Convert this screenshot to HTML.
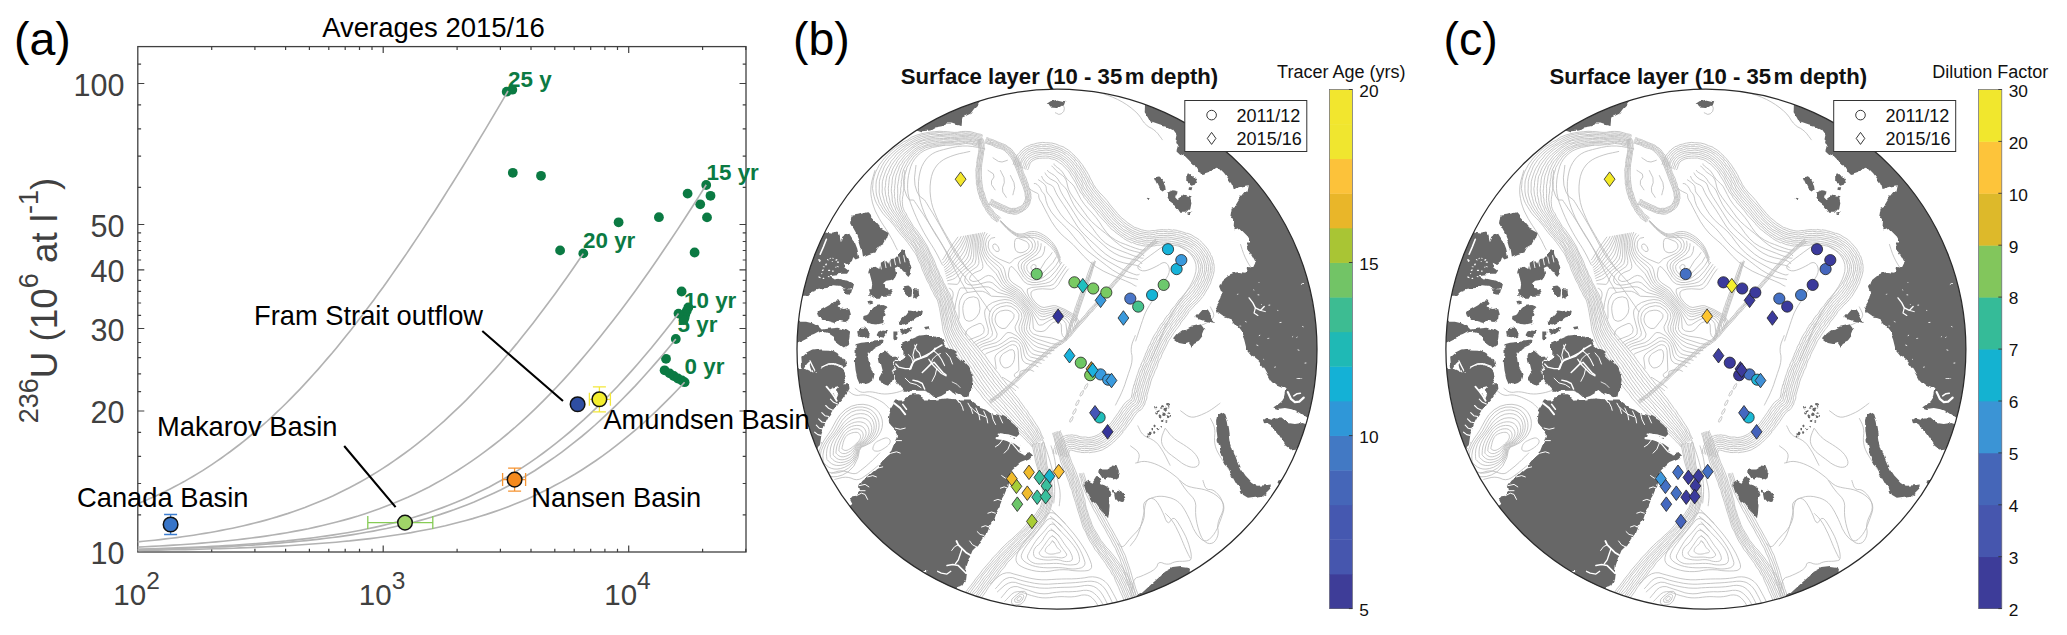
<!DOCTYPE html><html><head><meta charset="utf-8"><style>html,body{margin:0;padding:0;background:#fff}svg{display:block;font-family:"Liberation Sans",sans-serif}</style></head><body>
<svg width="2067" height="635" viewBox="0 0 2067 635">
<rect width="2067" height="635" fill="#fff"/>
<defs><clipPath id="clipb"><circle cx="1057.0" cy="349.2" r="260.0"/></clipPath>
<g id="mapbase">
<circle cx="1057.0" cy="349.2" r="260.0" fill="#fff"/>
<g clip-path="url(#clipb)">
<path d="M979.6 147.0L979.1 146.4L977.2 146.0L974.7 145.4L971.3 144.1L968.8 143.8L965.8 143.4L962.6 144.0L958.8 144.8L955.2 144.7L950.6 145.3L947.0 145.2L942.9 145.1L939.3 145.1L936.1 145.7L932.3 146.1L928.7 147.0L925.5 147.8L922.8 149.6L919.9 151.2L917.3 153.8L914.2 156.0L912.3 158.9L910.4 161.5L908.6 164.7L906.9 167.5L906.3 170.4L905.4 172.9L904.7 175.4L904.8 178.1L904.2 180.5L904.4 182.7L904.2 184.6L904.1 186.8L903.9 188.6L903.6 190.4L903.0 192.9L903.2 195.0L902.6 196.8L902.4 199.5L902.3 201.6L902.5 203.8L902.7 206.6L903.4 208.7L904.4 211.3L906.2 213.6L907.4 216.6L908.8 218.8L910.0 220.7L911.5 223.2L913.3 226.4L916.2 229.5L919.3 233.8L922.2 238.0L925.0 242.5L927.5 246.6L929.2 250.7L931.3 254.9L933.5 259.2L935.2 263.2L936.5 267.2L938.3 270.6L939.6 274.3L941.9 278.3L943.4 282.3L945.3 285.4L946.8 288.7L948.1 291.1L949.8 293.8L951.0 297.1L952.2 300.8L953.7 304.9L954.7 309.8L956.3 313.5L957.8 317.9L959.0 321.2L960.6 325.0L962.4 328.1L964.8 331.1L967.0 334.5L970.3 337.6L973.0 341.3L976.1 344.8L979.0 348.4L981.8 351.8L985.3 355.9L987.8 359.7L990.6 363.5L993.4 366.8L995.6 370.0L998.6 373.5L1001.3 377.6L1004.0 380.7L1007.0 384.6L1009.7 387.8L1012.2 391.0L1014.8 394.6L1017.7 397.8L1020.2 401.5L1022.7 404.8L1025.0 408.3L1027.4 410.9L1029.1 414.1L1031.7 417.4L1033.5 420.3L1035.9 424.1L1038.1 427.2L1040.0 430.9L1041.4 434.5L1042.5 436.8L1043.2 438.1L1044.1 438.9 M980.3 145.7L979.5 145.3L977.5 144.7L975.2 144.2L972.1 143.4L968.5 142.7L965.4 142.2L962.2 142.9L959.0 143.5L954.8 143.8L951.0 143.9L946.9 143.8L942.8 143.7L939.8 144.0L936.2 144.2L932.1 145.0L928.7 145.3L925.3 146.4L921.7 148.4L918.7 149.8L916.4 152.1L913.1 154.5L910.7 157.5L908.4 160.4L906.7 163.4L905.4 166.0L903.8 168.9L902.8 171.8L902.2 174.2L902.2 177.1L901.6 179.7L901.2 181.7L901.4 184.5L901.2 186.2L900.6 188.7L900.8 190.9L900.5 193.2L900.0 195.4L899.9 197.5L899.8 199.9L900.3 202.4L900.4 205.0L901.2 207.2L901.7 209.6L903.0 212.4L904.8 214.7L905.8 217.3L907.3 219.6L908.4 221.3L910.1 223.9L912.4 226.9L914.8 230.7L918.0 234.9L921.1 239.1L923.6 243.1L926.4 247.1L928.5 251.3L930.4 255.8L932.2 259.4L933.5 263.6L935.6 267.4L937.2 271.2L938.9 274.9L940.4 279.3L942.6 283.1L944.4 286.5L945.9 289.2L947.1 291.7L948.5 294.5L949.6 297.3L951.3 301.4L952.3 305.4L953.7 309.9L954.7 314.0L956.0 317.8L957.7 321.9L959.1 325.2L960.8 328.6L962.7 331.9L965.6 335.3L968.2 338.9L971.1 342.3L974.2 346.2L977.2 349.8L980.2 353.6L982.8 357.2L985.7 360.8L988.4 364.8L991.3 368.6L993.5 372.0L996.0 375.2L999.0 379.2L1001.7 382.7L1005.0 386.0L1007.6 389.7L1010.2 392.9L1013.2 396.2L1016.1 399.8L1018.8 403.0L1020.8 406.2L1023.2 409.6L1025.7 412.3L1027.8 415.8L1029.8 418.7L1031.9 421.9L1034.1 425.3L1036.7 428.4L1038.3 432.0L1040.4 434.8L1041.6 437.7L1042.3 439.2L1042.6 440.1 M980.8 144.4L979.8 144.2L977.7 143.6L975.1 143.2L972.3 141.8L969.0 141.4L965.5 141.2L962.2 141.6L958.4 141.8L954.8 142.1L950.9 142.7L947.1 142.5L943.0 142.5L939.4 142.6L935.7 143.0L932.2 143.6L928.5 144.2L924.7 145.5L921.5 146.8L918.1 148.4L914.9 151.0L912.0 153.4L909.6 156.2L907.4 159.0L904.9 161.7L903.3 164.6L901.9 167.5L900.8 170.2L899.9 173.4L899.1 176.2L898.8 179.0L898.3 181.5L898.0 183.6L897.5 186.1L897.7 188.8L897.7 191.0L897.7 193.5L897.6 195.9L897.6 198.6L897.5 200.6L898.0 203.3L898.3 205.5L899.2 208.2L900.2 210.9L901.7 213.4L903.4 215.9L904.6 218.3L906.1 220.5L907.4 222.5L909.1 225.1L911.5 228.2L914.1 231.7L917.2 235.6L919.8 239.6L922.7 244.1L925.0 247.8L927.2 252.1L928.9 255.8L930.7 260.2L932.4 264.0L934.1 267.8L935.7 272.2L937.5 275.7L939.3 279.7L941.0 283.3L943.2 286.8L944.3 290.2L945.9 292.5L947.2 295.1L948.2 298.1L949.8 301.8L950.7 305.8L951.8 310.3L953.0 314.6L954.7 318.5L955.7 322.8L957.5 326.3L958.8 329.8L961.2 332.9L963.5 336.7L966.6 340.0L969.4 343.7L972.5 347.6L975.4 351.4L978.1 354.8L980.9 358.5L983.4 362.6L986.2 366.3L988.7 370.0L991.5 373.3L993.9 377.0L996.9 380.4L999.6 384.0L1002.7 388.0L1005.3 391.0L1008.5 394.8L1011.5 398.0L1013.9 401.5L1016.5 404.7L1019.0 407.8L1021.6 411.0L1023.6 413.9L1026.3 417.0L1028.4 419.8L1030.8 422.9L1033.0 426.4L1035.4 429.1L1037.2 432.9L1038.8 435.9L1040.2 438.5L1041.0 440.1L1041.6 440.5 M981.1 143.0L979.8 143.2L978.0 142.5L975.4 141.8L972.5 141.1L968.8 140.0L965.9 139.8L962.1 140.0L958.4 140.5L954.8 141.3L950.9 141.5L947.0 141.2L943.3 141.4L939.6 141.0L935.4 141.7L931.9 141.9L927.9 142.8L924.2 143.6L920.6 145.3L917.2 147.4L914.1 149.5L911.3 152.0L908.5 154.7L905.6 157.6L903.2 160.6L901.6 163.5L899.5 166.1L898.6 169.3L897.3 172.6L896.2 175.3L895.7 177.8L895.2 180.9L895.2 183.1L894.7 185.7L894.7 188.3L894.2 191.1L894.6 193.7L894.4 196.6L895.1 199.2L895.1 201.5L895.6 204.2L896.4 206.6L897.7 209.5L898.8 211.5L900.3 214.2L902.1 216.9L903.5 219.2L904.7 221.6L906.3 223.3L907.6 225.8L910.1 228.7L912.6 232.5L915.6 236.6L918.9 240.4L921.3 244.5L923.6 248.8L925.8 252.7L927.4 256.9L929.3 260.6L930.9 264.9L932.7 268.9L934.6 272.8L936.3 276.6L938.2 280.4L939.7 284.2L941.7 287.9L943.4 290.8L944.8 293.2L946.1 295.6L947.1 298.5L948.6 302.1L949.2 305.9L950.6 310.6L951.9 314.7L952.8 319.1L954.0 322.8L955.6 326.6L957.1 330.2L959.4 334.0L961.5 337.4L964.8 341.5L967.3 345.5L970.0 348.9L973.3 352.8L975.8 356.6L978.8 360.4L981.7 363.9L984.2 367.7L986.9 371.5L989.4 375.2L992.2 378.5L994.6 382.4L997.9 386.0L1000.6 389.5L1003.7 393.2L1006.4 396.1L1009.5 399.6L1011.9 402.8L1014.9 405.9L1017.2 409.3L1020.0 412.7L1022.4 415.6L1024.5 418.5L1026.8 421.4L1029.4 424.6L1031.4 427.4L1033.6 430.3L1035.7 433.7L1037.6 437.1L1038.8 439.2L1040.2 440.8L1040.4 441.4 M981.1 142.4L980.5 142.0L978.8 141.7L976.2 140.6L972.6 139.8L969.1 139.2L965.7 138.7L962.2 138.8L958.4 139.5L954.4 139.7L950.7 140.2L947.0 139.8L943.5 139.6L939.4 139.9L935.7 140.0L931.8 140.5L927.7 141.3L924.0 142.6L919.8 143.7L916.8 145.6L912.9 147.9L910.0 150.7L907.0 153.2L904.5 155.7L901.8 159.2L899.6 162.0L897.6 165.3L896.4 167.8L894.8 171.2L893.8 174.1L892.7 177.1L892.2 180.3L892.1 183.1L891.7 185.5L891.4 188.6L891.3 191.3L891.8 193.9L892.1 196.7L892.2 199.9L892.7 202.4L893.6 205.2L894.9 207.5L895.8 210.5L897.2 212.6L899.0 215.2L900.4 217.4L902.2 220.1L903.7 222.5L904.7 224.3L906.6 227.0L909.1 229.7L911.4 233.4L914.7 237.1L917.4 241.4L920.3 245.6L922.5 249.4L924.3 253.2L926.3 257.4L928.0 261.0L929.8 265.2L931.3 269.2L932.9 273.3L935.0 277.0L936.5 280.8L938.8 284.9L940.6 288.5L941.9 291.3L943.3 293.7L944.4 296.0L945.5 299.0L947.0 302.5L948.1 306.2L948.8 311.0L950.4 315.2L951.0 319.1L952.4 323.6L953.6 327.2L955.6 331.5L957.5 335.1L959.9 338.6L962.6 342.5L965.4 346.8L968.4 350.1L970.9 354.3L973.7 357.8L976.5 361.4L979.0 365.2L981.9 369.4L984.5 372.7L987.2 376.4L989.8 380.2L992.9 383.9L995.8 387.8L998.8 391.3L1001.7 394.7L1004.6 398.2L1007.4 401.4L1010.3 404.6L1013.2 407.9L1015.6 410.7L1018.0 413.8L1020.3 416.9L1022.9 419.7L1025.1 422.8L1027.7 425.5L1029.8 428.4L1032.4 431.5L1034.4 434.8L1036.4 437.8L1037.4 439.8L1038.8 441.3L1039.4 442.0 M981.7 140.8L980.8 141.0L978.8 140.5L976.1 139.7L972.8 138.5L969.1 137.9L965.6 137.7L962.3 137.8L958.0 138.5L954.8 138.6L950.7 138.7L947.3 138.6L943.4 138.4L939.3 138.6L935.4 138.7L931.1 139.1L926.9 140.0L922.9 140.7L919.2 142.3L915.8 144.3L912.1 146.9L909.2 149.2L906.0 151.9L902.7 154.7L900.0 157.5L897.6 160.4L895.7 163.9L893.6 167.1L892.2 170.2L891.3 173.5L889.7 176.4L889.2 179.4L888.9 182.5L888.6 185.6L888.3 188.2L888.5 191.7L888.4 194.6L889.1 197.3L889.8 200.6L890.2 203.4L891.4 206.1L892.5 208.7L893.8 211.1L895.9 213.8L897.5 216.2L899.0 218.6L900.8 221.1L902.0 223.1L903.6 225.2L905.7 227.9L907.5 230.7L910.2 233.9L913.3 238.0L916.6 242.2L919.2 245.9L921.1 250.3L923.4 254.2L924.8 257.8L927.0 261.9L928.8 265.7L930.1 269.4L932.0 273.9L933.8 277.7L935.4 281.3L937.6 285.7L939.5 288.7L940.8 292.0L942.1 294.7L943.6 296.9L944.6 299.6L945.6 302.9L946.4 306.9L947.3 311.3L948.5 315.7L949.8 319.9L951.2 323.8L951.8 328.3L953.6 331.9L955.7 336.1L958.4 340.1L960.8 344.0L963.6 347.9L966.3 351.6L969.1 355.6L971.7 359.6L974.5 362.9L977.2 367.1L979.9 370.7L982.4 374.3L984.7 378.0L987.5 381.7L990.5 385.4L993.3 389.2L996.3 393.2L999.5 396.3L1002.5 400.1L1005.5 403.2L1008.3 406.1L1011.2 409.2L1013.9 412.2L1016.4 415.4L1018.9 418.5L1021.0 421.3L1023.5 424.0L1026.2 426.7L1028.7 430.0L1030.8 432.8L1032.8 435.6L1034.9 438.5L1036.3 440.9L1037.3 442.2L1037.9 443.2 M981.9 139.9L981.1 139.5L979.0 139.3L976.5 138.5L973.4 137.4L969.3 136.9L965.9 136.3L961.8 136.5L958.0 137.2L954.6 137.5L950.7 137.6L946.9 137.4L943.2 136.7L939.1 136.8L935.5 137.1L931.1 137.8L926.8 138.5L922.9 139.8L918.8 141.3L915.2 143.1L911.2 145.1L907.6 147.9L904.3 150.3L901.4 152.8L898.3 156.3L895.8 159.4L893.7 162.1L891.5 165.4L889.7 169.0L888.5 172.4L886.9 175.6L886.3 178.7L885.6 182.3L885.6 185.4L884.9 188.7L885.3 191.9L885.5 194.6L886.5 197.8L886.8 201.0L888.4 204.1L889.3 207.0L891.0 209.7L892.4 212.1L894.3 214.7L896.2 217.3L897.9 219.6L899.3 221.9L900.7 223.8L902.4 226.3L904.1 228.9L906.7 231.8L909.2 235.4L912.6 239.1L915.0 243.0L917.5 247.0L919.9 250.6L922.0 254.6L923.9 258.4L925.7 262.6L927.2 266.3L929.0 269.9L930.3 274.1L932.1 278.4L934.0 281.9L936.1 286.0L938.2 289.8L939.8 292.7L940.6 295.0L942.1 297.5L943.0 300.3L944.2 303.3L945.2 306.8L945.9 311.8L946.9 315.8L948.0 320.4L949.1 324.3L950.3 328.6L952.1 332.7L954.2 337.3L956.5 340.9L958.9 345.5L961.9 349.1L964.4 353.1L967.3 356.8L969.7 361.0L972.7 364.3L975.1 368.5L977.8 372.1L980.3 375.7L982.5 379.5L985.5 383.3L988.2 387.1L991.1 391.4L994.3 395.0L997.6 398.1L1000.8 401.3L1003.9 404.6L1006.3 408.0L1009.0 411.2L1011.7 414.2L1014.2 417.0L1016.9 419.8L1019.6 422.7L1022.2 425.6L1024.6 428.0L1027.3 430.7L1029.7 433.6L1031.6 436.2L1033.4 439.1L1035.3 441.7L1036.6 443.0L1037.0 443.7 M981.9 138.6L981.4 138.6L979.9 138.1L977.0 137.2L973.4 136.1L969.8 135.5L966.0 135.2L961.9 135.5L958.2 135.8L954.5 136.2L950.8 135.9L947.0 136.0L943.1 135.6L939.5 135.4L935.1 135.9L931.2 136.4L926.6 137.0L922.2 138.2L918.1 139.8L913.8 141.7L910.5 143.7L906.4 146.2L903.3 149.0L900.2 151.5L896.6 154.4L894.2 157.9L891.1 161.2L889.4 164.5L887.0 168.2L885.7 171.2L884.4 174.8L883.3 178.2L882.4 181.6L882.2 185.0L882.3 188.2L882.1 192.1L882.8 195.2L883.6 198.3L884.4 201.4L885.5 205.0L887.4 207.8L888.6 210.5L890.5 213.1L892.6 215.5L894.4 218.3L896.5 220.6L897.9 222.8L899.6 224.8L901.1 226.8L902.7 229.4L905.1 232.6L908.1 236.3L911.4 240.1L914.4 243.6L916.5 247.4L918.6 251.3L920.7 254.9L922.8 259.3L924.1 262.6L925.7 266.9L927.8 270.5L929.0 274.8L930.9 278.4L932.7 282.5L934.8 286.6L936.8 290.0L938.1 293.1L939.9 295.7L940.8 297.9L941.7 300.4L942.5 303.4L943.8 307.6L944.4 311.7L945.7 316.2L946.7 321.0L947.3 325.2L948.4 329.0L950.1 333.5L952.2 337.9L954.7 342.4L956.9 346.4L959.9 350.4L962.7 354.8L965.0 358.4L967.6 362.3L970.2 365.8L972.8 369.7L975.3 373.5L978.1 377.5L980.6 381.5L983.2 385.1L986.1 389.2L989.5 393.0L992.5 396.2L995.2 400.2L998.8 403.4L1001.9 406.9L1004.8 409.6L1007.4 412.6L1010.0 415.6L1012.4 418.3L1015.2 421.4L1018.3 424.3L1020.5 426.8L1023.4 429.2L1025.5 432.1L1027.9 434.8L1030.1 437.6L1032.3 440.2L1034.1 442.6L1035.4 444.0L1035.8 444.3 M982.3 137.6L981.9 137.4L979.7 136.7L977.6 136.0L973.9 135.2L970.0 134.4L965.9 133.9L961.5 134.3L957.6 134.3L954.4 135.0L950.6 134.6L947.4 134.5L943.3 134.2L939.0 134.5L935.2 134.1L930.5 134.6L926.2 135.8L921.6 136.6L917.4 138.3L913.6 140.2L909.6 142.5L905.6 145.1L902.1 147.4L898.5 150.2L895.1 153.0L891.9 156.6L889.0 159.6L886.5 163.2L884.3 166.8L882.9 170.5L881.6 173.7L880.3 177.5L879.4 181.3L879.3 184.9L879.3 188.1L879.1 192.0L879.6 195.2L880.6 199.0L881.7 202.0L883.3 205.6L885.1 208.7L887.0 211.6L889.0 214.1L890.9 216.5L892.8 219.4L895.1 221.2L896.5 223.6L898.2 226.0L899.7 227.7L901.8 230.7L904.0 233.5L906.7 236.9L910.4 240.6L912.8 244.6L915.4 248.3L917.6 252.1L919.4 255.7L921.2 259.6L923.1 263.7L924.6 267.3L926.5 271.6L927.8 275.4L929.6 279.5L931.4 283.3L933.7 287.4L935.7 291.0L937.1 293.9L938.2 296.6L939.6 298.7L940.3 301.0L941.1 304.2L942.5 307.7L943.2 312.4L943.8 316.5L945.0 321.1L945.6 325.5L947.1 330.1L948.5 334.7L950.2 338.9L952.4 343.3L955.6 347.6L958.0 352.0L960.8 356.3L962.9 359.8L966.0 363.7L968.1 367.8L970.8 371.2L973.2 375.0L975.6 378.9L978.1 382.9L981.4 386.8L984.3 390.5L987.0 394.2L990.6 398.0L993.4 401.8L996.8 405.2L999.8 408.5L1002.7 411.5L1005.3 414.4L1008.0 417.1L1010.9 419.8L1013.6 423.0L1016.1 425.4L1019.5 428.2L1021.8 431.0L1024.5 433.0L1026.7 435.5L1029.1 438.4L1031.3 440.8L1033.1 443.0L1034.2 444.6L1034.7 445.1 M982.6 136.4L982.2 136.1L980.3 135.4L977.7 134.8L974.2 134.0L969.9 132.9L965.6 133.0L961.7 132.7L958.0 133.1L954.2 133.6L950.5 133.2L947.0 133.1L943.4 132.8L939.1 132.5L934.9 133.0L930.7 133.3L926.0 134.1L921.5 135.1L916.9 136.8L912.5 138.8L908.4 141.0L904.7 143.7L900.8 146.1L897.2 148.7L893.6 151.8L890.2 155.0L887.2 158.3L884.3 161.9L882.1 165.6L880.2 169.7L878.6 173.1L877.5 176.9L876.3 180.9L876.0 184.5L876.0 188.6L876.1 192.0L876.8 196.0L878.0 199.3L879.2 203.2L881.3 206.3L883.1 209.5L884.9 212.0L887.3 215.0L889.6 217.7L891.6 220.4L893.3 222.4L895.1 224.6L897.1 226.9L898.7 228.5L900.5 231.4L903.1 234.5L906.1 238.1L908.8 241.5L912.0 245.1L914.5 248.8L916.4 252.4L918.0 256.3L920.2 260.3L921.6 263.8L923.3 267.7L924.8 271.8L926.7 276.1L928.3 279.9L930.5 283.7L932.4 287.7L934.5 291.4L935.6 294.5L937.2 297.4L938.4 298.9L939.4 301.1L940.1 304.2L941.0 307.9L941.8 312.8L942.6 316.9L943.2 321.4L944.3 326.3L945.2 330.6L946.7 335.0L948.5 339.8L951.0 344.6L953.4 349.2L955.8 353.1L958.4 357.1L961.2 361.4L963.8 365.3L965.9 369.3L968.8 372.5L971.0 376.7L973.4 380.6L976.3 384.5L979.2 388.5L982.0 392.0L985.1 396.3L988.3 400.0L991.4 403.7L994.6 407.0L997.9 409.9L1000.6 412.8L1003.6 415.9L1006.2 418.4L1009.4 421.7L1011.9 424.2L1014.9 426.7L1017.7 429.7L1020.7 432.1L1022.9 434.3L1025.5 436.8L1027.6 439.4L1029.8 441.7L1031.6 444.2L1032.7 445.2L1033.1 446.4 M982.9 135.3L982.1 135.0L980.8 134.3L977.9 133.8L974.3 132.7L970.0 131.6L965.9 131.4L961.6 131.5L957.5 132.3L954.1 132.4L950.7 132.1L947.2 131.7L943.6 131.5L939.2 131.3L934.8 131.7L930.4 132.1L925.5 132.9L920.9 133.9L916.3 135.3L911.5 137.2L907.8 139.9L903.6 141.9L899.7 144.8L895.7 147.3L891.6 150.7L888.6 153.9L885.0 157.3L882.3 160.9L879.3 165.0L877.4 168.6L875.6 172.1L874.2 176.1L873.1 180.7L872.9 184.4L872.5 188.4L873.2 192.4L874.1 196.5L875.1 200.0L876.7 203.6L878.7 206.8L880.6 209.9L882.8 213.2L885.4 216.2L887.7 218.6L890.4 221.0L892.1 223.5L894.1 225.4L895.5 227.6L897.1 229.9L899.2 232.5L901.5 235.4L904.6 238.7L907.8 242.7L910.4 246.3L912.7 249.8L915.3 253.3L917.2 256.9L918.7 261.0L920.8 264.8L921.9 268.7L923.6 272.6L925.3 276.3L927.1 280.6L929.5 284.6L931.0 288.7L933.2 292.3L934.3 295.1L936.2 298.0L937.3 299.9L938.0 302.0L938.6 304.6L939.5 308.4L940.3 312.7L941.1 317.6L941.9 322.2L942.5 326.5L943.2 331.0L944.9 335.8L946.7 341.0L949.1 346.0L951.6 350.4L954.0 354.8L956.6 359.1L958.9 362.7L961.5 366.9L964.2 370.4L966.3 374.3L968.7 378.2L971.0 382.1L973.8 386.1L977.0 390.2L980.1 393.7L983.1 398.1L986.4 401.6L989.6 405.1L993.0 408.6L996.3 411.5L999.0 414.5L1002.0 417.8L1004.6 420.4L1007.2 422.7L1010.5 425.7L1013.0 428.5L1016.4 430.7L1019.0 433.2L1021.2 435.3L1023.6 437.7L1026.1 440.2L1028.6 443.0L1030.6 444.6L1031.6 446.4L1032.0 446.9 M913.6 200.0L914.6 201.5L916.6 204.4L919.5 208.9L923.5 214.7L927.2 220.5L930.8 226.0L934.1 231.3L937.3 236.4L940.3 241.4L943.3 246.4L946.1 251.2L948.9 255.9L951.6 260.2L954.4 264.2L957.1 267.7L959.9 270.9L962.8 274.4L966.0 278.4L969.3 282.7L972.9 287.4L976.3 292.0L979.5 296.6L982.6 301.1L985.6 305.4L987.8 308.7L989.3 310.9L990.0 312.0 M924.6 200.0L925.4 201.3L927.0 203.8L929.3 207.7L932.5 212.8L935.4 217.7L938.2 222.5L940.8 227.0L943.1 231.3L945.6 235.8L948.2 240.6L950.8 245.5L953.6 250.6L956.5 255.4L959.7 260.0L963.0 264.2L966.6 268.1L970.0 271.9L973.4 275.7L976.6 279.3L979.8 282.9L982.5 285.9L984.7 288.5L986.6 290.6L987.9 292.1L989.0 293.3L989.7 294.1L990.0 294.5 M905.0 170.0L904.5 173.8L903.5 181.2L904.2 188.8L906.8 196.2L909.4 200.0L912.2 200.0L913.6 200.0 M916.0 165.0L915.5 169.2L914.5 177.8L915.0 185.2L917.0 191.8L919.6 196.2L923.0 198.8L924.6 200.0 M985.2 148.9L984.0 148.6L981.5 148.2L977.7 147.4L972.7 146.5L967.7 146.0L962.7 146.0L957.7 146.5L952.7 147.4L948.0 148.5L943.6 149.6L939.5 150.7L935.8 152.0L932.3 153.8L929.2 156.1L926.4 159.0L923.9 162.5L921.8 166.5L920.3 171.0L919.2 176.1L918.5 181.7L918.4 187.2L918.7 192.5L919.5 197.7L920.7 202.7L922.3 207.7L924.2 212.7L926.4 217.7L928.9 222.8L931.4 227.5L933.9 231.8L936.4 235.9L938.9 239.7L941.2 243.4L943.4 247.2L945.5 250.9L947.3 254.7L949.2 258.5L951.1 262.2L953.0 266.0L954.9 269.7L956.9 273.6L959.1 277.7L961.4 281.9L963.9 286.3L965.8 289.6L967.1 291.8L967.7 292.9 M970.2 151.4L969.1 151.6L966.9 152.1L963.6 152.8L959.2 153.7L955.0 154.9L950.9 156.3L947.0 157.9L943.3 159.8L940.0 162.2L937.2 165.0L934.8 168.3L932.9 172.0L931.5 176.3L930.6 181.0L930.1 186.1L930.1 191.8L930.6 197.2L931.5 202.6L932.9 207.7L934.8 212.7L936.9 217.6L939.0 222.3L941.4 226.8L943.9 231.2L946.4 235.5L948.9 239.7L951.4 243.9L953.9 248.0L956.4 252.0L958.9 256.1L961.4 260.2L963.9 264.2L965.8 267.3L967.1 269.3L967.7 270.4 M945.2 145.1L943.9 145.3L941.4 145.8L937.6 146.5L932.6 147.4L928.1 148.9L924.0 150.7L920.4 153.1L917.3 155.9L914.6 159.1L912.4 162.7L910.7 166.7L909.5 171.1L908.5 175.5L907.9 179.9L907.6 184.2L907.6 188.6L908.0 193.2L909.0 197.9L910.4 202.7L912.3 207.7L914.3 212.7L916.5 217.7L918.8 222.8L921.4 227.8L923.9 232.5L926.4 236.8L928.9 240.9L931.4 244.7L933.7 248.4L935.9 252.2L937.9 255.9L939.8 259.7L941.2 262.5L942.2 264.4L942.6 265.3 M875.0 170.2L874.7 171.2L874.1 173.4L873.1 176.7L871.9 181.1L871.1 185.5L870.8 189.9L870.9 194.3L871.6 198.6L872.5 202.9L873.8 206.9L875.3 210.9L877.2 214.6L879.2 218.4L881.4 222.1L883.8 225.9L886.3 229.6L888.6 233.4L890.8 237.2L892.9 240.9L894.7 244.7L896.1 247.5L897.1 249.4L897.6 250.3 M983.1 138.6L982.6 138.6L983.3 140.1L983.6 141.5L984.0 143.9L984.0 143.9L984.1 146.6L984.2 147.2L984.3 149.8L984.0 149.8L983.4 152.8L983.6 153.1L982.9 156.9L982.5 160.2L981.8 163.6L981.5 167.5L981.3 172.0L981.3 175.3L981.6 179.5L981.9 183.2L982.5 186.7L983.0 190.3L984.3 193.1L985.2 196.6L986.2 199.5L987.6 202.6L989.0 205.2L990.5 207.8L992.5 209.9L993.9 212.3L995.5 213.7L996.7 215.0L998.4 216.1L999.7 217.1L1000.5 217.8L1000.9 218.3 M981.8 138.5L982.0 139.1L982.0 140.0L982.4 142.1L982.9 143.8L983.1 144.3L983.3 146.5L983.2 146.6L983.1 149.6L982.8 150.0L982.4 153.0L982.8 152.9L981.8 156.7L981.4 160.2L980.7 163.7L980.4 167.7L980.0 171.9L979.9 175.7L980.0 179.2L980.9 182.9L981.1 186.9L982.0 190.0L983.3 193.4L983.8 196.8L985.4 200.0L986.4 202.7L987.8 205.5L989.8 208.3L991.6 210.7L993.3 212.8L994.6 214.3L996.2 215.8L997.4 217.1L999.0 217.9L999.7 218.6L1000.0 218.8 M981.0 138.6L980.9 139.2L980.8 140.4L981.2 141.8L981.6 144.0L981.6 144.4L982.0 147.1L982.3 147.1L981.8 149.6L981.8 149.8L981.6 153.0L981.7 152.7L980.9 156.3L980.1 159.6L979.9 163.4L979.7 167.4L979.0 171.4L979.0 175.4L979.3 179.4L979.6 183.3L980.1 187.2L981.4 190.7L982.0 194.0L983.1 196.9L984.3 200.3L985.5 203.0L987.4 206.0L988.8 208.9L990.6 211.0L992.5 213.3L993.6 215.3L995.2 216.6L997.2 218.1L997.9 218.9L998.9 219.5L999.2 219.9 M979.4 138.8L979.7 139.7L979.8 140.7L980.2 142.3L980.7 144.4L981.1 146.8L980.6 149.4L980.3 152.9L980.0 156.4L980.0 155.9L979.4 159.9L979.5 159.8L978.8 163.5L979.0 163.4L978.5 167.4L978.7 167.6L978.4 171.7L978.0 171.4L978.1 175.4L978.0 175.7L978.5 179.5L978.4 179.3L978.5 183.7L978.4 183.3L979.0 186.9L979.5 187.5L980.1 190.5L979.9 190.6L981.1 194.4L981.0 194.3L981.9 197.6L982.4 197.7L983.1 200.7L983.5 200.6L985.0 203.7L984.9 203.7L986.6 206.7L986.3 206.4L987.9 209.0L988.0 209.5L989.5 211.8L989.7 211.7L991.5 214.3L991.6 214.0L993.4 215.8L993.3 216.0L994.9 217.7L994.6 217.6L996.3 218.9L997.8 219.8L998.0 220.3L998.8 220.9 M978.8 139.3L978.5 140.0L979.1 140.9L979.6 142.7L979.5 144.7L980.1 146.7L980.0 149.6L979.3 152.7L978.6 156.0L978.8 155.8L978.3 159.6L978.1 159.9L977.6 163.1L977.8 163.6L977.5 167.5L977.4 167.5L977.0 171.3L977.1 171.2L976.8 175.7L976.8 175.8L977.4 179.5L977.3 179.8L977.8 183.2L977.4 183.5L978.2 187.2L977.9 187.4L979.3 190.9L979.1 191.0L980.0 194.7L979.9 194.7L981.1 197.9L981.4 197.7L982.6 201.0L982.5 201.4L983.9 204.1L984.0 204.0L985.4 207.0L985.4 207.3L987.2 209.9L987.0 209.7L988.8 212.2L988.7 212.7L990.3 214.8L990.6 214.6L992.2 216.3L992.4 216.5L994.0 218.1L994.3 218.6L995.6 219.7L997.1 220.4L997.4 221.0L997.8 221.6 M977.6 139.3L977.9 139.7L978.2 141.1L978.2 142.8L978.6 144.9L979.1 146.9L978.9 149.7L978.6 152.5L978.0 156.0L978.0 156.1L977.1 159.5L977.4 159.4L976.7 163.1L977.1 163.2L976.4 167.5L976.2 167.6L975.8 171.1L976.0 171.4L976.2 175.7L976.1 175.6L976.2 179.4L976.4 179.7L976.4 183.7L976.4 183.6L977.4 187.2L977.0 187.4L977.9 191.2L977.9 191.3L978.8 194.6L979.1 194.8L980.0 198.4L979.9 198.2L981.6 201.5L981.6 201.4L982.9 204.8L982.8 204.9L984.5 207.5L984.8 207.6L986.1 210.4L986.1 210.7L988.0 213.0L988.1 213.4L990.0 215.5L989.8 215.4L991.5 217.0L991.4 217.7L993.0 219.3L993.6 219.4L994.8 220.3L996.4 221.1L996.7 221.9L997.2 222.1 M990.9 199.1L991.6 199.5L993.1 199.9L994.7 201.4L997.5 202.5L1000.6 204.0L1003.3 205.3L1006.1 206.4L1009.0 208.0L1011.5 208.5L1013.9 208.3L1016.1 208.4L1017.9 207.4L1020.1 206.7L1021.7 205.7L1023.2 204.2L1024.2 202.3L1025.0 200.6L1025.7 198.0L1025.2 195.7L1025.1 192.9L1024.1 189.9L1023.2 186.9L1022.0 184.0L1020.9 181.1L1019.7 178.0L1018.6 174.9L1017.2 171.3L1016.1 168.7L1014.9 165.6L1013.7 162.7L1012.7 160.6L1011.3 158.2L1010.6 157.0L1008.9 155.2L1007.7 153.3L1006.0 152.3L1004.7 150.6L1002.6 149.5L1000.6 148.6L998.3 148.1L995.5 147.2L992.9 145.7L990.6 144.7L987.8 144.0L986.2 143.2L984.6 143.1L984.2 142.9 M990.8 199.9L991.2 200.4L992.6 201.2L994.5 202.2L997.3 203.6L999.8 205.1L1002.5 206.2L1005.9 207.6L1008.6 208.5L1011.3 209.5L1013.6 209.7L1016.3 209.1L1018.5 208.6L1020.6 207.5L1022.4 206.4L1023.6 204.4L1025.4 203.0L1026.0 200.6L1026.6 198.2L1026.4 195.6L1025.8 192.8L1025.0 189.6L1024.4 186.3L1023.2 183.7L1021.8 180.3L1020.8 177.2L1019.2 174.2L1018.3 170.8L1016.8 167.9L1015.9 165.0L1014.8 162.2L1013.4 160.1L1012.7 157.9L1011.1 155.8L1010.0 154.1L1008.7 152.9L1006.7 151.1L1005.2 150.0L1003.2 148.7L1000.6 147.6L998.6 146.7L995.8 145.8L993.4 144.9L991.2 143.8L988.1 143.3L986.8 142.6L985.2 142.1L984.9 141.5 M990.2 201.2L990.8 201.4L991.8 202.0L993.8 202.9L996.6 204.4L999.5 205.7L1002.4 207.4L1005.4 208.8L1008.5 209.9L1010.9 210.7L1013.7 210.6L1016.5 210.5L1018.8 210.0L1021.1 208.5L1022.8 207.3L1024.7 205.5L1026.1 203.0L1027.2 201.1L1027.5 198.5L1027.8 195.8L1027.2 192.2L1026.3 189.6L1025.0 186.2L1024.0 183.2L1022.9 180.0L1021.8 176.6L1020.1 173.6L1018.9 170.4L1018.2 167.8L1016.5 164.7L1015.4 161.9L1014.4 159.7L1013.5 157.3L1012.0 155.3L1010.6 153.6L1009.4 151.8L1007.3 150.2L1005.6 149.1L1003.7 147.7L1001.5 146.8L998.8 145.7L996.3 145.0L993.8 144.0L991.3 142.8L988.8 142.1L986.7 141.3L985.6 141.1L985.3 140.5 M989.7 202.1L990.0 202.3L991.2 203.2L993.5 204.3L996.2 205.6L996.2 205.6L998.6 207.0L998.5 206.7L1001.9 208.0L1001.5 208.1L1005.0 209.4L1004.5 209.8L1007.7 211.1L1008.1 211.1L1011.2 211.7L1011.2 211.4L1011.2 211.6L1014.0 211.6L1014.0 212.1L1013.7 211.8L1016.6 211.8L1016.5 211.4L1016.6 211.6L1019.4 210.7L1019.2 210.6L1019.2 210.6L1021.3 209.5L1021.9 209.5L1021.8 209.3L1023.8 208.1L1023.8 208.0L1023.7 208.0L1025.8 205.9L1025.3 206.2L1025.9 206.0L1027.1 203.9L1027.0 203.6L1027.0 203.8L1028.1 201.1L1028.4 201.5L1028.2 201.3L1028.7 198.7L1028.8 198.3L1028.6 198.1L1028.7 195.4L1028.5 195.4L1028.6 195.6L1027.8 192.6L1028.0 192.3L1027.2 189.3L1027.4 189.1L1026.3 186.1L1026.5 185.9L1025.3 183.1L1025.2 182.6L1023.8 179.8L1022.8 176.8L1021.6 173.2L1020.0 170.1L1018.7 167.3L1019.1 167.4L1017.6 164.4L1017.6 164.2L1016.7 161.3L1016.3 161.7L1015.3 159.0L1015.5 159.2L1014.1 156.8L1014.3 156.9L1012.9 154.9L1013.4 154.7L1011.7 152.7L1011.5 153.0L1009.8 151.4L1010.3 150.9L1008.5 149.5L1008.4 149.7L1006.2 148.2L1006.3 148.3L1004.0 147.0L1004.3 146.9L1001.8 145.5L1001.7 145.6L999.3 144.8L996.7 143.6L994.3 142.9L991.5 142.2L989.3 140.8L987.6 140.1L985.9 139.9L985.5 139.6 M989.0 202.9L989.5 203.1L990.7 204.1L993.0 205.1L995.7 206.4L995.4 206.5L998.5 207.7L998.4 207.8L1001.4 209.2L1001.2 209.3L1004.3 210.8L1004.3 210.8L1007.2 211.7L1007.5 211.7L1010.8 212.8L1010.6 212.5L1010.9 212.9L1013.9 213.1L1014.0 212.7L1014.0 212.8L1016.7 212.7L1016.7 212.5L1017.2 212.3L1019.7 212.0L1019.9 211.7L1019.8 211.7L1022.1 210.8L1022.3 210.3L1022.5 210.4L1024.4 209.0L1024.1 208.9L1024.6 208.7L1026.3 206.8L1026.2 206.8L1026.2 206.6L1028.1 204.4L1028.2 204.6L1028.5 203.9L1029.4 201.8L1029.1 201.5L1029.2 201.1L1029.9 199.0L1029.7 198.8L1030.0 198.1L1030.0 195.5L1030.0 195.5L1029.9 195.1L1029.3 192.3L1029.3 191.9L1028.5 188.8L1028.1 188.5L1027.1 185.5L1027.1 185.6L1026.4 182.5L1026.2 182.5L1024.8 179.2L1023.9 176.1L1022.3 173.2L1021.3 169.8L1019.9 166.7L1020.0 166.5L1018.4 163.6L1018.9 163.6L1017.5 160.9L1017.4 160.9L1016.4 158.5L1016.1 158.4L1015.2 156.4L1015.0 156.0L1014.0 154.2L1014.1 153.9L1012.5 152.2L1012.2 152.4L1010.7 150.2L1010.7 150.1L1009.1 148.6L1008.6 148.3L1007.1 147.1L1007.0 147.1L1004.9 145.8L1004.4 145.7L1002.4 144.8L1002.0 144.4L999.7 144.0L997.1 142.5L994.3 141.6L991.9 140.6L989.3 140.0L987.9 139.1L986.7 138.8L986.0 138.8 M988.7 203.6L989.0 204.3L990.7 204.7L992.2 206.2L994.8 207.4L995.0 207.6L998.1 208.7L998.1 209.1L1001.0 210.3L1001.1 210.2L1003.8 211.5L1004.1 211.6L1006.9 212.7L1007.6 213.1L1010.5 213.7L1010.6 213.6L1011.0 213.5L1013.6 214.2L1014.0 213.8L1014.0 214.2L1016.9 214.0L1017.3 213.7L1017.6 213.8L1019.8 212.7L1019.8 212.7L1020.6 212.4L1022.6 211.3L1022.5 211.5L1022.8 211.0L1024.8 209.8L1025.2 209.3L1025.2 209.7L1027.0 207.6L1027.2 207.6L1027.5 207.5L1029.0 204.9L1028.9 204.6L1029.5 204.3L1030.0 202.4L1030.2 202.1L1030.2 201.5L1030.7 199.1L1031.0 198.7L1031.1 198.6L1030.8 195.5L1030.8 195.0L1031.0 195.0L1030.4 191.7L1030.2 191.7L1029.5 188.3L1029.3 188.5L1028.2 185.4L1028.5 185.2L1027.4 182.1L1027.1 181.9L1026.3 178.7L1024.7 175.5L1023.3 172.4L1022.5 169.6L1021.2 166.6L1021.0 166.5L1019.8 163.3L1020.0 163.6L1018.8 160.7L1018.7 160.6L1017.7 158.5L1017.3 158.4L1016.2 155.7L1016.4 155.6L1015.0 153.8L1014.6 153.6L1013.3 151.6L1013.2 151.5L1011.8 149.5L1011.2 149.3L1009.7 147.6L1009.3 147.9L1007.7 146.6L1007.6 146.4L1005.1 144.7L1004.9 144.8L1002.7 143.7L1002.4 143.8L999.8 142.7L997.7 141.9L994.8 140.6L992.6 139.6L989.7 138.9L988.1 138.0L986.6 137.6L986.4 137.5 M987.7 170.2L989.6 171.4L993.4 173.9L994.0 177.0L991.5 180.8L991.5 184.6L994.0 188.3L995.3 190.2 M1000.3 170.2L1001.5 172.7L1004.0 177.7L1004.3 182.7L1002.5 187.7L1002.8 192.1L1005.3 195.8L1006.5 197.7 M1010.3 175.2L1011.5 177.7L1014.0 182.7L1014.7 187.7L1013.4 192.7L1012.8 195.2 M992.7 157.6L994.6 158.9L998.4 161.4L1002.1 162.0L1005.9 160.8L1007.8 160.1 M1013.0 164.7L1013.8 162.8L1014.4 161.1L1015.8 158.8L1016.2 157.5L1017.3 155.3L1017.4 154.7L1017.7 154.7L1019.7 152.6L1020.0 151.8L1020.1 151.6L1022.2 150.0L1023.2 148.8L1025.2 147.6L1025.6 147.0L1026.1 146.7L1029.0 145.9L1029.7 145.1L1032.9 144.3L1033.7 144.2L1036.9 143.2L1037.6 143.1L1041.1 142.6L1042.4 142.4L1045.7 142.7L1046.7 142.7L1050.6 143.0L1051.7 143.0L1055.1 143.9L1056.0 144.1L1059.6 145.7L1060.3 145.9L1064.2 147.2L1064.4 147.7L1068.0 149.8L1068.5 150.2L1071.3 152.5L1071.9 153.3L1075.1 156.1L1075.2 156.3L1077.2 158.6L1078.0 159.2L1080.0 162.0L1080.3 162.2L1082.2 164.6L1082.5 164.9L1084.3 168.2L1084.5 167.9L1086.1 171.0L1086.7 171.3L1088.2 174.3L1088.7 174.7L1090.0 177.8L1090.0 178.0L1091.9 181.2L1093.5 184.6L1096.1 188.4L1099.0 192.0L1103.1 196.2L1107.0 200.6L1110.3 205.0L1117.6 213.6L1121.2 217.5L1124.9 220.4L1127.8 222.9L1131.2 225.1L1134.4 227.3L1137.6 228.3L1141.2 229.7L1144.3 230.4L1147.1 231.0L1149.7 231.1L1151.9 230.6L1154.4 230.5L1155.5 230.4L1158.6 229.9L1159.4 229.8L1163.2 229.6L1163.5 229.7L1167.4 229.9L1168.2 229.4L1172.6 230.2L1173.0 229.8L1177.4 230.4L1178.0 230.9L1181.6 231.5L1182.5 231.9L1186.5 233.4L1186.8 233.1L1191.0 234.6L1191.7 235.0L1195.1 237.3L1195.9 237.6L1199.0 239.6L1199.6 240.2L1202.6 243.0L1202.9 243.5L1205.2 246.0L1206.0 246.9L1208.3 249.8L1208.3 250.4L1210.4 253.4L1210.3 254.4L1212.2 257.0L1212.3 258.1L1213.4 261.2L1213.3 262.3L1214.2 265.2L1213.8 266.1L1214.3 266.6L1214.0 270.0L1214.2 270.1L1214.2 270.7L1213.4 274.3L1213.2 275.3L1212.1 278.5L1211.9 278.5L1210.9 281.8L1210.8 282.6L1209.5 285.2L1209.0 285.9L1207.5 289.2L1207.2 289.2L1205.2 292.8L1205.0 293.1L1203.3 296.0L1202.9 296.4L1200.5 299.4L1200.3 299.8L1197.8 302.4L1197.8 302.6L1195.1 304.8L1193.1 307.2L1191.0 309.4L1188.8 311.7L1187.5 314.2L1187.5 314.3L1185.5 316.8L1185.5 316.6L1183.5 319.7L1183.3 319.5L1181.5 321.8L1181.3 321.7L1180.0 324.6L1178.1 327.2L1176.3 329.4L1174.2 332.3L1172.3 335.2L1170.6 338.0L1168.5 340.9L1167.0 344.3L1165.2 347.9L1163.3 351.5L1161.9 354.5L1160.8 357.7L1159.2 360.3L1157.9 363.7L1156.9 367.4L1155.0 370.8L1153.7 374.6L1152.0 378.2L1150.7 382.0L1149.9 385.5L1148.7 389.1L1148.0 391.8L1146.9 395.3L1146.9 398.0L1146.1 400.3L1145.5 401.3L1144.7 404.1L1144.8 404.6L1144.0 404.9L1143.0 407.3L1142.4 407.9L1142.2 408.4L1141.0 409.8L1140.1 410.3L1139.1 410.8L1138.0 411.6L1136.7 413.2L1135.1 415.1L1133.3 417.8L1130.9 421.5L1130.9 421.5L1128.2 425.1L1128.2 425.2L1125.6 428.4L1125.7 428.7L1122.7 431.8L1123.1 432.0L1120.3 435.4L1120.2 435.6L1117.2 438.6L1116.6 439.2L1113.8 442.0L1113.5 441.9L1110.9 444.7L1110.1 444.9L1107.1 447.2L1106.1 447.7L1103.2 449.4L1102.3 449.9L1098.5 451.1L1097.8 451.3L1093.7 452.1L1093.2 452.0L1089.3 452.7L1088.6 452.2L1085.0 452.4L1084.5 452.6L1080.7 452.4L1080.1 452.0L1077.0 451.7L1076.2 451.5L1073.4 450.6L1071.6 450.2L1070.8 450.1L1069.8 450.4L1069.9 450.4L1069.7 450.4L1069.2 450.6L1069.2 452.0L1068.7 453.4L1068.3 455.7L1067.7 456.5L1067.8 457.5 M1015.0 165.3L1015.8 163.4L1016.4 161.6L1017.3 159.6L1017.8 158.8L1018.8 156.3L1019.2 155.7L1019.4 155.9L1021.1 153.8L1021.1 153.4L1021.7 153.1L1023.4 151.0L1023.8 150.9L1026.5 148.9L1026.8 148.8L1027.1 148.8L1029.5 147.4L1030.1 147.1L1033.0 145.9L1033.8 146.1L1037.0 145.3L1037.5 145.4L1041.4 144.4L1042.0 144.8L1046.1 144.8L1046.6 144.4L1050.3 145.0L1051.3 144.9L1054.6 146.1L1055.1 146.4L1059.0 147.4L1059.8 147.8L1062.9 149.3L1063.5 149.6L1066.6 151.5L1067.3 151.6L1070.1 153.9L1070.8 154.8L1073.6 157.1L1074.0 157.1L1075.9 160.3L1076.6 160.3L1078.8 162.7L1079.0 163.3L1080.9 166.1L1080.7 166.0L1082.6 169.0L1083.0 169.2L1084.7 172.3L1085.1 172.5L1086.4 175.3L1086.6 175.5L1088.5 178.7L1088.6 179.0L1090.1 182.4L1092.4 185.4L1094.6 189.5L1097.6 192.9L1101.3 197.7L1105.4 202.2L1109.0 206.0L1116.3 215.1L1119.9 218.4L1123.4 221.8L1126.8 224.5L1130.1 226.6L1133.9 228.9L1137.0 230.1L1140.2 231.5L1143.9 232.3L1147.0 232.8L1149.4 233.0L1152.2 232.8L1155.1 231.9L1155.4 232.3L1158.7 231.4L1159.1 231.5L1163.0 231.4L1163.5 231.3L1167.4 231.7L1167.8 231.8L1172.4 231.7L1172.5 231.9L1176.9 232.4L1177.5 232.4L1181.4 233.3L1182.1 233.7L1186.1 234.7L1186.4 235.2L1189.8 236.9L1190.8 236.7L1194.3 239.0L1194.6 239.2L1197.6 241.1L1198.2 242.0L1200.9 244.3L1201.4 244.9L1204.3 247.8L1204.3 247.9L1206.2 250.9L1207.1 251.6L1208.4 254.4L1208.7 254.9L1210.5 257.9L1210.7 259.0L1211.6 261.7L1211.9 262.9L1212.4 265.5L1211.8 266.1L1212.2 266.6L1211.9 269.9L1212.2 270.3L1212.1 270.7L1211.7 273.5L1211.4 274.4L1210.2 277.9L1210.3 278.0L1209.0 281.3L1208.8 281.7L1207.3 285.0L1207.2 285.2L1205.8 288.1L1205.5 288.4L1203.9 291.6L1203.6 291.8L1201.6 294.7L1201.3 295.3L1199.1 298.1L1198.9 298.1L1196.8 301.1L1196.4 301.5L1193.8 303.6L1191.4 305.9L1189.4 308.3L1187.4 310.8L1185.7 313.1L1185.9 313.1L1184.1 315.9L1183.8 316.0L1181.8 318.0L1182.3 318.0L1179.8 321.0L1179.8 320.9L1178.3 323.1L1176.2 326.1L1174.4 328.3L1172.5 331.3L1170.6 333.7L1169.0 336.5L1166.8 339.6L1165.5 343.2L1163.6 346.9L1162.0 350.3L1160.1 353.8L1158.5 356.7L1157.7 359.8L1156.2 363.2L1154.8 366.5L1153.2 369.9L1151.6 373.9L1150.0 377.7L1148.8 381.4L1148.1 385.0L1147.2 388.2L1146.2 391.7L1145.3 394.8L1144.5 397.6L1144.4 400.3L1144.1 401.0L1143.0 403.3L1143.1 403.7L1142.7 404.4L1141.3 406.0L1140.8 406.8L1140.8 407.2L1139.1 408.4L1138.8 409.3L1138.2 409.4L1136.9 410.6L1135.4 411.9L1133.5 413.8L1131.8 416.5L1129.4 420.1L1128.9 420.2L1126.5 424.0L1126.6 424.1L1124.3 427.6L1124.1 427.9L1121.7 431.0L1121.3 431.0L1119.0 434.3L1118.8 434.6L1116.0 437.2L1115.7 437.4L1112.9 440.1L1112.2 440.9L1109.7 442.9L1108.9 443.5L1106.2 445.3L1105.6 446.1L1102.1 447.4L1101.1 447.6L1097.9 449.3L1097.3 449.2L1093.7 449.9L1092.9 450.1L1088.8 450.4L1088.7 450.4L1084.7 450.6L1084.3 450.6L1081.0 450.4L1080.7 450.1L1077.2 449.3L1076.4 449.2L1073.9 448.5L1071.8 448.5L1070.2 448.1L1069.3 448.4L1068.7 448.5L1068.5 449.3L1068.0 450.1L1067.4 451.3L1066.8 453.1L1066.4 455.3L1065.6 456.1L1065.5 456.9 M1017.0 166.3L1017.7 164.3L1018.2 162.3L1019.2 159.9L1019.1 159.4L1020.6 157.5L1020.6 157.3L1021.1 156.6L1022.7 155.0L1022.9 154.6L1022.8 154.3L1024.8 152.6L1025.0 152.4L1027.4 150.4L1027.5 150.2L1027.8 150.1L1030.4 148.9L1031.1 149.0L1033.7 148.0L1034.3 147.6L1037.9 146.7L1038.0 147.0L1041.6 146.5L1042.4 146.4L1046.1 146.3L1046.7 146.7L1050.0 147.0L1050.5 146.7L1054.2 147.9L1054.7 147.9L1058.3 148.9L1058.8 149.3L1062.5 150.8L1062.6 151.3L1066.0 153.2L1066.5 153.3L1069.0 155.3L1069.6 156.0L1072.4 158.7L1072.3 158.6L1075.0 161.0L1074.8 161.4L1077.1 164.2L1077.0 164.3L1079.1 167.0L1079.2 167.1L1081.3 170.0L1081.1 170.2L1083.3 173.0L1083.1 173.2L1085.1 176.1L1085.2 176.2L1087.0 179.6L1087.1 179.6L1088.5 183.1L1090.7 186.8L1092.9 190.1L1096.4 194.3L1099.9 198.6L1103.7 203.2L1107.5 207.3L1115.0 216.5L1118.8 220.1L1122.5 223.3L1125.7 226.3L1129.1 228.6L1132.6 230.5L1136.3 232.2L1139.5 233.4L1143.4 233.9L1146.6 234.5L1149.7 235.1L1152.1 234.5L1155.3 234.3L1155.9 233.7L1158.9 233.5L1159.6 233.7L1163.2 233.6L1163.6 233.6L1167.5 233.3L1167.8 233.6L1172.3 233.6L1172.1 233.7L1176.4 234.3L1176.6 234.5L1180.9 235.3L1181.0 235.5L1185.0 237.0L1185.4 237.1L1189.1 238.4L1189.8 238.6L1193.1 240.7L1193.3 240.9L1196.6 242.8L1196.9 243.0L1199.9 245.7L1200.1 246.1L1202.9 248.9L1202.8 249.2L1205.1 252.3L1205.2 252.4L1207.1 255.2L1207.1 255.8L1208.4 259.0L1208.6 259.1L1209.7 262.4L1210.0 263.2L1210.2 266.0L1210.3 266.3L1210.3 266.6L1210.5 270.0L1210.4 270.2L1210.4 270.2L1210.0 273.3L1209.4 274.0L1208.5 277.0L1208.6 277.2L1207.3 280.5L1207.6 280.5L1205.9 283.9L1205.6 284.1L1204.0 287.2L1204.0 287.5L1202.1 290.6L1202.0 290.8L1199.7 293.9L1199.7 294.2L1197.4 296.9L1197.3 297.1L1195.3 299.8L1194.9 300.1L1192.3 302.7L1190.1 304.9L1187.8 306.9L1185.9 309.6L1184.1 312.3L1184.1 312.2L1182.6 314.7L1182.6 314.8L1180.7 316.9L1180.5 317.0L1178.6 319.8L1178.7 319.5L1176.5 321.9L1175.0 324.9L1172.7 327.2L1170.8 330.4L1168.8 332.9L1167.5 335.6L1165.5 338.9L1163.6 342.4L1161.5 346.3L1160.0 349.9L1158.5 353.2L1157.2 355.8L1155.5 359.3L1154.6 362.4L1153.2 365.6L1151.6 369.5L1149.7 373.4L1148.8 377.2L1147.4 380.6L1146.1 384.4L1145.2 388.0L1144.3 391.1L1143.5 394.2L1142.9 396.9L1142.2 399.9L1142.0 400.3L1141.1 402.8L1141.0 402.8L1140.9 403.4L1140.0 405.0L1139.4 405.6L1139.3 405.6L1137.7 407.4L1137.7 407.8L1137.0 407.9L1135.5 408.9L1134.0 410.2L1132.3 412.3L1130.3 415.3L1127.5 419.3L1127.5 419.1L1125.2 422.9L1125.2 423.1L1122.8 426.1L1122.4 426.4L1119.8 430.0L1119.8 430.1L1117.1 432.9L1117.3 433.3L1114.5 436.3L1114.2 436.2L1111.3 438.7L1111.3 439.2L1108.1 441.5L1108.0 442.0L1104.9 444.1L1104.3 444.4L1100.9 445.7L1100.8 446.1L1097.3 447.4L1096.7 447.6L1093.1 448.4L1092.8 448.3L1089.0 448.9L1088.9 448.5L1084.9 448.5L1084.4 448.7L1081.3 448.2L1080.9 448.5L1077.7 447.9L1076.9 447.7L1074.2 446.6L1072.1 446.2L1070.3 446.6L1068.7 446.4L1067.9 447.0L1066.6 448.1L1065.9 448.8L1065.4 450.6L1064.7 452.5L1064.1 454.4L1064.2 455.9L1063.9 456.7 M1018.2 166.8L1019.3 165.0L1020.2 163.0L1021.2 160.8L1021.1 160.7L1022.2 158.1L1022.3 158.2L1022.6 158.0L1024.2 156.0L1024.2 155.6L1024.4 155.7L1025.9 153.7L1026.3 153.6L1028.4 152.2L1028.4 151.9L1028.4 151.9L1031.5 150.6L1031.4 150.4L1034.5 149.8L1034.5 149.8L1037.8 148.6L1038.0 149.0L1041.8 148.5L1042.1 148.3L1045.8 148.5L1046.1 148.6L1050.1 148.8L1050.2 148.8L1054.0 149.9L1054.0 149.5L1058.2 151.0L1058.1 151.0L1061.2 152.4L1061.9 152.6L1065.0 154.6L1064.9 154.5L1067.8 157.2L1068.0 157.2L1070.9 160.0L1070.7 159.8L1073.5 162.7L1073.3 162.7L1075.8 165.6L1075.7 165.2L1077.5 168.3L1077.9 168.3L1079.8 170.9L1079.6 171.1L1081.7 174.4L1081.4 174.0L1083.3 177.6L1083.7 177.1L1085.0 180.7L1085.4 180.8L1086.8 184.4L1089.1 187.9L1091.8 191.8L1094.9 195.8L1098.6 200.1L1102.6 204.6L1106.4 208.9L1113.6 217.5L1117.3 221.6L1121.1 224.9L1124.8 227.4L1128.3 230.0L1132.3 232.3L1135.5 233.8L1139.5 235.1L1143.0 235.9L1146.3 236.7L1149.4 236.8L1152.9 236.8L1155.7 235.9L1156.2 236.0L1159.5 235.5L1159.2 235.6L1163.0 235.4L1163.2 235.5L1167.5 235.4L1167.5 235.2L1172.2 235.7L1172.3 235.4L1176.0 236.1L1176.4 236.6L1180.3 237.3L1180.9 237.2L1184.5 238.4L1184.5 238.7L1188.6 240.0L1188.8 240.3L1192.3 242.0L1192.2 242.5L1195.7 244.6L1195.6 244.7L1198.5 247.2L1199.0 247.3L1201.2 250.2L1201.3 250.2L1203.2 253.3L1203.6 253.5L1205.2 256.5L1205.6 256.3L1206.9 259.3L1206.9 259.9L1207.9 262.8L1207.8 263.0L1208.6 266.4L1208.5 266.5L1208.3 266.9L1208.6 269.9L1208.4 270.2L1208.2 270.0L1208.0 273.3L1208.0 273.6L1206.8 276.4L1207.0 277.0L1205.6 279.8L1205.8 279.8L1204.0 283.2L1204.1 283.4L1202.1 286.7L1202.2 286.5L1200.2 289.6L1200.4 290.0L1198.2 292.5L1198.5 293.1L1196.1 295.7L1196.2 295.7L1193.6 298.4L1193.4 298.4L1191.0 300.8L1188.7 303.7L1186.8 305.8L1184.5 308.7L1183.0 310.8L1182.5 311.2L1180.7 313.6L1181.1 313.3L1178.8 316.0L1178.7 316.0L1177.1 318.5L1177.2 318.6L1175.2 321.2L1173.1 323.4L1171.2 326.1L1169.7 329.2L1167.7 331.7L1165.8 335.1L1163.9 338.2L1162.0 341.2L1159.9 345.1L1158.3 348.8L1157.0 352.0L1155.6 355.1L1154.2 358.1L1152.7 361.5L1151.0 365.0L1149.9 368.6L1147.9 372.7L1146.6 376.3L1145.3 380.3L1144.3 383.7L1143.1 387.1L1142.5 390.5L1141.5 393.8L1141.0 396.4L1140.7 399.3L1140.1 399.5L1139.3 402.1L1139.6 401.8L1139.1 402.3L1138.2 404.0L1138.1 404.1L1137.9 404.5L1136.8 406.1L1136.4 405.9L1136.2 406.3L1134.7 407.3L1133.1 409.1L1131.0 411.6L1128.8 414.1L1126.3 418.1L1126.1 417.8L1123.3 421.9L1123.4 422.1L1121.2 425.3L1121.0 425.3L1118.4 428.8L1118.7 428.5L1115.8 431.7L1115.5 431.7L1112.9 434.9L1112.8 434.9L1110.5 437.5L1110.4 437.5L1107.0 439.9L1106.8 440.1L1104.0 442.5L1103.4 442.2L1100.0 444.1L1100.1 444.0L1096.4 445.7L1096.2 445.4L1092.9 446.2L1092.6 446.2L1088.9 446.8L1088.5 446.6L1085.1 446.8L1084.8 446.7L1081.1 446.4L1081.0 446.6L1078.0 446.0L1077.5 445.7L1074.9 444.9L1072.1 444.2L1070.1 444.4L1068.0 444.8L1066.5 445.5L1065.4 446.6L1064.3 447.8L1063.8 449.8L1062.9 452.3L1062.3 454.0L1062.1 455.3L1062.3 455.9 M1020.2 167.7L1020.7 166.9L1021.1 165.6L1021.4 163.6L1022.4 161.3L1023.8 159.1L1025.6 157.0L1027.5 155.2L1029.4 153.9L1032.1 152.3L1035.0 151.7L1038.2 150.9L1042.0 150.5L1046.0 150.0L1049.6 150.6L1053.6 151.6L1057.5 152.6L1060.8 154.5L1063.7 156.4L1066.7 158.6L1069.5 161.2L1072.1 163.6L1074.0 166.8L1076.3 169.6L1077.9 172.1L1080.0 175.3L1081.7 178.0L1083.4 181.7L1085.4 184.8L1087.3 189.0L1090.2 192.7L1093.2 196.8L1097.1 201.2L1100.9 205.4L1104.9 210.0L1108.3 214.5L1112.1 218.6L1116.1 222.4L1120.0 226.2L1123.4 229.4L1127.4 231.4L1131.3 233.6L1134.8 235.6L1138.8 237.2L1142.7 237.7L1146.2 238.2L1149.7 238.5L1153.0 238.1L1156.1 237.7L1159.3 237.4L1163.6 237.3L1167.7 237.0L1171.9 237.6L1176.0 238.4L1180.1 238.9L1184.1 240.6L1187.8 242.0L1191.1 244.1L1194.7 245.7L1197.4 248.8L1199.8 251.1L1202.1 254.3L1203.6 257.0L1204.9 260.5L1206.0 263.5L1206.5 266.6L1206.6 269.9L1205.7 273.0L1204.7 276.1L1204.1 279.4L1202.3 282.6L1200.6 285.6L1199.0 288.4L1196.6 291.7L1194.9 294.3L1192.2 297.4L1189.5 299.9L1187.5 302.4L1185.0 304.8L1182.9 307.2L1181.4 309.6L1179.4 312.1L1177.6 314.9L1175.3 317.6L1173.7 320.0L1171.5 322.7L1169.9 325.1L1167.6 328.1L1165.8 330.9L1164.0 333.7L1162.1 337.0L1160.2 340.9L1158.4 344.3L1156.7 348.2L1154.8 351.3L1153.8 354.5L1152.2 357.3L1151.1 360.8L1149.3 364.0L1147.9 368.0L1146.4 371.9L1144.8 375.9L1143.8 379.5L1142.5 383.4L1141.4 386.9L1140.3 389.9L1139.9 393.0L1138.9 396.2L1138.6 399.0L1137.9 401.1L1136.8 403.4L1135.4 404.6L1133.1 406.0L1131.3 407.4L1129.5 410.3L1127.1 413.0L1124.6 416.9L1122.0 420.8L1119.3 424.0L1117.1 427.5L1114.6 430.3L1111.9 433.3L1108.8 436.3L1106.0 438.7L1102.7 440.8L1099.5 442.4L1095.9 443.8L1092.1 444.5L1088.7 444.6L1084.8 445.2L1081.7 444.4L1078.4 444.2L1075.1 442.9L1072.2 442.3L1069.7 442.3L1067.4 442.8L1065.7 443.9L1064.3 445.5L1062.6 447.2L1062.0 449.0L1061.4 451.4L1060.6 453.7L1060.5 455.1L1060.2 455.6 M1022.3 168.5L1022.7 166.4L1023.7 164.5L1024.2 162.4L1025.5 159.9L1026.8 158.1L1028.8 156.5L1030.2 155.6L1032.7 154.3L1035.5 153.2L1039.0 152.7L1042.3 152.4L1046.1 152.4L1049.4 152.5L1053.3 153.3L1056.5 154.6L1060.0 156.0L1062.6 158.1L1065.4 160.0L1068.0 162.2L1070.3 165.0L1072.4 167.5L1074.7 170.4L1076.2 173.1L1078.1 176.3L1080.3 179.4L1082.0 182.4L1083.3 185.9L1083.4 186.3L1085.6 189.7L1085.9 189.6L1088.7 193.7L1088.7 193.8L1092.0 197.7L1091.8 198.1L1095.5 202.4L1099.6 206.6L1103.2 211.4L1110.6 219.9L1110.9 220.3L1114.7 224.3L1114.7 223.9L1118.7 227.6L1118.4 227.7L1122.3 230.4L1122.4 230.5L1126.2 233.2L1126.7 233.1L1130.1 235.2L1130.3 235.5L1134.0 237.1L1134.2 237.6L1138.3 238.7L1138.3 238.6L1142.3 239.4L1142.2 239.8L1145.9 240.6L1146.1 240.1L1149.3 240.5L1149.5 240.4L1153.2 240.2L1153.6 240.2L1156.3 239.4L1159.7 239.2L1163.5 239.1L1167.5 239.1L1171.6 239.2L1175.8 239.9L1179.6 241.0L1183.4 242.0L1187.1 243.4L1190.5 245.7L1193.6 247.5L1195.9 249.9L1198.5 252.4L1200.4 255.2L1201.9 257.9L1203.4 260.9L1204.2 263.9L1204.8 266.9L1204.7 269.9L1204.3 272.3L1203.4 275.7L1201.9 278.4L1200.9 281.8L1198.8 284.8L1197.5 287.6L1195.1 290.4L1193.0 293.5L1191.0 295.7L1188.5 298.6L1188.2 298.7L1186.0 300.7L1185.8 300.9L1183.5 303.6L1183.6 303.8L1181.6 306.1L1181.8 305.9L1179.6 308.9L1177.9 311.4L1175.7 313.9L1173.9 316.1L1172.0 318.8L1172.3 318.9L1170.3 321.2L1170.3 321.3L1168.5 324.1L1168.1 324.0L1166.4 326.9L1166.1 326.7L1164.5 329.4L1164.3 329.9L1162.2 332.5L1162.6 333.1L1160.6 336.3L1160.6 336.2L1158.8 340.0L1158.6 339.9L1156.3 343.3L1156.6 343.7L1154.6 347.3L1155.1 346.9L1153.4 350.6L1153.2 350.6L1151.7 353.7L1152.1 353.7L1150.6 356.7L1150.7 356.8L1149.1 360.0L1149.3 360.3L1147.6 363.3L1147.6 363.4L1146.3 367.1L1146.0 367.3L1144.3 371.2L1144.9 371.2L1143.2 375.3L1143.3 375.5L1141.9 378.8L1142.0 378.8L1140.6 382.4L1140.5 382.6L1139.7 386.5L1139.4 386.5L1138.7 389.4L1138.5 389.5L1137.7 392.6L1138.1 392.8L1137.1 396.0L1137.5 395.8L1136.6 398.3L1135.7 400.6L1135.1 402.1L1134.0 403.3L1132.3 404.2L1132.1 404.1L1132.1 404.5L1130.4 406.3L1130.3 406.2L1127.9 408.9L1127.9 409.2L1125.5 412.2L1125.6 412.5L1122.7 416.2L1120.4 419.7L1118.1 422.7L1115.1 426.5L1113.0 429.5L1110.1 432.2L1107.7 434.5L1104.8 436.9L1101.8 439.0L1098.8 440.8L1095.6 442.1L1092.2 442.4L1088.2 443.0L1085.0 443.0L1081.8 442.6L1078.5 442.0L1075.5 441.2L1075.6 441.0L1072.7 440.8L1072.3 440.7L1072.3 440.9L1069.4 440.7L1069.4 440.5L1069.5 440.6L1067.2 441.3L1067.1 441.0L1066.8 441.1L1066.8 441.0L1064.7 442.5L1064.3 442.3L1064.5 442.4L1063.1 443.8L1062.6 444.0L1062.6 444.0L1061.3 446.0L1060.9 445.9L1060.8 446.3L1059.9 448.4L1060.1 448.6L1059.8 448.8L1059.4 451.3L1058.6 452.8L1058.4 454.5L1058.2 455.2 M1024.1 169.1L1024.3 167.1L1025.5 165.4L1025.9 163.0L1027.0 161.2L1028.3 159.8L1029.6 158.0L1031.6 157.2L1033.4 156.3L1036.2 155.3L1038.8 154.6L1042.5 153.8L1045.6 153.9L1049.5 154.3L1052.6 155.0L1055.8 156.2L1058.7 157.4L1061.8 159.2L1064.3 161.1L1066.7 163.6L1069.1 166.5L1071.4 169.1L1073.2 171.6L1075.2 174.2L1076.6 177.0L1078.3 179.9L1080.2 183.4L1082.0 186.5L1081.7 186.9L1084.0 190.5L1084.3 190.8L1086.7 194.7L1087.1 194.7L1090.4 199.4L1090.5 199.4L1094.0 203.4L1098.2 208.2L1101.6 212.3L1109.2 221.4L1109.3 221.7L1113.4 225.2L1113.5 225.7L1117.1 228.8L1117.5 229.5L1121.0 232.1L1121.2 232.2L1125.4 235.1L1125.3 234.9L1129.0 237.2L1129.5 237.5L1133.2 239.0L1133.8 238.9L1137.3 240.7L1138.0 240.9L1141.8 241.4L1141.8 241.5L1145.3 242.2L1145.9 242.0L1149.6 242.2L1149.8 242.3L1153.3 242.4L1153.9 242.0L1156.9 241.7L1159.9 241.1L1163.1 240.9L1167.5 240.9L1171.7 241.5L1175.5 242.2L1179.1 243.0L1182.8 244.1L1185.9 245.1L1189.4 246.8L1192.0 248.7L1194.9 251.4L1197.1 254.0L1198.8 256.3L1200.2 259.0L1201.3 261.8L1202.1 264.6L1202.7 266.7L1202.5 269.3L1202.3 272.2L1201.3 275.0L1200.1 277.8L1198.7 280.6L1197.5 283.8L1195.6 286.8L1193.7 289.5L1191.4 292.2L1189.4 294.6L1187.0 296.9L1187.1 297.2L1184.5 299.4L1184.2 299.9L1182.2 302.1L1182.4 302.1L1180.1 304.7L1180.3 305.0L1178.3 307.3L1176.3 309.8L1174.4 312.8L1172.6 315.1L1170.8 317.7L1170.3 317.8L1168.8 320.3L1168.7 320.6L1166.6 323.2L1166.7 323.0L1164.7 325.5L1164.9 325.8L1163.0 328.9L1163.0 328.7L1160.7 331.5L1160.9 332.0L1158.9 335.5L1158.6 335.1L1156.6 338.6L1157.0 338.7L1154.8 342.7L1154.6 342.8L1153.2 346.0L1152.9 346.3L1151.8 349.7L1151.3 349.5L1149.9 352.8L1149.8 353.1L1149.0 356.1L1148.6 356.1L1147.4 359.2L1147.5 359.2L1145.7 362.5L1146.3 363.1L1144.6 366.8L1144.6 366.5L1142.9 370.5L1142.6 370.5L1141.6 374.5L1141.5 374.5L1139.9 378.1L1140.0 378.7L1139.1 382.2L1139.0 382.2L1138.0 385.8L1137.8 385.6L1137.0 389.0L1137.1 389.3L1136.3 392.2L1135.9 392.0L1135.2 395.1L1135.4 395.0L1134.6 397.6L1134.2 399.7L1133.6 401.1L1132.3 401.8L1131.3 402.7L1130.8 402.7L1131.0 403.2L1128.7 404.9L1128.8 405.2L1126.3 407.6L1126.5 408.1L1124.0 411.0L1123.6 411.3L1121.2 415.1L1118.9 418.6L1116.3 421.8L1113.8 425.2L1111.5 428.1L1108.8 431.1L1106.2 433.2L1103.3 435.6L1100.5 437.7L1097.7 439.3L1094.9 440.1L1092.0 441.0L1088.2 441.1L1084.9 440.9L1082.2 441.0L1079.0 440.5L1076.2 439.5L1075.9 439.5L1072.5 438.9L1072.2 438.6L1072.0 439.0L1069.5 439.0L1069.0 438.5L1069.0 438.8L1066.6 439.3L1066.6 439.3L1066.2 439.6L1065.8 439.8L1064.1 440.6L1063.3 441.1L1063.0 441.4L1061.6 442.7L1061.3 442.9L1061.2 443.1L1059.7 445.0L1059.2 445.4L1059.2 445.6L1058.1 447.3L1058.0 447.6L1058.2 448.0L1057.6 450.8L1057.0 452.4L1056.4 453.9L1056.3 454.6 M1025.8 169.7L1026.1 168.0L1027.0 165.6L1028.2 163.9L1028.9 162.2L1030.0 160.6L1031.2 159.7L1032.7 158.7L1034.5 157.8L1036.4 157.2L1039.2 156.5L1042.6 156.2L1045.7 156.0L1049.1 156.4L1052.2 157.0L1055.3 158.0L1058.3 159.2L1060.6 160.7L1062.9 162.5L1065.3 164.9L1067.6 167.3L1069.9 169.8L1071.4 172.4L1073.4 175.2L1075.2 177.8L1076.6 181.0L1078.4 184.1L1080.3 187.7L1080.5 187.7L1082.3 191.8L1082.5 192.1L1085.3 196.0L1085.5 196.1L1088.9 200.0L1089.0 200.6L1092.6 205.2L1096.4 209.4L1100.5 213.7L1107.8 222.3L1107.9 222.8L1111.9 226.5L1112.3 226.6L1115.9 230.1L1116.0 230.4L1120.0 233.7L1120.3 234.1L1124.4 236.5L1124.4 236.9L1128.1 239.1L1128.9 239.1L1132.4 240.5L1133.2 241.1L1136.9 242.3L1137.5 242.5L1141.2 243.4L1141.8 243.4L1145.0 244.3L1145.6 244.0L1149.6 244.5L1149.9 244.3L1153.1 243.8L1154.2 244.1L1157.2 243.5L1159.9 242.8L1163.4 243.1L1167.1 242.7L1171.5 243.4L1175.1 244.0L1178.4 244.4L1182.1 245.9L1185.2 247.1L1188.3 248.9L1190.7 250.4L1193.2 252.4L1195.5 254.8L1197.2 257.4L1198.4 259.7L1199.4 262.6L1200.6 264.6L1201.0 266.9L1200.6 269.4L1200.1 271.8L1199.5 274.5L1198.3 277.2L1197.2 279.9L1195.5 282.4L1194.3 285.8L1192.2 288.0L1190.1 290.7L1188.3 293.5L1185.5 295.9L1185.6 295.6L1183.1 298.6L1182.8 298.5L1181.0 301.0L1180.6 301.1L1179.0 303.5L1178.6 304.1L1176.6 306.2L1174.7 308.7L1172.6 311.4L1171.2 313.7L1169.3 316.8L1169.1 316.7L1167.2 318.9L1167.1 319.4L1165.2 321.8L1165.0 322.0L1163.5 324.9L1163.2 324.4L1161.2 327.7L1161.2 327.5L1159.2 331.0L1158.9 331.2L1157.3 334.4L1157.3 334.4L1155.0 338.1L1155.0 337.8L1153.4 341.6L1153.4 342.2L1151.3 345.3L1151.7 345.5L1150.0 348.7L1149.9 348.8L1148.5 352.1L1148.2 352.2L1147.0 355.2L1147.0 355.5L1145.4 358.7L1145.6 358.4L1144.0 361.9L1144.4 362.3L1142.8 366.1L1142.8 365.9L1141.3 370.1L1140.8 370.2L1139.5 373.9L1139.7 374.1L1138.3 377.6L1138.0 377.9L1137.0 381.6L1137.0 381.8L1136.2 385.1L1135.8 385.2L1135.1 388.7L1135.3 388.4L1134.4 391.9L1134.5 392.2L1133.4 395.1L1133.5 394.8L1133.0 397.2L1132.7 398.6L1131.7 399.5L1131.6 400.6L1130.3 400.8L1129.7 401.2L1129.7 401.5L1127.4 403.7L1127.1 403.8L1125.2 406.7L1124.7 406.8L1122.2 409.8L1122.0 410.2L1120.0 413.9L1117.4 417.1L1115.0 420.6L1112.4 424.0L1109.9 427.1L1107.5 429.6L1105.2 431.9L1102.4 433.8L1099.8 435.9L1096.9 437.0L1094.3 438.4L1091.4 439.2L1088.3 439.3L1085.3 439.2L1082.4 438.8L1079.4 438.3L1076.8 437.3L1075.7 437.6L1073.1 436.8L1072.9 437.1L1072.0 436.8L1069.8 437.0L1068.8 436.8L1068.5 436.7L1066.5 437.3L1065.7 437.4L1065.3 437.8L1065.1 438.0L1062.9 439.2L1062.3 439.3L1062.1 439.7L1060.3 441.1L1060.0 441.2L1059.3 441.9L1058.4 443.5L1057.8 444.4L1057.7 444.5L1056.4 447.1L1056.2 447.1L1056.1 447.5L1055.8 450.0L1055.4 452.3L1055.0 453.3L1054.9 453.8 M1027.4 170.0L1028.4 168.6L1028.9 166.7L1029.7 164.6L1030.2 163.1L1031.2 162.0L1032.0 161.0L1033.3 160.4L1035.2 159.4L1036.9 158.7L1039.4 158.3L1042.6 158.1L1045.5 158.1L1048.5 158.0L1051.4 158.9L1054.4 159.5L1057.0 160.9L1059.5 162.8L1061.9 164.3L1063.9 166.2L1066.2 168.8L1068.4 171.0L1070.2 173.8L1071.6 176.3L1073.5 179.2L1075.3 182.2L1076.7 184.9L1078.2 188.4L1078.8 188.8L1080.6 192.7L1081.3 192.9L1084.0 196.9L1083.9 197.3L1087.5 201.3L1087.5 202.0L1091.4 206.1L1095.4 210.6L1098.7 215.2L1106.6 223.6L1106.6 224.0L1110.8 228.2L1110.7 228.5L1114.9 231.6L1115.0 232.0L1119.0 234.9L1119.6 235.4L1123.1 237.9L1123.8 238.6L1127.3 240.7L1128.2 241.0L1131.5 242.8L1132.5 242.5L1136.0 244.0L1136.6 244.4L1140.5 245.2L1141.1 245.5L1145.0 246.0L1145.7 246.0L1149.4 246.1L1150.2 246.2L1153.2 245.9L1154.4 245.9L1157.2 245.2L1160.3 245.2L1163.3 244.5L1167.1 244.8L1171.2 245.3L1174.9 245.4L1178.3 246.1L1181.4 247.2L1184.4 248.5L1187.4 250.6L1189.6 252.0L1191.6 253.9L1194.1 256.0L1195.3 258.2L1197.2 260.6L1197.7 262.8L1198.5 265.2L1198.6 267.0L1199.0 269.1L1198.7 271.3L1197.8 273.7L1197.0 276.1L1195.8 279.2L1194.2 281.7L1192.6 284.5L1190.5 287.1L1188.5 289.4L1186.4 291.9L1184.3 294.3L1183.9 294.6L1182.0 296.9L1181.6 297.5L1179.2 299.7L1178.9 300.0L1177.4 302.7L1176.9 302.9L1175.4 305.4L1173.1 307.8L1171.3 310.0L1169.7 313.1L1167.6 315.6L1167.3 315.4L1165.4 318.2L1165.4 318.1L1163.8 320.9L1163.9 321.0L1161.6 323.8L1161.8 323.4L1159.5 326.3L1159.7 326.5L1157.7 329.6L1157.7 330.3L1155.7 333.2L1155.4 333.5L1153.3 336.9L1153.2 337.2L1151.5 340.8L1151.2 341.3L1150.0 344.8L1149.7 344.6L1148.0 347.8L1148.1 348.3L1146.6 351.6L1146.8 351.6L1145.1 354.4L1145.5 354.6L1144.0 357.9L1144.0 358.1L1142.7 361.2L1142.4 361.5L1140.8 365.0L1141.2 365.1L1139.2 368.9L1139.2 369.0L1137.8 373.3L1137.8 373.5L1136.4 376.9L1136.4 377.3L1135.4 381.1L1135.1 380.9L1134.5 384.9L1133.9 384.5L1133.2 387.9L1133.1 388.0L1132.2 391.1L1132.4 391.6L1132.0 394.5L1131.8 394.6L1131.5 397.0L1130.9 398.0L1130.4 398.5L1130.0 398.9L1129.5 399.6L1128.9 400.1L1128.3 400.4L1126.2 401.9L1125.5 402.5L1123.5 405.0L1123.0 405.8L1121.0 408.6L1120.5 409.2L1118.3 412.8L1115.6 416.5L1113.6 419.4L1111.1 422.9L1108.5 425.7L1106.4 428.2L1103.7 430.4L1101.4 432.5L1098.6 434.4L1096.2 435.6L1094.0 436.5L1091.3 437.2L1088.2 437.6L1085.6 437.0L1082.4 437.1L1080.1 436.8L1077.2 435.7L1076.6 435.4L1073.2 435.2L1072.6 434.9L1072.1 434.8L1069.5 435.2L1068.8 434.9L1068.3 435.3L1065.7 435.4L1065.3 435.9L1064.6 436.1L1064.0 436.1L1062.1 437.0L1061.4 437.6L1060.7 438.4L1059.2 439.4L1058.6 440.3L1058.0 440.9L1056.7 442.3L1056.3 443.0L1055.8 444.1L1054.7 446.2L1054.6 446.6L1054.8 447.5L1053.7 449.6L1053.5 451.9L1053.3 452.9L1052.6 453.3 M1158.1 241.3L1150.5 247.3L1147.2 250.1L1144.3 252.9L1141.2 255.8L1137.9 258.8L1135.0 261.9L1131.6 265.4L1128.2 269.0L1125.2 272.7L1121.9 276.7L1118.7 280.4L1115.0 284.5L1112.0 288.2L1108.4 292.0L1105.4 295.9L1102.2 299.9L1098.5 303.8L1098.6 303.9L1095.4 307.7L1095.3 307.8L1091.8 312.1L1091.4 311.8L1088.0 316.0L1088.0 315.9L1084.2 320.5L1080.2 324.8L1076.8 328.5L1073.7 332.3L1070.5 336.2L1070.7 335.8L1067.8 338.9L1067.4 339.5L1064.6 341.8L1064.4 341.9L1061.3 344.3L1061.1 344.1L1058.6 345.8L1056.0 347.4L1053.4 349.5L1050.8 351.5L1048.4 353.5L1048.6 353.3L1046.0 355.5L1046.0 355.2L1043.7 357.4L1043.5 357.7L1040.8 359.5L1040.8 359.8L1038.4 361.8L1035.9 364.3L1033.2 366.3L1031.0 368.7L1028.1 370.9L1025.7 373.1L1023.1 375.5L1020.7 377.9L1018.1 380.7L1018.2 380.4L1015.3 382.9L1015.2 383.0L1012.6 385.7L1012.4 385.3L1009.5 387.9L1009.3 388.3L1006.3 390.9L1006.4 391.0L1003.7 393.1L1003.4 393.6L1000.7 395.7L1000.8 395.9L997.8 398.0L997.6 397.9L994.9 400.1L993.0 401.5L991.7 402.5L990.7 403.3 M1157.3 240.6L1149.9 246.7L1146.6 249.4L1143.5 252.1L1140.7 255.1L1137.5 258.0L1134.2 261.4L1130.7 264.9L1127.8 268.3L1124.5 272.1L1120.9 276.1L1117.5 280.0L1114.7 283.6L1111.4 287.4L1108.0 291.4L1104.8 295.3L1101.4 299.0L1097.7 303.2L1098.0 303.1L1094.3 306.9L1094.4 306.8L1091.1 311.3L1091.1 311.3L1087.1 315.2L1087.3 315.2L1083.3 319.8L1079.6 323.8L1076.0 328.0L1072.7 331.8L1069.7 335.3L1069.7 335.4L1066.8 338.3L1066.7 338.5L1064.1 341.1L1063.7 341.1L1060.8 343.3L1061.0 343.3L1057.8 344.9L1055.1 346.7L1052.5 348.8L1050.1 350.6L1047.9 352.6L1047.9 352.5L1045.4 354.9L1045.2 354.7L1042.8 356.6L1042.7 356.9L1040.2 359.0L1040.2 358.9L1037.6 361.1L1035.4 363.2L1032.7 365.8L1030.0 367.8L1027.7 370.4L1024.8 372.6L1022.3 374.7L1020.1 377.1L1017.5 379.9L1017.4 379.8L1014.7 382.1L1014.6 382.1L1012.0 384.9L1012.0 384.6L1008.9 387.3L1009.0 387.5L1006.1 390.2L1006.0 390.2L1002.7 392.6L1002.7 392.5L999.8 395.2L999.8 395.2L997.4 397.2L997.3 397.0L994.2 399.0L992.1 400.6L991.2 401.7L990.3 402.3 M1156.5 239.6L1149.0 246.1L1149.1 245.9L1146.2 248.6L1146.1 248.4L1142.8 251.5L1142.9 251.3L1140.0 254.2L1140.1 254.4L1136.7 257.1L1136.7 257.3L1133.6 260.5L1133.5 260.7L1130.1 264.2L1130.4 263.8L1127.1 267.8L1127.0 267.6L1123.4 271.3L1120.2 275.5L1116.9 279.0L1113.6 282.9L1110.4 287.1L1107.3 290.6L1103.7 294.5L1100.7 298.7L1097.2 302.6L1093.7 306.5L1090.1 310.4L1086.7 314.9L1082.6 319.4L1082.6 319.3L1078.7 323.2L1078.7 323.4L1075.5 327.2L1075.4 327.2L1072.3 331.3L1072.0 331.4L1069.2 334.5L1066.1 337.6L1063.4 340.6L1060.2 342.3L1057.5 344.3L1057.5 344.1L1054.4 345.9L1054.6 346.0L1052.0 347.9L1052.2 347.8L1049.7 349.6L1049.2 349.9L1046.9 352.1L1044.7 353.7L1042.1 356.1L1039.7 358.2L1036.9 360.5L1037.1 360.5L1034.4 362.7L1034.5 362.5L1031.8 364.8L1032.2 364.6L1029.4 366.9L1029.7 367.4L1027.0 369.4L1026.7 369.3L1024.4 371.9L1024.6 372.0L1021.7 374.0L1021.8 374.1L1019.2 376.8L1019.2 376.8L1016.7 378.8L1014.1 381.6L1011.2 383.8L1008.4 386.6L1005.2 389.1L1002.0 391.6L999.2 394.1L996.4 396.2L993.9 398.6L992.0 399.9L990.5 401.1L989.5 401.8 M1156.0 238.7L1148.4 245.3L1148.4 245.1L1145.5 247.7L1145.5 247.6L1142.3 250.6L1142.4 250.6L1139.1 253.5L1139.4 253.5L1136.0 256.7L1135.8 256.5L1132.9 259.7L1132.6 259.8L1129.7 263.3L1129.6 263.2L1126.0 267.0L1126.0 267.1L1122.8 270.6L1119.3 274.7L1116.2 278.4L1112.8 282.2L1109.5 286.2L1106.3 290.2L1103.2 294.2L1099.8 297.8L1096.4 301.9L1093.2 305.6L1089.1 309.6L1085.7 314.3L1081.6 318.7L1081.9 318.7L1078.3 322.5L1078.3 322.5L1074.5 326.6L1074.7 326.5L1071.3 330.3L1071.2 330.3L1068.2 333.9L1065.4 337.0L1062.7 339.6L1059.8 341.5L1057.0 343.1L1056.7 343.1L1054.2 344.8L1053.9 345.0L1051.4 347.0L1051.4 347.0L1048.7 349.1L1048.9 348.9L1046.4 351.1L1043.8 353.2L1041.8 355.2L1039.1 357.3L1036.7 359.5L1036.4 359.7L1033.9 362.0L1033.9 361.9L1031.2 364.1L1031.3 363.9L1029.0 366.2L1028.8 366.5L1026.2 368.6L1026.2 369.0L1023.4 371.3L1023.7 371.1L1021.2 373.5L1021.2 373.7L1018.5 375.8L1018.4 376.1L1015.9 378.1L1013.3 380.6L1010.4 383.4L1007.6 385.9L1004.7 388.6L1001.9 391.2L998.6 393.6L995.9 395.8L993.3 397.6L991.0 399.4L989.7 400.0L989.2 400.6 M1094.4 262.2L1089.9 274.7L1088.0 279.7L1086.0 284.5L1084.3 289.0L1082.6 293.2L1081.1 298.2L1079.3 302.5L1077.9 307.7L1076.3 312.4L1076.5 312.2L1074.7 317.3L1074.3 317.3L1072.6 322.7L1072.5 322.6L1070.9 327.6L1070.9 327.5L1068.7 332.8L1067.6 336.8L1066.4 339.5L1066.0 340.7 M1093.6 262.1L1092.9 263.3L1092.1 265.9L1090.8 269.4L1089.1 274.3L1086.9 279.5L1085.0 284.1L1083.3 288.7L1081.9 293.1L1080.3 297.5L1078.6 302.4L1076.9 307.1L1075.3 312.3L1073.4 317.2L1071.4 322.3L1069.9 327.6L1068.0 332.5L1066.4 336.6L1065.2 339.1L1064.8 340.2 M1092.2 261.7L1087.6 274.0L1085.9 279.2L1084.0 283.7L1082.5 288.4L1080.9 292.9L1080.7 292.6L1079.0 297.4L1079.3 297.1L1077.3 301.8L1077.3 301.9L1075.8 306.6L1075.5 306.7L1074.1 311.8L1072.6 316.8L1070.6 321.9L1068.9 326.7L1067.1 332.3L1065.6 336.2L1064.4 338.7L1063.8 340.1 M1095.7 261.1L1095.2 262.4L1092.8 269.3L1091.3 274.9L1089.0 281.6L1086.4 289.2L1083.4 297.8L1080.2 307.0L1077.9 314.1L1076.4 319.1 M1076.4 318.8L1075.6 321.5 M1094.5 260.5L1094.2 262.0L1091.8 269.1L1090.0 274.7L1087.9 281.3L1085.1 288.7L1082.6 297.3L1079.1 307.0L1076.9 314.0L1075.5 318.5L1074.5 321.1 M1000.3 220.3L1000.9 220.9L1002.1 222.1L1004.0 224.0L1006.5 226.5L1009.0 228.7L1011.5 230.6L1014.0 232.1L1016.5 233.4L1019.2 234.0L1022.0 234.0L1025.0 233.4L1028.1 232.1L1031.3 231.5L1034.4 231.5L1037.5 232.1L1040.7 233.4L1043.6 235.0L1046.4 236.8L1049.1 239.0L1051.6 241.5L1053.8 244.2L1055.7 247.0L1057.2 250.0L1058.5 253.1L1059.4 255.5L1060.1 257.0L1060.4 257.8 M1000.3 220.7L1000.9 221.3L1002.1 222.6L1004.0 224.5L1006.5 227.0L1009.0 229.3L1011.5 231.2L1014.0 232.9L1016.5 234.3L1019.2 235.0L1022.0 235.2L1025.0 234.8L1028.1 233.8L1031.3 233.3L1034.4 233.5L1037.5 234.2L1040.7 235.4L1043.6 237.0L1046.4 238.9L1049.1 241.0L1051.6 243.5L1053.8 246.2L1055.7 249.0L1057.2 252.0L1058.5 255.1L1059.4 257.5L1060.1 259.0L1060.4 259.8 M1000.3 221.1L1000.9 221.7L1002.1 223.0L1004.0 225.0L1006.5 227.6L1009.0 229.9L1011.5 231.9L1014.0 233.7L1016.5 235.1L1019.2 236.0L1022.0 236.4L1025.0 236.2L1028.1 235.4L1031.3 235.2L1034.4 235.4L1037.5 236.2L1040.7 237.4L1043.6 239.0L1046.4 240.9L1049.1 243.0L1051.6 245.6L1053.8 248.2L1055.7 251.0L1057.2 254.0L1058.5 257.1L1059.4 259.5L1060.1 261.1L1060.4 261.8 M1000.3 221.5L1000.9 222.2L1002.1 223.5L1004.0 225.5L1006.5 228.2L1009.0 230.5L1011.5 232.7L1014.0 234.5L1016.5 236.1L1019.2 237.1L1022.0 237.7L1025.0 237.7L1028.1 237.2L1031.3 237.2L1034.4 237.6L1037.5 238.4L1040.7 239.7L1043.6 241.2L1046.4 243.1L1049.1 245.3L1051.6 247.8L1053.8 250.5L1055.7 253.3L1057.2 256.3L1058.5 259.4L1059.4 261.7L1060.1 263.3L1060.4 264.1 M1054.0 163.5L1054.2 164.6L1055.5 166.0L1057.7 167.7L1060.4 169.8L1062.4 172.0L1064.0 174.5L1065.4 176.9L1067.1 179.2L1069.3 181.4L1071.8 183.7L1074.1 186.3L1076.1 190.0L1078.4 194.5L1081.0 199.4L1084.3 204.2L1088.2 208.8L1092.2 213.1L1096.0 217.5L1099.4 222.1L1102.8 227.4L1106.5 232.4L1110.7 236.8L1115.6 240.1L1120.6 242.6L1125.7 244.5L1130.5 246.4L1135.3 248.2L1139.6 249.5L1142.5 250.1L1144.5 250.0L1145.6 249.6 M1051.5 166.0L1052.4 166.4L1053.7 167.8L1055.5 169.9L1057.9 172.2L1060.3 173.9L1062.6 175.6L1064.6 177.5L1066.0 179.9L1066.9 182.8L1067.6 186.0L1068.5 189.2L1070.4 193.1L1073.5 197.8L1076.9 202.4L1080.6 207.3L1084.2 212.3L1087.6 217.0L1091.4 221.4L1095.7 225.3L1100.6 229.4L1105.6 233.4L1110.3 237.3L1114.8 241.2L1119.3 244.7L1124.0 247.7L1129.1 249.8L1134.3 251.3L1138.9 252.4L1141.6 253.6L1143.3 255.0L1144.0 256.1 M1047.4 170.1L1047.8 171.1L1049.2 172.2L1051.7 173.7L1054.5 175.5L1056.4 177.3L1058.0 179.3L1059.2 181.3L1060.7 183.3L1062.7 185.3L1064.9 187.5L1066.9 190.0L1068.7 194.0L1071.0 199.3L1073.7 204.8L1077.1 210.1L1081.1 215.0L1085.0 219.2L1088.9 223.5L1092.5 228.1L1096.2 233.3L1100.5 238.5L1105.4 243.0L1110.9 246.5L1116.6 249.1L1122.2 251.3L1127.7 253.4L1133.1 255.6L1137.7 257.1L1140.5 258.0L1142.5 258.2L1143.5 258.1 M1044.9 172.6L1045.4 173.5L1046.3 175.1L1048.2 177.2L1050.7 179.1L1053.0 180.3L1055.2 181.4L1057.0 182.8L1058.3 184.8L1059.2 187.4L1060.2 190.1L1061.5 192.8L1063.8 196.8L1067.1 201.9L1070.5 207.1L1074.0 212.7L1077.4 218.2L1080.6 223.0L1084.3 227.5L1088.5 231.5L1093.3 235.9L1098.5 240.6L1103.6 245.1L1108.7 249.5L1114.1 253.1L1119.8 255.9L1125.9 257.8L1132.0 259.2L1136.9 260.3L1139.6 261.5L1141.3 262.9L1142.0 263.9 M1041.5 176.0L1041.9 176.9L1042.7 178.7L1044.4 181.0L1046.7 182.9L1048.7 184.0L1050.8 184.9L1052.5 186.0L1053.8 187.7L1054.8 190.0L1055.9 192.5L1057.2 195.0L1059.7 199.0L1063.3 204.4L1067.0 209.8L1070.6 215.5L1074.0 221.0L1077.1 226.0L1080.7 230.6L1084.7 234.8L1089.4 239.5L1094.8 244.4L1100.0 249.3L1105.5 254.0L1111.2 257.9L1117.3 260.9L1123.8 262.9L1130.4 264.3L1135.7 265.2L1138.5 266.1L1140.2 267.3L1141.0 268.2 M1038.1 179.4L1038.8 180.0L1040.4 181.1L1042.7 182.7L1044.9 184.7L1045.9 186.4L1046.3 188.4L1046.4 190.3L1046.9 192.0L1048.2 193.9L1049.8 195.8L1051.4 197.9L1053.6 202.3L1057.0 208.5L1060.8 214.4L1065.4 219.8L1070.3 224.3L1074.8 228.0L1079.1 232.0L1082.8 236.4L1086.8 241.8L1091.5 247.8L1096.8 253.1L1102.7 257.8L1108.9 261.7L1115.1 265.2L1121.5 268.7L1128.1 271.9L1133.5 274.0L1136.3 274.9L1138.3 274.8L1139.5 274.2 M1033.9 183.6L1035.3 183.5L1037.1 184.4L1039.0 186.4L1040.6 188.7L1041.3 190.4L1042.0 191.7L1042.9 192.7L1044.0 193.9L1045.0 195.8L1045.6 198.1L1046.0 200.7L1047.7 205.6L1051.4 212.1L1056.1 217.8L1061.3 223.1L1066.2 227.8L1070.1 232.1L1073.7 236.6L1077.4 241.1L1082.1 246.1L1088.0 251.3L1094.2 256.1L1100.4 260.8L1106.5 265.5L1112.6 270.0L1119.3 274.0L1126.6 277.1L1132.3 278.5L1135.3 278.9L1137.2 279.3L1138.1 279.8 M1029.2 188.3L1029.8 189.0L1031.3 190.2L1033.8 191.6L1036.3 192.8L1037.8 193.5L1038.6 194.5L1038.7 195.7L1038.8 197.2L1039.4 199.1L1040.4 200.9L1041.7 202.9L1044.1 207.6L1047.7 214.5L1051.4 221.3L1055.7 227.7L1060.1 233.0L1064.3 237.0L1068.8 240.8L1073.2 244.7L1078.0 249.9L1083.5 255.9L1089.5 261.7L1096.1 266.8L1103.2 271.0L1110.4 274.4L1117.8 277.6L1125.4 280.8L1131.1 283.3L1133.8 285.0L1135.5 285.9L1136.5 286.1 M1165.8 244.3L1164.7 245.1L1162.5 246.7L1159.2 249.0L1154.8 252.2L1150.7 255.2L1146.9 258.0L1143.4 260.7L1140.3 263.2L1138.4 265.4L1137.8 267.3L1138.4 268.9L1140.3 270.1L1142.5 270.8L1145.0 270.8L1147.8 270.1L1151.0 268.9L1154.0 267.5L1156.8 266.1L1159.5 264.6L1162.0 263.0L1164.2 262.5L1166.1 263.0L1167.7 264.5L1168.9 267.0L1169.4 269.7L1169.1 272.5L1168.0 275.5L1166.1 278.6L1164.2 281.8L1162.3 284.9L1160.4 288.1L1158.6 291.2L1156.5 294.5L1154.3 298.0L1151.9 301.6L1149.4 305.4L1147.2 309.2L1145.3 312.9L1143.8 316.7L1142.5 320.5L1141.2 324.3L1140.0 328.1L1138.7 331.8L1137.5 335.6L1136.5 338.5L1135.9 340.3L1135.6 341.3 M1178.4 245.6L1179.2 246.0L1180.7 247.0L1183.1 248.4L1186.3 250.3L1189.0 252.5L1191.4 255.0L1193.3 257.8L1194.9 261.0L1195.9 264.3L1196.2 267.8L1195.9 271.4L1194.9 275.2L1193.6 278.9L1191.8 282.7L1189.7 286.5L1187.2 290.3L1184.7 294.1L1182.2 297.8L1179.6 301.6L1177.1 305.4L1174.8 309.2L1172.6 312.9L1170.5 316.7L1168.6 320.5L1166.7 324.4L1164.8 328.5L1163.0 332.8L1161.1 337.2L1159.2 341.6L1157.3 346.0L1155.4 350.4L1153.5 354.8L1152.1 358.1L1151.2 360.3L1150.7 361.4 M1135.4 335.2L1135.1 336.0L1134.5 337.6L1133.5 339.9L1132.3 343.0L1131.5 346.2L1131.2 349.3L1131.3 352.4L1132.0 355.6L1132.1 358.9L1131.8 362.3L1131.0 365.9L1129.8 369.7L1128.5 373.4L1127.3 377.2L1126.0 380.9L1124.8 384.7L1123.4 388.4L1121.8 392.2L1120.1 396.0L1118.2 399.7L1116.8 402.5L1115.8 404.4L1115.4 405.4 M841.9 448.8L842.0 448.4L842.1 447.5L842.4 446.2L842.8 444.4L843.2 442.7L843.7 441.0L844.3 439.4L845.1 437.8L846.0 436.4L847.1 435.2L848.5 434.3L850.1 433.6L851.7 433.0L853.2 432.6L854.6 432.4L856.0 432.3L857.3 432.4L858.3 432.9L859.2 433.6L859.9 434.6L860.4 435.6L860.5 436.6L860.5 437.7L860.1 438.7L859.6 439.8L858.9 440.9L858.0 441.9L856.9 443.0L855.8 444.0L854.7 445.1L853.5 446.2L852.2 447.2L851.0 448.2L849.7 449.0L848.5 449.6L847.3 450.2L846.1 450.4L845.1 450.4L844.1 450.2L843.2 449.6L842.5 449.2L842.1 449.0L841.9 448.8Z M838.8 451.0L838.9 450.5L839.0 449.4L839.2 447.7L839.7 445.3L840.4 443.0L841.4 440.8L842.4 438.7L843.4 436.8L844.5 435.0L845.8 433.4L847.4 431.9L849.5 430.6L851.6 429.6L853.7 429.0L855.7 428.8L857.6 428.8L859.2 429.2L860.5 429.9L861.6 431.0L862.5 432.3L863.0 433.7L863.2 435.1L863.1 436.4L862.6 437.8L861.9 439.2L861.0 440.6L859.7 442.0L858.1 443.3L856.5 444.5L855.3 445.8L854.0 447.6L852.4 449.5L850.6 451.0L848.8 452.1L847.1 452.9L845.5 453.5L844.0 453.6L842.7 453.5L841.4 453.0L840.3 452.3L839.5 451.6L839.0 451.2L838.8 451.0Z M835.9 453.1L836.0 452.4L836.1 451.1L836.3 449.0L836.9 446.1L837.8 443.3L839.0 440.5L840.3 438.0L841.6 435.7L842.9 433.5L844.4 431.5L846.4 429.5L848.9 427.7L851.6 426.4L854.2 425.7L856.7 425.4L859.1 425.5L861.1 426.0L862.8 426.9L864.1 428.2L865.2 429.9L865.9 431.7L866.1 433.4L865.9 435.1L865.3 436.8L864.4 438.6L863.1 440.3L861.4 442.0L859.2 443.5L857.2 444.8L855.8 446.5L854.6 449.1L852.6 452.0L850.2 454.2L847.9 455.5L845.7 456.3L843.7 456.8L841.9 456.8L840.3 456.5L838.9 455.8L837.6 454.7L836.7 453.9L836.2 453.3L835.9 453.1Z M833.2 455.0L833.2 454.3L833.3 452.8L833.4 450.4L833.9 447.0L834.9 443.6L836.3 440.3L838.0 437.3L839.7 434.6L841.4 432.1L843.2 429.7L845.4 427.3L848.3 425.1L851.5 423.4L854.7 422.3L857.8 421.8L860.7 421.9L863.2 422.5L865.2 423.6L866.9 425.2L868.2 427.3L868.9 429.5L869.1 431.6L868.8 433.8L868.0 435.9L866.8 438.0L865.1 440.1L862.9 442.1L860.2 443.8L857.8 445.2L856.4 447.2L855.2 450.8L852.8 454.6L849.9 457.2L847.0 458.7L844.4 459.5L842.1 459.8L840.0 459.7L838.2 459.2L836.6 458.3L835.1 457.0L834.1 456.0L833.5 455.3L833.2 455.0Z M830.3 457.1L830.3 456.3L830.2 454.6L830.1 451.9L830.5 448.0L831.7 443.9L833.6 440.0L835.8 436.6L838.0 433.6L840.0 430.9L842.1 428.1L844.5 425.3L847.8 422.4L851.5 420.0L855.3 418.4L859.0 417.8L862.5 417.9L865.4 418.7L867.8 420.1L869.7 422.2L871.0 424.8L871.7 427.5L871.8 430.1L871.3 432.6L870.3 435.0L868.8 437.5L866.9 439.9L864.3 442.1L861.3 444.0L858.5 445.6L857.1 448.0L855.9 452.4L853.0 457.1L849.5 460.0L846.2 461.5L843.2 462.3L840.6 462.6L838.3 462.4L836.2 461.8L834.3 460.8L832.6 459.4L831.4 458.2L830.7 457.5L830.3 457.1Z M826.9 459.5L826.8 458.6L826.6 456.8L826.5 453.7L827.0 449.0L828.5 444.3L831.0 439.8L834.0 436.0L836.6 432.8L838.8 429.7L840.9 426.5L843.5 422.9L847.1 419.2L851.4 416.1L855.9 414.2L860.3 413.6L864.3 413.9L867.5 415.1L870.1 417.0L872.1 419.5L873.5 422.7L874.1 425.8L874.1 428.7L873.5 431.6L872.4 434.3L870.8 437.0L868.7 439.6L865.9 442.1L862.5 444.3L859.4 446.1L857.8 448.8L856.4 453.9L853.2 459.1L849.2 462.4L845.5 464.2L842.1 465.1L839.0 465.5L836.3 465.4L833.9 464.8L831.6 463.7L829.6 462.1L828.2 460.8L827.3 459.9L826.9 459.5Z M823.3 462.1L823.2 461.1L823.0 458.9L822.9 455.3L823.8 450.0L825.9 444.5L829.0 439.6L832.4 435.5L835.2 431.9L837.4 428.4L839.5 424.6L842.3 420.2L846.4 415.6L851.3 412.1L856.5 410.3L861.4 409.9L865.7 410.6L869.2 412.2L871.9 414.5L874.1 417.3L875.6 420.8L876.3 424.2L876.3 427.4L875.8 430.5L874.7 433.5L873.1 436.4L870.8 439.4L867.7 442.2L863.8 444.6L860.2 446.5L858.4 449.5L856.9 455.2L853.3 461.0L848.9 464.9L844.6 467.3L840.7 468.5L837.1 469.1L834.0 469.0L831.2 468.3L828.6 467.1L826.2 465.2L824.7 463.7L823.8 462.6L823.3 462.1Z M820.2 464.3L820.1 463.2L819.9 460.7L820.1 456.7L821.2 450.7L823.7 444.8L827.1 439.4L830.6 434.9L833.4 430.9L835.6 426.8L837.9 422.3L841.0 417.3L845.7 412.3L851.3 408.8L857.0 407.1L862.3 407.0L866.9 408.0L870.7 409.7L873.7 412.1L876.1 415.1L877.9 418.8L878.9 422.4L879.1 425.8L878.7 429.1L877.6 432.4L875.9 435.7L873.3 439.0L869.8 442.3L865.1 445.0L860.9 446.9L858.9 450.1L857.3 456.3L853.5 463.3L848.5 468.2L843.5 471.0L839.0 472.5L835.0 473.1L831.5 472.9L828.3 472.0L825.5 470.4L823.1 468.1L821.5 466.2L820.6 465.0L820.2 464.3Z M817.8 466.0L817.7 464.8L817.6 462.1L817.8 457.8L819.1 451.4L821.5 445.0L824.8 439.2L828.3 434.2L831.3 429.6L833.7 425.1L836.4 420.1L839.9 414.8L845.2 409.8L851.2 406.3L857.4 404.6L863.1 404.3L868.2 405.2L872.4 406.8L875.9 409.1L878.7 412.2L881.0 416.1L882.2 420.0L882.5 423.8L882.1 427.5L880.9 431.2L878.8 435.0L875.8 438.7L871.6 442.3L866.2 445.2L861.4 447.2L859.4 450.6L857.9 457.9L853.8 466.2L848.0 471.9L842.4 475.0L837.4 476.5L833.0 476.8L829.3 476.2L826.0 475.0L823.1 473.0L820.6 470.3L819.1 468.2L818.2 466.7L817.8 466.0Z M876.6 441.7L876.9 441.6L877.6 441.2L878.7 440.7L880.1 440.0L881.5 439.4L882.8 438.8L884.1 438.4L885.3 438.0L886.5 437.9L887.5 438.1L888.5 438.6L889.4 439.3L890.0 440.1L890.2 440.9L890.2 441.9L889.9 443.0L889.2 444.0L888.3 445.1L887.2 446.2L885.8 447.2L884.4 448.2L882.9 449.1L881.5 449.9L880.1 450.6L878.7 451.0L877.3 451.2L875.9 451.1L874.4 450.8L873.5 450.2L872.9 449.3L872.9 448.1L873.2 446.7L873.7 445.5L874.2 444.4L874.8 443.5L875.5 442.8L876.0 442.3L876.4 441.9L876.6 441.7 M847.0 389.7L847.5 390.1L848.4 390.9L849.9 392.1L851.9 393.7L854.0 394.7L856.1 395.3L858.4 395.4L860.7 395.0L863.1 394.9L865.5 395.1L867.8 395.6L870.2 396.4L872.6 397.3L874.9 398.3L877.3 399.4L879.6 400.6L881.8 401.8L883.8 403.2L885.6 404.7L887.1 406.3L888.3 407.4L889.1 408.2L889.5 408.6 M854.8 388.1L855.2 388.4L856.0 389.0L857.2 389.9L858.8 391.1L860.6 391.9L862.5 392.3L864.7 392.3L867.0 391.9L869.6 391.8L872.4 392.0L875.3 392.5L878.5 393.3L881.6 393.8L884.8 394.0L887.9 393.9L891.1 393.5L894.0 393.0L896.8 392.4L899.3 391.7L901.7 390.9L903.5 390.3L904.6 389.9L905.2 389.7 M831.2 473.2L831.9 473.0L833.3 472.6L835.4 472.0L838.1 471.2L841.0 470.9L843.9 471.1L847.0 471.8L850.1 473.0L852.9 473.6L855.2 473.6L857.2 473.0L858.8 471.8L860.5 470.5L862.2 469.2L864.1 467.7L866.1 466.1L868.2 464.2L870.6 462.1L873.1 459.6L875.9 456.9L878.0 454.8L879.4 453.4L880.0 452.7 M834.4 479.5L835.2 479.3L836.7 478.9L839.1 478.3L842.2 477.5L845.3 477.2L848.2 477.4L851.1 478.1L853.9 479.3L856.6 479.7L859.4 479.3L862.1 478.1L864.9 476.1L867.5 474.2L870.1 472.2L872.6 470.2L874.9 468.3L876.7 466.8L877.9 465.8L878.5 465.3 M1043.7 442.1L1044.3 443.7L1044.5 447.3L1045.5 452.3L1046.2 459.0L1046.9 465.1L1048.3 470.3L1049.6 475.0L1050.5 479.1L1052.0 483.7L1052.6 487.8L1052.6 491.5L1053.0 495.3L1053.0 499.5L1051.9 503.7L1050.8 507.8L1049.6 511.5L1047.7 515.3L1045.5 518.9L1043.3 522.9L1040.5 526.6L1037.6 530.7L1034.4 534.2L1031.0 537.9L1027.3 541.3L1024.4 544.7L1021.1 548.6L1017.4 551.8L1014.1 555.3L1011.2 558.9L1007.4 562.5L1004.5 567.0L1001.1 570.8L998.0 575.1L994.7 579.1L991.8 583.3L988.6 587.1L985.9 591.6L983.3 595.2L980.7 598.4L978.2 602.2L976.4 605.3L974.2 608.8L972.2 612.3L969.9 615.7L968.7 618.0L967.6 619.7L966.8 620.4 M1042.7 442.1L1042.4 444.2L1043.4 447.4L1044.1 452.3L1044.8 459.2L1045.9 465.3L1046.8 470.8L1048.4 475.8L1049.6 479.7L1050.3 484.1L1051.2 488.0L1051.3 491.6L1052.0 495.7L1051.8 499.5L1050.8 503.3L1050.0 507.0L1048.4 510.8L1046.8 514.4L1044.6 518.7L1041.7 522.2L1039.3 526.0L1036.3 529.3L1033.1 533.3L1030.1 536.4L1026.2 539.9L1022.8 543.7L1019.4 547.4L1016.4 550.5L1013.0 554.1L1009.6 557.6L1006.1 561.4L1003.0 565.6L999.8 569.3L996.6 574.0L993.5 578.1L990.0 582.0L987.0 586.3L984.2 590.3L981.6 594.0L979.1 597.2L976.8 600.8L974.8 604.1L972.4 607.6L970.6 610.7L968.3 614.4L966.8 617.2L965.5 618.8L965.2 619.6 M1040.7 442.7L1041.5 444.1L1041.7 448.0L1042.3 452.5L1043.3 459.8L1044.8 465.7L1045.9 470.9L1047.1 475.8L1048.2 479.9L1049.2 483.9L1049.7 488.0L1050.2 492.0L1050.7 495.7L1050.2 499.1L1049.6 503.0L1048.7 506.9L1047.0 510.3L1045.4 514.2L1043.6 517.8L1040.9 521.5L1038.2 525.1L1035.2 528.6L1031.9 532.3L1028.7 535.6L1025.5 539.4L1022.2 542.3L1018.4 545.9L1015.0 549.3L1011.8 552.8L1008.3 556.9L1005.2 560.4L1001.4 564.6L998.4 568.3L994.9 572.7L992.0 576.6L989.0 580.8L985.6 585.2L982.6 589.1L979.9 592.8L977.4 596.3L975.5 599.7L972.9 603.2L970.6 606.3L968.5 609.8L966.3 613.6L964.7 616.1L964.2 617.8L963.1 618.5 M1039.2 442.8L1039.9 444.3L1040.0 447.9L1040.9 452.9L1042.2 460.1L1043.3 465.8L1044.8 471.6L1045.8 475.9L1046.8 480.3L1048.0 484.2L1048.9 488.4L1049.4 492.2L1049.0 495.6L1048.8 499.3L1048.5 502.8L1047.2 506.0L1046.2 509.9L1044.3 513.4L1042.3 516.8L1039.6 520.4L1036.8 524.1L1034.2 527.2L1030.6 531.0L1027.7 534.3L1024.0 537.7L1020.5 541.4L1017.4 545.0L1013.7 548.1L1010.8 551.8L1007.1 555.5L1003.8 559.2L1000.1 563.4L996.7 567.0L993.5 571.5L990.4 575.4L987.3 579.7L983.9 584.1L981.4 588.1L978.6 591.4L976.1 595.4L973.6 598.9L971.5 602.0L969.3 605.7L967.1 608.6L964.7 612.4L963.3 615.1L962.3 616.4L962.0 617.5 M1038.3 442.9L1038.6 444.8L1039.1 448.3L1040.0 453.2L1040.7 460.0L1042.0 466.3L1043.5 471.6L1044.4 476.2L1045.8 480.7L1046.5 484.7L1047.3 488.2L1048.1 492.1L1048.3 495.5L1047.6 498.8L1047.1 502.5L1046.3 506.0L1044.9 509.1L1043.0 512.6L1041.0 516.0L1038.6 519.6L1035.5 523.3L1032.9 526.7L1029.9 530.1L1026.8 533.3L1023.0 536.5L1019.7 540.3L1016.2 544.0L1012.5 547.0L1009.4 550.8L1005.8 554.0L1002.3 558.2L998.9 562.0L995.4 566.2L992.2 570.4L989.1 574.6L985.6 578.4L982.7 582.9L979.9 586.5L977.1 590.7L974.0 593.9L972.0 597.3L969.8 600.8L967.4 604.3L965.0 607.7L963.1 611.4L961.4 614.0L960.4 615.7L959.9 616.3 M1036.3 443.0L1037.0 444.9L1037.2 448.6L1038.5 453.2L1039.8 460.4L1040.8 466.5L1042.4 471.9L1043.5 476.9L1044.5 480.9L1045.7 485.0L1046.2 488.6L1046.5 492.3L1046.5 495.6L1046.5 498.6L1046.0 502.1L1044.7 505.4L1043.4 508.9L1041.8 512.0L1039.7 515.1L1037.3 518.5L1034.8 522.3L1031.6 525.3L1028.7 528.7L1025.4 532.5L1021.8 535.8L1018.5 538.9L1014.9 542.6L1011.3 545.8L1008.1 549.6L1004.6 553.2L1000.8 556.7L997.5 561.1L994.0 565.1L990.4 569.1L987.6 573.4L984.2 577.2L981.3 581.3L978.3 585.6L975.4 589.3L972.5 592.8L970.3 596.5L967.8 600.0L965.4 603.2L963.2 606.7L961.6 610.4L959.6 612.7L958.6 614.7L958.3 615.3 M1035.0 443.8L1035.3 445.4L1036.1 448.6L1037.0 453.7L1038.1 460.6L1039.5 466.7L1040.7 472.6L1042.1 477.0L1043.1 481.2L1044.6 485.1L1045.1 488.6L1045.5 492.2L1045.7 495.5L1045.2 498.5L1044.7 502.0L1043.8 505.0L1042.3 508.4L1040.9 511.2L1038.8 514.8L1036.4 518.2L1033.8 521.1L1031.0 524.4L1027.5 528.2L1024.1 531.2L1020.9 534.5L1017.2 538.2L1013.9 541.6L1010.5 545.0L1007.1 548.4L1003.6 551.9L999.9 555.7L996.5 559.8L992.6 563.9L989.1 567.7L985.8 571.9L982.3 576.0L979.4 580.5L976.2 584.4L973.4 588.1L970.9 591.7L968.7 595.2L966.2 598.9L963.7 602.2L961.9 606.0L960.0 609.1L958.2 611.7L957.2 613.7L956.4 614.3 M1033.9 443.7L1034.0 445.7L1034.5 449.1L1035.3 453.9L1036.8 460.7L1038.2 466.7L1039.8 472.4L1041.0 477.6L1042.4 481.9L1043.2 485.2L1043.9 488.7L1044.4 492.2L1044.1 495.3L1044.0 498.6L1043.7 501.7L1042.6 504.4L1041.0 507.5L1039.4 511.0L1037.8 513.6L1035.4 517.3L1032.4 520.4L1029.7 523.4L1026.5 527.2L1023.4 530.4L1019.5 533.6L1016.2 537.1L1012.5 540.3L1009.0 543.8L1005.8 546.8L1001.9 550.5L998.5 554.6L994.6 558.8L991.5 562.6L987.8 566.7L984.5 570.9L981.1 575.2L977.7 579.1L975.0 583.0L971.8 587.2L969.2 590.5L966.8 594.0L964.5 597.7L962.0 601.2L959.8 604.5L957.8 608.0L956.3 610.7L955.6 612.6L954.8 613.5 M1032.2 443.9L1032.5 445.9L1033.2 449.3L1034.3 454.5L1035.5 461.2L1037.3 467.3L1038.7 472.6L1039.9 477.7L1041.1 481.9L1041.9 485.5L1042.4 489.4L1043.0 492.5L1042.8 495.3L1043.1 498.1L1042.2 501.3L1041.3 504.2L1040.2 507.3L1038.1 510.1L1036.3 513.2L1034.1 516.1L1031.5 519.3L1028.1 522.5L1025.3 525.7L1022.2 529.4L1018.9 532.5L1015.3 535.7L1011.6 539.3L1007.7 542.4L1004.3 545.8L1000.7 549.3L997.2 553.6L993.3 557.2L989.8 561.7L986.2 565.8L982.7 569.8L979.7 574.0L976.1 578.3L973.5 582.0L970.6 585.8L967.6 589.4L965.5 592.9L962.6 596.3L960.4 600.1L958.4 603.6L956.2 607.4L954.6 609.9L953.5 611.5L952.9 612.1 M1060.6 430.4L1060.3 431.7L1061.0 432.9L1062.2 435.6L1063.4 438.9L1064.7 442.5L1065.8 446.6L1067.3 450.5L1068.8 454.0L1070.4 458.4L1071.6 462.2L1073.6 466.4L1075.4 470.7L1077.0 474.8L1078.5 479.0L1079.7 483.5L1081.1 487.6L1082.8 491.7L1083.5 496.1L1084.9 499.9L1085.4 504.3L1086.4 508.6L1087.8 512.5L1089.0 516.6L1090.6 520.4L1091.9 524.4L1093.7 528.3L1096.0 532.1L1098.5 536.1L1100.6 540.1L1103.4 543.4L1106.0 547.0L1109.2 550.1L1111.7 553.3L1114.7 556.8L1117.2 560.3L1119.6 563.8L1122.0 567.2L1124.5 571.2L1126.7 574.5L1128.6 577.9L1130.2 581.9L1132.2 585.2L1133.7 588.8L1134.9 592.4L1136.6 596.2L1137.7 600.1L1139.2 603.9L1140.7 608.4L1141.7 611.6L1142.0 613.4L1142.7 614.3 M1059.0 431.0L1059.5 431.6L1059.8 433.8L1060.8 435.8L1061.9 439.3L1063.4 442.8L1064.4 446.5L1065.9 450.5L1067.2 454.9L1069.1 459.0L1070.1 462.8L1072.3 466.6L1073.6 471.0L1075.4 475.4L1077.1 479.4L1078.3 483.5L1079.7 487.6L1081.3 491.8L1082.6 496.3L1083.2 500.5L1084.4 504.4L1085.4 508.4L1086.7 512.5L1087.9 517.2L1089.4 520.8L1090.8 524.7L1092.5 529.1L1094.9 532.5L1097.1 536.9L1099.5 540.8L1102.5 544.3L1104.8 547.9L1107.7 550.9L1110.4 554.3L1113.4 557.9L1115.9 561.6L1118.6 564.7L1120.7 568.6L1123.1 571.8L1125.1 575.3L1126.7 578.7L1128.6 582.3L1130.3 586.3L1131.6 589.6L1133.4 593.1L1134.6 596.9L1135.7 600.9L1137.5 604.8L1139.0 608.5L1139.6 611.7L1140.5 614.2L1141.1 614.9 M1058.2 431.4L1058.3 432.4L1059.2 433.9L1060.0 436.6L1060.9 439.7L1061.9 443.2L1063.0 447.4L1064.5 450.8L1065.9 454.9L1067.5 459.2L1068.9 463.3L1070.7 467.4L1072.6 471.5L1074.1 476.0L1075.9 479.9L1076.9 484.4L1078.5 488.1L1079.6 492.3L1080.9 496.4L1081.8 501.1L1083.3 504.7L1084.1 509.3L1085.3 512.9L1086.5 517.2L1088.2 521.4L1089.5 525.5L1091.2 529.5L1093.8 533.6L1095.9 537.4L1098.2 541.1L1100.9 545.0L1103.9 548.4L1106.5 552.1L1109.3 555.1L1112.2 558.9L1114.4 562.2L1117.1 566.0L1119.2 569.2L1121.5 572.6L1123.4 576.5L1125.3 580.0L1126.8 583.5L1128.7 586.6L1130.1 590.3L1131.5 593.8L1132.7 597.4L1134.2 601.4L1135.6 605.5L1137.1 609.2L1138.0 612.2L1138.9 614.3L1139.2 615.5 M1057.2 431.3L1057.4 432.6L1057.7 433.9L1058.5 436.8L1059.5 439.9L1060.8 444.0L1061.8 447.8L1063.3 451.3L1064.5 455.6L1066.2 459.6L1067.5 463.9L1069.2 468.0L1071.1 472.2L1072.8 476.1L1074.1 480.6L1075.5 484.3L1076.9 488.9L1078.5 493.1L1079.7 496.9L1080.7 501.3L1081.6 505.5L1082.8 509.2L1084.0 513.6L1085.2 517.9L1087.0 521.8L1088.6 526.0L1090.3 529.8L1092.7 534.4L1094.8 538.1L1097.1 542.2L1100.1 545.8L1102.5 549.6L1105.5 552.7L1107.9 556.4L1110.4 560.0L1113.1 563.5L1115.6 566.5L1117.6 569.9L1119.8 573.8L1122.1 577.2L1123.5 580.7L1125.4 583.9L1126.6 587.5L1128.2 590.8L1129.7 594.1L1131.4 597.9L1132.7 602.0L1133.6 606.1L1135.5 610.0L1136.5 613.0L1136.7 614.9L1137.2 616.4 M1056.1 431.7L1056.1 432.5L1056.6 434.4L1057.4 436.9L1058.6 440.4L1059.8 444.1L1060.7 448.1L1062.0 451.8L1063.2 456.0L1064.7 460.4L1066.3 464.5L1067.9 468.3L1069.7 472.6L1071.7 476.6L1072.8 480.7L1074.3 485.3L1076.1 489.0L1076.8 493.3L1078.4 497.2L1079.4 501.7L1080.2 505.8L1081.7 510.0L1082.8 513.9L1084.2 517.9L1085.5 522.1L1087.1 526.1L1088.9 530.3L1091.3 534.6L1093.7 538.9L1096.0 542.7L1098.8 546.8L1101.5 550.4L1104.2 553.6L1106.7 557.5L1109.3 560.5L1111.8 564.4L1114.0 567.4L1116.4 571.3L1118.4 574.3L1120.5 577.7L1121.9 581.4L1123.9 585.0L1125.1 588.1L1126.6 591.4L1127.9 595.2L1129.7 598.5L1130.5 602.6L1132.4 606.6L1133.5 610.7L1134.7 613.8L1135.2 616.0L1135.7 616.6 M1054.8 432.0L1055.0 433.3L1055.6 434.8L1056.5 437.2L1057.2 440.9L1058.4 444.6L1059.8 448.5L1060.8 452.5L1062.2 456.8L1063.6 460.8L1065.0 464.8L1066.9 469.0L1068.7 473.3L1070.4 477.4L1071.7 481.3L1072.8 485.6L1074.6 489.7L1075.9 493.4L1077.1 497.6L1078.0 502.1L1079.1 506.0L1080.1 510.0L1081.4 514.1L1082.9 518.2L1084.1 522.4L1086.1 527.2L1088.1 531.2L1089.8 535.6L1092.3 539.4L1095.0 543.9L1097.4 547.8L1100.1 551.6L1103.1 555.0L1105.9 558.4L1107.9 561.7L1110.5 565.3L1112.7 568.6L1114.9 571.8L1116.9 575.5L1118.8 578.7L1120.2 582.1L1121.9 585.4L1123.4 588.8L1124.8 592.5L1126.4 595.8L1127.9 599.4L1128.8 603.0L1130.4 607.2L1131.8 610.9L1132.8 614.3L1133.6 616.3L1133.6 617.1 M1053.8 432.7L1053.8 433.4L1054.5 435.2L1055.0 437.5L1055.8 441.1L1057.4 444.9L1058.6 448.9L1059.6 452.7L1060.9 457.2L1062.2 461.0L1064.0 465.5L1065.4 469.5L1066.9 473.8L1068.9 477.8L1070.4 482.0L1071.6 486.0L1073.4 490.2L1074.2 494.2L1075.7 498.3L1076.9 502.5L1078.2 506.2L1079.1 510.2L1080.7 514.5L1081.7 518.9L1083.1 522.9L1084.8 527.3L1086.7 531.9L1088.8 536.0L1091.4 540.4L1094.0 544.7L1096.7 548.2L1099.0 552.0L1101.9 555.7L1104.5 559.2L1107.0 562.4L1109.3 566.0L1111.7 569.3L1113.3 573.0L1115.4 576.2L1117.1 579.9L1118.9 583.1L1120.5 586.5L1121.8 589.6L1123.2 593.3L1124.8 596.4L1126.1 600.1L1127.0 603.8L1128.8 607.3L1129.9 611.8L1131.0 614.8L1131.5 616.7L1132.3 617.8 M1052.7 432.9L1052.8 433.7L1053.4 435.7L1054.2 437.9L1055.0 441.8L1056.2 445.3L1057.1 449.2L1058.4 453.4L1059.8 457.7L1060.7 461.8L1062.4 465.8L1063.9 470.4L1066.1 474.3L1067.4 478.2L1069.2 482.5L1070.2 486.5L1072.0 490.3L1072.9 494.4L1074.2 498.3L1075.5 502.4L1076.7 506.6L1078.0 511.0L1079.3 514.9L1080.7 519.4L1081.8 523.3L1083.4 528.1L1085.8 532.1L1087.6 536.6L1089.9 541.1L1092.8 545.4L1095.0 549.5L1098.0 552.9L1100.8 556.9L1103.3 560.3L1105.7 563.6L1107.6 567.1L1110.1 570.2L1111.9 574.0L1114.2 576.8L1115.4 580.5L1117.0 583.9L1118.6 587.2L1119.8 590.6L1121.3 593.7L1122.8 597.0L1124.0 600.6L1125.2 604.1L1126.6 608.4L1128.1 612.6L1129.5 615.2L1130.2 617.8L1130.3 618.5 M1083.4 472.7L1083.7 473.2L1084.1 475.0L1085.0 477.4L1085.9 480.9L1087.4 484.6L1089.1 488.4L1091.6 492.9L1094.0 497.8L1096.5 502.2L1099.3 507.2L1101.9 512.0L1104.8 516.7L1107.5 521.5L1110.1 526.5L1112.8 531.0L1115.6 536.2L1118.3 541.0L1120.8 545.7L1122.8 550.7L1125.3 555.5L1126.8 560.4L1128.6 565.4L1130.4 570.6L1131.7 575.2L1133.0 579.8L1134.6 584.4L1135.7 588.4L1137.4 592.9L1138.4 595.7L1139.0 598.1L1139.3 599.2 M1081.8 473.1L1082.0 473.7L1082.5 475.6L1083.7 478.3L1084.8 481.7L1086.1 485.4L1087.9 489.2L1090.1 493.7L1092.2 498.3L1094.8 503.2L1097.6 508.3L1100.0 512.7L1102.9 517.6L1105.6 522.7L1108.2 527.3L1111.3 532.2L1113.8 537.2L1116.6 542.1L1119.0 546.7L1121.3 551.8L1123.3 556.3L1125.1 561.3L1127.0 566.2L1128.5 571.2L1129.6 575.9L1131.1 580.5L1132.8 584.8L1134.2 589.1L1135.4 593.4L1136.2 596.5L1137.0 598.5L1137.5 599.3 M1080.6 473.4L1080.7 474.3L1081.3 476.0L1082.0 478.4L1083.1 481.7L1084.6 485.8L1086.3 490.0L1088.3 494.5L1090.5 499.6L1092.9 504.4L1095.9 509.1L1098.5 514.0L1101.2 518.6L1103.8 523.5L1106.5 528.6L1109.3 533.1L1112.1 538.2L1114.7 542.8L1117.0 547.5L1119.1 552.3L1121.3 557.4L1123.3 561.8L1125.0 566.6L1126.6 571.6L1128.1 576.3L1129.5 580.9L1130.9 585.6L1131.8 590.0L1133.3 594.0L1134.3 597.3L1135.0 599.3L1135.5 600.3 M1079.3 473.4L1079.8 474.6L1079.9 476.5L1081.0 478.7L1081.5 482.5L1082.8 486.5L1084.6 490.8L1086.7 495.4L1089.1 500.3L1091.5 505.0L1093.8 509.8L1096.8 514.7L1099.3 519.6L1102.2 524.6L1105.1 529.3L1107.6 534.3L1110.5 539.2L1112.8 543.9L1115.6 548.7L1117.3 553.2L1119.7 558.1L1121.2 562.7L1123.2 567.6L1124.6 572.0L1125.9 576.7L1127.3 581.6L1128.9 586.2L1130.1 590.4L1131.4 594.7L1132.5 597.6L1133.4 599.9L1133.8 600.9 M1051.3 509.5L1052.1 510.4L1053.9 512.1L1056.6 514.8L1060.1 518.4L1063.6 522.1L1067.1 525.9L1070.5 529.9L1074.0 534.0L1077.1 538.1L1080.0 542.1L1082.6 546.0L1085.0 549.9L1087.1 553.7L1088.8 557.4L1090.3 561.0L1091.5 564.6L1091.6 567.4L1090.4 569.3L1088.1 570.5L1084.6 570.9L1080.9 571.0L1077.0 570.9L1072.9 570.6L1068.5 569.9L1064.0 569.7L1059.5 569.8L1054.8 570.3L1050.0 571.2L1045.3 571.6L1040.7 571.6L1036.2 571.2L1031.7 570.3L1027.8 569.2L1024.2 567.9L1021.2 566.4L1018.6 564.8L1016.9 562.7L1016.0 560.3L1016.1 557.5L1017.0 554.3L1018.5 551.0L1020.3 547.7L1022.6 544.3L1025.4 540.9L1028.2 537.4L1030.9 534.0L1033.6 530.5L1036.2 527.1L1038.9 523.7L1041.6 520.4L1044.4 517.2L1047.1 514.1L1050.1 512.7L1053.2 512.9L1056.6 514.8L1060.1 518.4L1062.8 521.0L1064.5 522.8L1065.4 523.7 M1050.1 516.1L1050.9 516.8L1052.4 518.0L1054.6 519.9L1057.6 522.5L1060.7 525.3L1063.9 528.5L1067.1 532.0L1070.4 535.9L1073.4 539.6L1076.0 543.3L1078.3 546.9L1080.3 550.4L1081.9 553.8L1083.2 556.9L1084.2 559.8L1085.0 562.6L1084.7 564.8L1083.5 566.5L1081.4 567.8L1078.3 568.5L1075.2 568.9L1072.1 569.0L1068.9 568.7L1065.7 568.2L1062.3 567.8L1058.7 567.6L1055.0 567.6L1051.0 567.8L1047.1 567.8L1043.3 567.6L1039.5 567.2L1035.7 566.5L1032.3 565.6L1029.2 564.4L1026.4 562.8L1024.0 561.1L1022.3 559.2L1021.4 557.3L1021.3 555.3L1022.0 553.3L1023.0 551.1L1024.4 548.7L1026.2 546.0L1028.4 543.2L1030.6 540.2L1032.9 537.3L1035.3 534.2L1037.8 531.1L1040.2 528.2L1042.6 525.3L1044.8 522.6L1046.9 520.0L1049.3 518.7L1051.8 518.7L1054.6 519.9L1057.6 522.5L1059.9 524.4L1061.4 525.6L1062.1 526.3 M1052.1 521.7L1052.6 522.3L1053.7 523.4L1055.2 525.2L1057.3 527.5L1059.5 529.9L1061.8 532.4L1064.2 534.9L1066.8 537.5L1069.2 540.1L1071.5 542.8L1073.7 545.6L1075.7 548.3L1077.3 551.1L1078.5 553.9L1079.2 556.7L1079.6 559.5L1079.2 561.7L1078.0 563.4L1076.0 564.4L1073.2 564.8L1070.5 565.0L1067.8 564.9L1065.2 564.6L1062.6 564.0L1059.7 563.6L1056.7 563.4L1053.4 563.4L1049.9 563.6L1046.6 563.7L1043.5 563.8L1040.6 563.9L1037.9 563.9L1035.4 563.6L1033.1 562.8L1031.0 561.7L1029.2 560.2L1028.0 558.6L1027.5 557.0L1027.7 555.2L1028.6 553.5L1029.6 551.5L1030.8 549.3L1032.2 546.8L1033.8 544.1L1035.4 541.6L1037.2 539.2L1039.0 537.0L1041.0 534.9L1043.0 532.7L1045.0 530.4L1047.0 527.9L1049.1 525.4L1051.1 524.1L1053.2 524.1L1055.2 525.2L1057.3 527.5L1058.8 529.3L1059.9 530.5L1060.4 531.1 M1050.8 528.7L1051.3 529.1L1052.4 530.1L1054.0 531.4L1056.2 533.3L1058.2 535.2L1060.0 537.3L1061.5 539.4L1062.9 541.6L1064.3 543.7L1065.7 545.7L1067.2 547.6L1068.6 549.4L1069.9 551.3L1070.9 553.3L1071.8 555.3L1072.4 557.4L1072.4 559.1L1071.8 560.3L1070.5 561.1L1068.5 561.5L1066.6 561.6L1064.6 561.4L1062.6 561.0L1060.5 560.3L1058.3 559.8L1056.0 559.6L1053.5 559.7L1050.9 560.0L1048.3 560.1L1045.9 560.0L1043.5 559.8L1041.2 559.4L1039.2 559.0L1037.6 558.5L1036.2 558.0L1035.1 557.4L1034.3 556.4L1033.8 555.1L1033.5 553.5L1033.6 551.6L1034.1 549.7L1035.1 548.0L1036.5 546.3L1038.4 544.8L1040.1 543.2L1041.6 541.4L1042.9 539.6L1044.0 537.6L1045.2 535.8L1046.4 534.1L1047.6 532.4L1048.9 530.9L1050.4 530.3L1052.1 530.4L1054.0 531.4L1056.2 533.3L1057.8 534.7L1058.9 535.6L1059.5 536.1 M1052.1 535.2L1052.4 535.5L1052.9 536.0L1053.8 536.8L1055.0 537.8L1056.1 539.0L1057.2 540.4L1058.3 541.9L1059.3 543.7L1060.3 545.3L1061.3 546.9L1062.3 548.2L1063.3 549.5L1064.2 550.7L1065.0 551.8L1065.8 552.9L1066.5 554.0L1066.7 554.9L1066.4 555.8L1065.6 556.6L1064.3 557.3L1062.9 557.7L1061.5 557.9L1060.0 557.8L1058.4 557.5L1056.8 557.3L1055.0 557.1L1053.1 557.1L1051.1 557.1L1049.2 557.2L1047.4 557.2L1045.8 557.2L1044.4 557.1L1043.0 556.9L1041.8 556.4L1040.8 555.7L1039.9 554.7L1039.4 553.8L1039.2 552.9L1039.5 552.1L1040.1 551.3L1040.8 550.4L1041.6 549.3L1042.5 548.0L1043.5 546.5L1044.4 545.2L1045.3 543.9L1046.1 542.7L1046.8 541.6L1047.6 540.5L1048.5 539.4L1049.4 538.2L1050.5 537.0L1051.6 536.4L1052.7 536.3L1053.8 536.8L1055.0 537.8L1055.9 538.5L1056.4 539.0L1056.7 539.3 M1052.0 540.4L1052.2 540.6L1052.5 540.9L1053.0 541.4L1053.7 542.0L1054.3 542.8L1055.0 543.7L1055.6 544.8L1056.3 546.1L1057.0 547.2L1057.8 548.2L1058.6 549.0L1059.5 549.6L1060.1 550.2L1060.5 550.8L1060.6 551.4L1060.5 551.9L1060.2 552.3L1059.7 552.6L1059.0 552.8L1058.1 552.9L1057.3 553.1L1056.6 553.2L1056.0 553.4L1055.6 553.6L1054.9 553.7L1054.1 553.9L1053.1 554.0L1051.9 554.1L1050.9 554.1L1050.0 554.1L1049.2 553.9L1048.6 553.8L1048.0 553.5L1047.4 553.2L1046.8 552.9L1046.2 552.5L1045.7 552.1L1045.4 551.6L1045.2 551.1L1045.2 550.5L1045.3 549.9L1045.6 549.2L1045.9 548.4L1046.4 547.6L1047.0 546.9L1047.7 546.2L1048.4 545.5L1049.2 545.0L1050.0 544.3L1050.6 543.5L1051.1 542.7L1051.5 541.8L1051.9 541.3L1052.4 541.1L1053.0 541.4L1053.7 542.0L1054.1 542.4L1054.5 542.7L1054.6 542.9 M989.9 584.1L990.8 583.3L992.6 581.7L995.3 579.2L999.0 576.0L1002.7 573.8L1006.4 572.8L1010.1 572.8L1013.9 574.0L1018.0 575.1L1022.4 576.3L1027.0 577.5L1032.0 578.6L1036.9 579.4L1041.9 579.8L1046.8 579.8L1051.8 579.5L1056.7 579.2L1061.6 579.0L1066.6 578.9L1071.5 578.9L1076.2 578.7L1080.6 578.3L1084.8 577.8L1088.8 577.0L1092.5 576.8L1096.0 577.2L1099.2 578.1L1102.2 579.5L1104.9 581.4L1107.3 583.8L1109.4 586.7L1111.3 590.0L1113.1 593.3L1114.9 596.7L1116.6 600.0L1118.2 603.4L1119.5 606.0L1120.3 607.6L1120.7 608.5 M995.3 588.8L996.1 588.0L997.6 586.4L999.8 583.9L1002.8 580.6L1006.0 578.5L1009.3 577.5L1012.8 577.6L1016.5 578.9L1020.5 580.2L1024.9 581.3L1029.5 582.3L1034.5 583.3L1039.3 583.9L1044.0 584.2L1048.5 584.2L1052.9 583.9L1057.4 583.6L1061.8 583.4L1066.3 583.1L1070.9 582.9L1075.3 582.6L1079.5 582.2L1083.6 581.8L1087.5 581.3L1091.1 581.2L1094.3 581.6L1097.2 582.4L1099.7 583.8L1102.1 585.6L1104.3 588.0L1106.4 590.9L1108.3 594.4L1110.1 597.8L1111.7 601.2L1113.2 604.7L1114.5 608.1L1115.4 610.7L1116.1 612.4L1116.4 613.2 M997.0 592.2L997.8 591.5L999.4 590.0L1001.9 587.8L1005.2 584.9L1008.5 583.1L1011.9 582.2L1015.4 582.4L1018.9 583.6L1022.7 584.7L1026.7 585.7L1030.9 586.6L1035.4 587.4L1039.8 588.0L1044.2 588.2L1048.4 588.2L1052.6 587.8L1056.7 587.6L1060.9 587.4L1064.9 587.3L1069.0 587.2L1072.9 587.0L1076.8 586.7L1080.7 586.2L1084.5 585.5L1087.9 585.3L1091.0 585.7L1093.8 586.5L1096.1 587.8L1098.4 589.6L1100.6 592.0L1102.6 594.9L1104.6 598.4L1106.4 601.9L1108.1 605.4L1109.5 608.9L1110.8 612.4L1111.8 615.1L1112.5 616.8L1112.8 617.7 M1001.0 598.1L1001.6 597.3L1003.0 595.6L1005.1 593.1L1007.8 589.8L1010.7 587.6L1013.9 586.6L1017.3 586.6L1020.9 587.8L1024.5 589.0L1028.3 590.2L1032.1 591.5L1036.0 592.8L1040.0 593.5L1044.0 593.8L1048.1 593.6L1052.3 592.8L1056.4 592.3L1060.6 591.9L1064.7 591.7L1068.9 591.8L1072.8 591.6L1076.6 591.4L1080.2 590.9L1083.6 590.3L1086.7 590.3L1089.5 590.8L1092.1 591.9L1094.4 593.5L1096.6 595.5L1098.7 597.9L1100.7 600.6L1102.5 603.7L1104.2 606.9L1105.7 610.2L1107.0 613.6L1108.1 617.2L1109.0 619.8L1109.6 621.6L1109.9 622.5 M1004.5 601.5L1005.3 600.8L1006.7 599.3L1008.8 597.1L1011.6 594.2L1014.6 592.3L1017.7 591.6L1021.0 591.8L1024.4 593.2L1027.8 594.4L1031.3 595.5L1034.9 596.4L1038.5 597.3L1042.1 597.8L1045.9 597.9L1049.7 597.7L1053.6 597.2L1057.4 596.8L1061.0 596.6L1064.5 596.7L1067.9 596.9L1071.2 596.9L1074.7 596.6L1078.1 596.0L1081.6 595.1L1084.8 594.9L1087.6 595.3L1090.1 596.3L1092.3 598.0L1094.3 600.1L1096.1 602.5L1097.7 605.2L1099.2 608.4L1100.6 611.5L1101.8 614.8L1102.9 618.1L1103.9 621.5L1104.7 624.0L1105.2 625.7L1105.4 626.6 M1026.2 592.8L1026.7 595.1L1025.5 598.0L1024.2 601.1L1021.0 604.1L1017.6 604.7L1014.7 605.0L1012.4 604.3L1011.4 602.2L1011.9 599.2L1014.9 596.2L1017.8 594.0L1021.2 591.5L1024.3 591.3L1026.2 592.8Z M1023.4 595.1L1023.7 596.5L1023.0 598.2L1022.3 600.1L1020.3 601.9L1018.3 602.2L1016.5 602.4L1015.1 602.0L1014.6 600.7L1014.8 598.9L1016.7 597.2L1018.4 595.8L1020.4 594.3L1022.3 594.2L1023.4 595.1Z M1021.3 596.8L1021.5 597.5L1021.1 598.4L1020.8 599.3L1019.8 600.2L1018.8 600.4L1017.9 600.5L1017.2 600.3L1016.9 599.6L1017.1 598.7L1018.0 597.8L1018.8 597.2L1019.9 596.4L1020.8 596.4L1021.3 596.8Z M1051.0 445.5L1051.2 446.4L1051.8 448.1L1052.5 450.7L1053.6 454.1L1054.4 457.7L1055.1 461.5L1055.6 465.5L1056.0 469.6L1056.5 473.8L1057.2 477.9L1058.0 482.0L1059.1 486.2L1059.8 490.1L1060.1 493.9L1060.1 497.6L1059.8 501.0L1059.5 503.6L1059.3 505.3L1059.3 506.2 M1042.7 440.0L1043.1 441.0L1043.9 443.1L1045.0 446.2L1046.5 450.3L1047.9 454.5L1049.2 458.6L1050.4 462.7L1051.5 466.9L1052.5 471.0L1053.3 475.2L1053.9 479.3L1054.4 483.4L1054.7 487.4L1054.7 491.2L1054.6 494.8L1054.3 498.2L1054.0 500.8L1053.8 502.6L1053.7 503.4 M1135.2 463.1L1135.8 463.0L1137.0 462.7L1138.9 462.2L1141.4 461.6L1144.2 461.4L1147.4 461.7L1150.8 462.5L1154.6 463.7L1158.3 465.3L1162.1 467.2L1165.8 469.4L1169.6 471.9L1173.0 474.4L1176.2 476.9L1179.0 479.4L1181.5 481.9L1184.0 483.9L1186.5 485.5L1189.0 486.6L1191.5 487.2L1194.0 487.8L1196.5 488.2L1199.0 488.6L1201.5 489.0L1204.2 489.6L1207.0 490.5L1210.0 491.8L1213.1 493.3L1215.9 495.1L1218.5 497.2L1220.6 499.4L1222.5 501.9L1223.6 504.8L1223.9 507.9L1223.5 511.3L1222.2 515.1L1221.0 518.7L1219.7 522.1L1218.5 525.4L1217.2 528.6L1215.6 531.5L1213.8 534.4L1211.6 537.0L1209.1 539.5L1206.6 540.8L1204.0 540.8L1201.5 539.5L1199.0 537.0L1196.8 534.4L1195.0 531.5L1193.4 528.6L1192.1 525.4L1190.9 522.5L1189.6 519.6L1188.4 517.0L1187.1 514.5L1185.9 512.1L1184.6 509.9L1183.4 507.9L1182.1 506.0L1180.7 504.3L1179.2 502.7L1177.4 501.3L1175.6 500.1L1173.4 499.0L1170.9 498.0L1168.0 497.3L1164.9 496.6L1161.9 496.3L1159.1 496.3L1156.5 496.6L1153.9 497.3L1151.6 498.0L1149.4 499.0L1147.4 500.1L1145.5 501.3L1144.2 503.0L1143.6 505.2L1143.6 507.9L1144.2 511.0L1144.4 514.2L1144.1 517.3L1143.3 520.4L1142.0 523.6L1140.5 526.5L1138.6 529.3L1136.4 532.0L1133.9 534.5L1131.6 537.0L1129.4 539.5L1127.3 542.0L1125.5 544.5L1123.7 546.1L1122.2 546.7L1120.8 546.4L1119.5 545.2L1118.6 544.2L1117.9 543.6L1117.6 543.3 M1165.2 428.1L1165.7 428.7L1166.6 429.9L1168.0 431.8L1169.9 434.3L1172.1 436.7L1174.6 438.9L1177.4 440.9L1180.6 442.8L1183.5 444.6L1186.4 446.5L1189.0 448.4L1191.5 450.3L1193.7 452.3L1195.6 454.5L1197.2 456.9L1198.4 459.4L1199.0 461.6L1199.0 463.4L1198.4 465.0L1197.2 466.3L1195.6 467.0L1193.7 467.3L1191.5 467.2L1189.0 466.6L1186.5 465.6L1184.0 464.4L1181.5 462.8L1179.0 460.9L1176.5 459.0L1174.0 457.2L1171.5 455.3L1169.0 453.4L1166.8 451.4L1164.9 449.2L1163.3 446.8L1162.1 444.3L1161.5 441.7L1161.5 438.9L1162.1 435.9L1163.3 432.7L1164.3 430.4L1164.9 428.8L1165.2 428.1 M1137.7 425.5L1138.0 426.2L1138.6 427.4L1139.5 429.3L1140.8 431.8L1142.5 434.0L1144.7 435.9L1147.4 437.4L1150.5 438.7L1153.3 440.3L1155.8 442.1L1158.0 444.3L1159.9 446.8L1161.8 449.7L1163.7 452.8L1165.5 456.2L1167.4 460.0L1168.8 462.8L1169.8 464.7L1170.2 465.6 M1180.3 410.5L1180.9 411.0L1182.1 411.9L1184.0 413.3L1186.5 415.2L1189.0 416.5L1191.5 417.1L1194.0 417.1L1196.5 416.5L1199.0 415.7L1201.5 414.7L1204.0 413.6L1206.6 412.4L1209.1 411.0L1211.6 409.4L1214.1 407.7L1216.6 405.8L1218.5 404.4L1219.7 403.5L1220.3 403.0 M1210.3 418.0L1210.6 418.7L1211.2 419.9L1212.2 421.8L1213.4 424.3L1214.3 427.1L1214.8 430.2L1214.9 433.7L1214.5 437.4L1214.5 440.9L1214.9 444.0L1215.5 446.8L1216.4 449.3L1217.7 452.2L1219.5 455.3L1221.6 458.7L1224.1 462.5L1226.4 465.9L1228.6 469.1L1230.7 471.9L1232.5 474.4L1234.4 476.7L1236.3 478.9L1238.2 481.0L1240.1 482.8L1241.5 484.3L1242.4 485.2L1242.9 485.7 M1165.2 513.2L1165.7 513.7L1166.6 514.6L1168.0 516.0L1169.9 517.9L1171.8 520.3L1173.7 523.1L1175.6 526.4L1177.4 530.1L1179.2 533.7L1180.7 537.2L1182.1 540.5L1183.4 543.6L1184.6 546.6L1185.9 549.4L1187.1 552.0L1188.4 554.6L1189.3 556.4L1190.0 557.7L1190.3 558.3 M1130.2 445.6L1130.8 446.1L1132.0 447.0L1133.9 448.4L1136.4 450.3L1138.1 452.3L1139.1 454.5L1139.2 456.9L1138.6 459.4L1138.1 461.2L1137.8 462.5L1137.7 463.1 M1130.0 546.2L1130.5 545.6L1131.4 544.4L1132.8 542.6L1134.7 540.3L1136.5 537.3L1138.2 533.8L1139.7 529.6L1141.1 524.9L1142.3 520.2L1143.4 515.5L1144.3 510.7L1145.0 506.0L1146.1 502.4L1147.5 499.9L1149.3 498.6L1151.4 498.3L1153.5 498.9L1155.5 500.3L1157.4 502.6L1159.3 505.6L1161.1 508.9L1162.7 512.3L1164.3 515.9L1165.7 519.7L1167.1 522.0L1168.5 522.7L1169.9 521.8L1171.4 519.5L1172.9 518.4L1174.6 518.6L1176.3 520.2L1178.2 523.0L1180.1 526.1L1182.0 529.4L1183.9 532.9L1185.8 536.7L1187.4 540.6L1188.8 544.6L1190.0 548.8L1191.0 553.0L1191.3 556.3L1191.1 558.7L1190.3 560.1L1188.8 560.6L1187.1 560.9L1184.9 561.2L1182.5 561.3L1179.6 561.3L1177.0 561.5L1174.7 562.0L1172.5 562.7L1170.7 563.7L1168.6 564.1L1166.5 564.1L1164.3 563.7L1161.9 562.7L1160.0 562.5L1158.6 563.0L1157.7 564.1L1157.2 566.0L1155.9 567.9L1153.8 569.8L1150.8 571.7L1147.0 573.6L1143.7 575.1L1140.9 576.3L1138.5 577.1L1136.6 577.6L1135.1 578.8L1133.9 580.7L1133.1 583.3L1132.6 586.6L1132.2 589.1L1132.0 590.7L1131.9 591.6 M1179.2 480.0L1179.6 480.7L1180.6 482.1L1182.0 484.3L1183.9 487.1L1185.9 489.8L1188.0 492.4L1190.3 494.9L1192.6 497.3L1194.3 499.9L1195.4 502.7L1195.8 505.8L1195.6 509.1L1195.6 512.5L1195.8 516.0L1196.3 519.7L1197.0 523.5L1197.9 527.1L1199.0 530.7L1200.2 534.1L1201.6 537.4L1203.3 540.0L1205.2 541.9L1207.3 543.1L1209.6 543.6L1211.8 543.3L1213.7 542.4L1215.3 540.7L1216.7 538.4L1217.7 535.9L1218.2 533.3L1218.2 530.6L1217.7 527.7L1217.8 524.7L1218.5 521.4L1219.8 517.8L1221.7 514.0L1222.9 510.5L1223.4 507.2L1223.1 504.1L1222.2 501.3L1221.0 498.7L1219.6 496.3L1217.9 494.2L1216.0 492.3L1214.1 490.9L1212.2 489.9L1210.4 489.5L1208.5 489.5L1206.9 488.9L1205.6 487.7L1204.6 485.9L1203.9 483.5L1203.3 481.8L1203.0 480.6L1202.8 480.0 M1100.1 92.5L1101.3 93.0L1103.8 93.9L1107.6 95.3L1112.6 97.2L1117.5 99.4L1122.2 101.9L1126.7 104.7L1131.1 107.9L1134.8 111.0L1138.0 114.1L1140.5 117.3L1142.4 120.4L1144.4 123.0L1146.6 125.2L1148.9 127.0L1151.4 128.2L1153.8 129.8L1156.0 131.7L1158.0 133.8L1159.9 136.4L1161.3 138.2L1162.2 139.5L1162.7 140.1 M1055.0 112.6L1056.3 113.2L1058.8 114.4L1061.3 113.8L1063.8 111.3L1064.4 108.2L1063.1 104.4L1062.5 102.5 M1210.3 306.6L1210.6 307.3L1211.2 308.5L1212.2 310.4L1213.4 312.9L1213.8 315.2L1213.1 317.4L1211.6 319.5L1209.1 321.3L1206.6 322.9L1204.0 324.2L1201.5 325.1L1199.0 325.7L1196.5 326.4L1194.0 327.2L1191.5 328.1L1189.0 329.0L1186.5 330.1L1184.0 331.4L1181.5 332.8L1179.0 334.3L1177.1 335.5L1175.9 336.3L1175.2 336.7 M1240.4 244.0L1240.7 244.9L1241.3 246.8L1242.2 249.6L1243.5 253.4L1245.1 257.2L1246.9 260.9L1249.1 264.7L1251.6 268.4L1254.3 272.0L1257.1 275.5L1260.1 278.8L1263.2 281.9L1266.4 284.7L1269.5 287.2L1272.6 289.4L1275.8 291.3L1278.7 293.0L1281.5 294.6L1284.2 296.0L1286.7 297.2L1288.9 298.8L1290.8 300.7L1292.3 302.9L1293.6 305.4L1294.5 307.3L1295.2 308.5L1295.5 309.1 M942.1 260.2L943.5 258.6L949.7 248.5L958.1 236.8 M1015.9 391.0L1014.4 389.5L1009.7 386.0 M942.7 263.0L945.2 260.5L951.0 251.0L960.0 238.6L961.2 236.2 M1009.5 350.0L1003.4 353.5L1001.8 355.0L1000.1 358.0L999.9 361.0L1000.8 364.0L1003.0 367.0L1005.0 368.0L1008.0 367.5L1011.0 365.7L1013.3 362.5L1014.3 359.5L1014.8 355.0L1014.0 350.9L1012.5 349.7L1009.5 350.0 M1018.6 388.1L1015.5 385.6L1003.5 377.8L1002.0 377.3 M943.3 265.6L947.0 262.0L952.7 253.0L960.0 243.1L963.0 237.7L963.7 235.8 M1033.8 371.7L1033.5 371.2L1030.5 369.9L1023.9 370.0L1020.1 371.5L1019.6 376.0L1018.5 377.9L1015.9 377.5L1014.4 376.0L1014.4 374.5L1015.5 373.1L1018.0 371.5L1018.9 370.0L1018.2 350.5L1017.3 347.5L1015.5 345.3L1012.5 344.6L1009.5 345.6L999.3 352.0L995.9 355.0L994.8 358.0L996.2 368.5L995.8 369.4 M1038.3 366.9L1035.3 365.5L1026.0 363.4L1023.0 361.0L1021.8 358.0L1020.4 347.5L1019.0 344.5L1017.0 342.3L1014.0 341.0L1011.0 341.2L999.0 348.4L986.1 353.5L984.8 354.8 M943.9 267.8L947.5 265.0L960.4 247.0L964.5 239.3L965.8 235.4 M1041.5 363.5L1041.0 363.3L1029.0 360.3L1026.0 358.3L1024.3 355.0L1022.8 347.5L1021.7 344.5L1019.6 341.5L1017.0 339.2L1012.5 337.4L1009.5 337.9L1002.0 343.2L997.5 345.6L984.0 349.2L981.3 351.3 M944.4 270.0L945.3 269.5L950.5 265.0L961.5 250.3L966.0 240.7L967.6 235.1 M1000.5 311.1L997.5 313.0L996.0 315.0L995.0 319.0L995.5 322.0L997.0 325.0L999.0 327.0L1002.0 328.5L1005.0 328.4L1006.5 327.4L1013.1 319.0L1014.0 317.1L1014.0 314.5L1011.3 311.5L1008.0 310.3L1005.0 310.2L1000.5 311.1 M1044.6 360.4L1030.5 357.0L1027.5 354.3L1024.0 344.5L1021.5 340.6L1017.0 336.1L1011.0 332.8L1008.0 332.5L1006.5 333.0L1000.2 340.0L996.0 342.7L984.0 346.0L980.9 347.5L979.1 349.1 M944.9 271.9L948.0 270.1L952.2 266.5L961.1 256.0L964.0 251.5L966.0 247.0L969.1 234.8 M1047.9 357.1L1035.0 354.8L1031.8 353.5L1029.1 350.5L1024.5 341.5L1016.0 331.0L1015.1 328.0L1015.2 326.5L1018.7 319.0L1019.0 314.5L1016.3 310.0L1011.0 306.4L1006.5 305.7L1000.5 306.9L996.0 309.4L993.1 313.0L991.9 317.5L992.2 322.0L997.2 334.0L996.5 337.0L995.4 338.5L991.5 340.9L982.5 343.9L978.5 346.0L977.3 347.3 M945.3 273.9L950.5 271.0L963.0 258.8L966.0 254.0L967.8 248.5L970.9 234.5 M1051.4 353.6L1050.0 353.8L1038.0 351.6L1033.5 349.9L1030.5 346.7L1021.0 334.0L1019.4 331.0L1018.9 326.5L1022.0 317.5L1021.3 313.0L1017.0 307.2L1011.0 303.2L1006.5 302.4L1000.5 303.4L995.5 305.5L991.9 308.5L989.6 313.0L989.0 317.5L989.5 322.0L992.5 332.5L992.0 335.5L989.1 338.5L979.5 342.5L976.2 344.5L975.4 345.4 M945.9 276.2L950.1 274.0L954.0 271.4L964.3 262.0L966.8 259.0L968.3 256.0L969.7 250.0L972.5 234.2 M969.0 297.6L966.0 299.5L964.5 301.4L963.1 305.5L962.8 308.5L963.2 313.0L964.5 318.2L966.0 320.3L969.0 321.3L972.2 320.5L976.2 317.5L979.2 313.0L980.0 308.5L978.9 301.0L977.4 298.0L973.5 296.8L969.0 297.6 M1054.4 350.6L1050.0 350.5L1038.0 347.4L1033.5 345.0L1025.8 337.0L1022.0 331.0L1021.7 326.5L1024.4 317.5L1024.1 314.5L1022.8 311.5L1020.0 307.7L1016.3 304.0L1012.5 301.3L1009.5 300.1L1005.0 299.5L999.0 300.4L992.6 302.5L988.0 305.5L985.0 310.0L984.6 313.0L985.2 317.5L988.4 329.5L988.1 334.0L985.2 337.0L976.5 340.9L973.4 343.0L973.2 343.2 M946.4 278.5L952.5 275.7L955.5 273.6L967.0 263.5L970.3 259.0L971.4 254.5L972.7 241.0L973.9 234.0 M979.1 323.5L981.0 323.6L982.5 324.9L983.4 326.5L984.3 329.5L983.7 332.5L982.5 334.0L979.5 335.8L970.5 339.3L969.4 339.4 M965.7 335.7L965.6 335.5L966.0 332.5L967.5 329.5L972.2 326.5L979.1 323.5 M1057.3 347.7L1054.5 347.7L1050.0 347.1L1038.0 343.3L1032.0 339.9L1027.2 335.5L1024.4 331.0L1024.2 326.5L1026.4 317.5L1025.5 313.0L1021.5 307.0L1014.0 299.9L1011.0 298.3L1006.5 297.0L991.5 296.2L985.5 292.4L982.5 291.3L976.5 291.2L967.5 292.5L964.8 293.5L963.0 294.8L960.0 300.2L959.0 305.5L959.1 317.5L958.6 319.1 M947.0 280.9L952.5 279.4L955.5 277.9L962.2 271.0L969.6 265.0L972.2 262.0L973.6 257.5L974.1 242.5L975.3 233.7 M1060.4 344.6L1051.5 343.6L1036.5 338.9L1032.0 336.6L1029.0 334.0L1026.6 329.5L1026.7 326.5L1028.4 319.0L1028.2 316.0L1027.3 313.0L1024.5 308.5L1020.0 303.2L1015.5 299.0L1012.5 297.0L1008.0 295.1L997.5 292.3L991.5 288.3L988.5 287.0L984.0 286.7L970.5 288.4L961.5 287.9L960.0 288.4L958.5 291.6L955.7 302.5L954.8 309.2 M947.7 283.9L948.0 283.8L957.0 284.4L958.5 283.3L961.3 277.0L963.2 274.0L966.2 271.0L973.5 265.4L975.0 263.5L976.1 259.0L975.6 242.5L976.9 233.4 M948.9 288.4L949.5 288.4L951.0 289.2L952.9 292.0L953.2 295.0L952.5 298.7L952.1 299.6 M1063.3 341.7L1051.5 337.9L1039.5 336.1L1033.5 334.0L1031.6 332.5L1029.7 329.5L1029.4 326.5L1030.5 319.0L1030.1 316.0L1028.2 311.5L1025.0 307.0L1020.0 301.2L1015.5 297.0L1011.0 294.3L1000.5 289.8L992.6 283.0L990.0 282.0L987.0 282.0L977.8 284.5L972.0 285.2L967.9 284.5L965.8 283.0L964.6 280.0L966.0 275.5L969.0 272.2L977.2 266.5L978.8 263.5L978.9 260.5L977.2 250.0L977.0 244.0L977.6 238.0L978.6 233.1 M1033.5 264.5L1032.0 265.3L1031.1 266.5L1030.9 268.0L1032.0 269.7L1033.5 269.9L1035.0 269.1L1036.1 266.5L1035.7 265.0L1033.5 264.5 M1066.2 338.8L1063.6 337.0L1062.4 335.5L1061.5 332.5L1061.3 325.0L1060.5 323.4L1058.7 322.0L1056.0 321.6L1053.0 322.6L1050.1 325.0L1046.3 329.5L1044.0 331.0L1041.0 331.6L1036.5 331.0L1034.3 329.5L1033.3 328.0L1032.7 319.0L1032.0 316.0L1029.8 311.5L1026.6 307.0L1020.0 299.3L1015.5 295.1L1001.9 287.5L993.0 277.0L991.5 276.1L988.5 275.4L985.5 276.3L979.8 280.0L976.5 281.2L972.9 281.5L970.0 280.0L969.5 278.5L970.7 275.5L975.0 272.5L981.0 270.1L982.5 268.4L982.9 266.5L982.6 263.5L979.2 251.5L978.5 245.5L978.9 239.5L980.4 232.8 M1044.9 246.2L1044.2 251.5L1042.5 255.4L1041.0 256.7L1030.5 261.5L1027.2 265.0L1026.7 266.5L1027.0 269.5L1028.7 272.5L1030.5 274.0L1032.0 274.6L1035.0 274.6L1038.4 272.5L1045.5 260.8L1050.0 255.7L1052.3 252.3 M1068.9 336.1L1067.0 332.5L1065.9 323.5L1063.7 320.5L1061.5 319.0L1057.5 317.9L1054.5 318.1L1050.0 320.1L1042.5 324.8L1039.5 325.2L1038.0 324.4L1031.5 311.5L1021.5 299.0L1015.8 293.5L1005.6 287.5L1002.3 284.5L996.0 273.6L987.0 264.3L984.0 259.2L981.4 253.0L980.4 248.5L980.2 242.5L981.0 237.2L982.5 232.5 M1041.1 243.3L1041.1 245.5L1040.1 250.0L1036.9 254.5L1026.1 262.0L1024.5 264.3L1023.9 266.5L1024.2 269.5L1026.0 273.1L1029.0 276.2L1032.0 277.6L1035.0 277.7L1037.7 277.0L1042.0 274.0L1053.0 262.4L1056.5 256.5 M1071.6 333.4L1071.1 332.5L1069.3 323.5L1066.0 319.0L1060.5 316.0L1056.0 315.5L1052.9 316.0L1044.0 319.7L1041.0 319.8L1039.5 319.2L1038.0 317.9L1031.0 308.5L1020.0 295.3L1016.3 292.0L1008.0 286.9L1005.0 284.3L1002.2 280.0L998.3 271.0L987.8 260.5L984.8 256.0L982.9 251.5L981.8 245.5L982.0 241.0L983.1 236.5L984.9 232.0 M1037.7 240.8L1037.8 241.0L1038.2 245.5L1036.9 250.0L1034.6 253.0L1022.8 262.0L1021.3 265.0L1021.3 268.0L1024.0 274.0L1027.5 278.0L1032.0 280.1L1036.5 280.2L1041.0 278.7L1043.9 277.0L1053.0 269.0L1056.0 265.2L1059.5 259.5 M1073.8 331.2L1073.7 331.0L1072.1 323.5L1070.4 320.5L1067.3 317.5L1063.5 315.2L1059.0 313.7L1056.0 313.4L1053.0 313.8L1045.5 316.3L1042.5 316.7L1039.5 315.6L1038.0 314.4L1020.0 293.1L1017.0 290.5L1009.5 285.7L1006.5 283.0L1004.0 278.5L1000.5 268.8L998.6 266.5L989.6 259.0L987.0 255.6L984.9 251.5L983.7 247.0L983.8 241.0L985.3 236.5L987.3 233.2 M1027.7 235.4L1033.4 239.5L1034.4 241.0L1035.4 244.0L1034.8 248.5L1032.9 251.5L1029.3 254.5L1020.2 260.5L1019.0 262.0L1018.0 265.0L1019.0 269.5L1023.5 277.0L1027.5 280.9L1032.0 282.5L1036.5 282.5L1041.3 281.5L1045.6 280.0L1050.0 277.3L1056.0 270.7L1062.0 262.0 M1075.8 328.7L1074.3 323.5L1072.8 320.5L1070.1 317.5L1065.0 314.2L1057.5 311.7L1053.0 311.9L1044.0 314.2L1041.0 313.7L1038.0 311.8L1030.5 303.9L1020.0 290.6L1011.1 284.5L1008.0 281.5L1006.4 278.5L1004.5 269.5L1003.0 266.5L1000.5 264.0L991.5 257.4L988.5 253.9L986.5 250.0L985.5 244.0L986.5 239.5L988.5 236.2L990.2 234.8 M1077.2 326.4L1076.4 323.5L1074.0 319.1L1070.8 316.0L1065.0 312.5L1057.5 309.9L1053.0 309.9L1044.0 311.9L1041.0 311.3L1038.0 309.5L1029.9 301.0L1021.5 288.5L1012.9 283.0L1010.0 280.0L1008.7 277.0L1008.4 274.0L1009.5 268.1L1011.0 266.4L1012.5 267.0L1017.0 271.9L1023.8 281.5L1027.5 284.0L1032.0 284.9L1036.5 284.7L1045.5 283.3L1050.0 281.8L1054.5 277.9L1064.2 264.2 M1023.7 236.0L1030.7 241.0L1032.4 244.0L1032.4 247.0L1031.0 250.0L1027.5 253.2L1014.5 259.0L1011.0 262.4L1009.5 263.2L1008.0 262.7L999.0 258.9L994.2 256.0L990.0 251.5L988.2 247.0L988.5 242.0L989.9 239.5L991.5 238.2L995.1 237.4 M1015.2 239.5L1017.0 238.2L1018.5 238.3L1026.0 241.3L1027.6 242.5L1029.0 244.9L1029.1 247.0L1028.5 248.5L1026.0 251.0L1023.0 252.4L1020.0 252.8L1017.0 251.8L1015.5 250.0L1014.6 247.0L1014.5 242.5L1015.2 239.5 M993.9 244.0L996.0 244.2L998.4 247.0L999.3 250.0L998.4 251.5L996.0 251.3L993.2 248.5L992.7 245.5L993.9 244.0 M1078.5 324.4L1078.2 323.5L1075.9 319.0L1072.5 315.5L1066.0 311.5L1060.5 309.0L1056.0 307.9L1053.0 307.9L1044.0 309.8L1041.0 309.1L1038.0 307.3L1033.1 302.5L1028.9 296.5L1027.2 292.0L1027.5 289.0L1031.7 287.5L1050.0 285.7L1053.0 284.5L1054.5 283.3L1066.3 266.3 M1079.6 322.6L1079.4 322.0L1076.7 317.5L1072.5 313.8L1065.0 309.5L1056.0 305.8L1053.0 305.7L1044.0 307.5L1041.0 306.8L1038.0 304.9L1035.0 302.1L1032.0 298.0L1030.9 295.0L1031.1 292.0L1033.5 290.2L1038.0 289.1L1042.5 288.8L1051.5 289.3L1054.5 288.3L1058.3 284.5L1064.6 274.0L1068.0 269.4L1068.7 268.7 M1087.6 383.6L1087.8 384.3L1087.6 385.5L1087.0 386.9L1086.1 388.4L1085.3 389.0L1084.6 389.2L1084.3 388.7L1084.5 387.5L1085.2 386.0L1086.1 384.8L1087.0 383.6L1087.6 383.6Z M1083.3 390.5L1083.5 391.2L1083.2 392.4L1082.7 393.8L1081.8 395.3L1081.0 395.9L1080.3 396.1L1080.0 395.6L1080.2 394.4L1080.9 392.9L1081.8 391.7L1082.7 390.6L1083.3 390.5Z M1079.0 400.0L1079.2 400.7L1078.9 401.9L1078.3 403.4L1077.5 404.9L1076.6 405.4L1076.0 405.7L1075.7 405.1L1075.9 403.9L1076.6 402.4L1077.4 401.2L1078.3 400.1L1079.0 400.0Z M1076.0 408.7L1076.2 409.4L1076.0 410.6L1075.4 412.0L1074.5 413.5L1073.7 414.1L1073.0 414.3L1072.7 413.8L1072.9 412.6L1073.6 411.1L1074.5 409.9L1075.4 408.7L1076.0 408.7Z M1072.9 416.5L1073.1 417.2L1072.8 418.4L1072.3 419.8L1071.4 421.3L1070.6 421.9L1069.9 422.1L1069.6 421.6L1069.8 420.4L1070.5 418.9L1071.4 417.7L1072.3 416.5L1072.9 416.5Z" fill="none" stroke="#bcbcbc" stroke-width="0.85" stroke-linejoin="round"/>
<filter id="rough" color-interpolation-filters="sRGB" x="0" y="0" width="100%%" height="100%%" filterUnits="userSpaceOnUse"><feTurbulence type="fractalNoise" baseFrequency="0.11" numOctaves="2" seed="4" result="n"/><feDisplacementMap in="SourceGraphic" in2="n" scale="5" xChannelSelector="R" yChannelSelector="G"/></filter>
<g filter="url(#rough)"><path d="M915.2 128.8L920.3 115.1L945.3 100.0L985.4 92.5L981.6 100.5L979.1 103.8L974.1 108.8L970.4 113.8L962.3 117.6L961.6 125.1L955.3 123.8L951.6 122.6L945.3 122.6L942.8 126.3L935.3 127.6L930.3 130.6L922.8 131.3Z M1046.8 103.8L1050.5 101.3L1056.8 99.5L1064.3 101.3L1063.0 105.0L1058.0 108.0L1049.3 107.5Z M1145.2 85.0L1320.5 85.0L1320.5 245.3L1252.9 245.3L1247.9 236.6L1240.4 229.0L1233.4 230.3L1234.1 220.3L1230.4 215.3L1231.6 207.7L1236.6 205.2L1240.4 199.0L1246.6 191.5L1247.9 185.2L1241.6 186.5L1232.9 189.0L1231.6 183.9L1227.8 178.9L1224.1 173.9L1219.1 168.9L1215.3 167.7L1210.3 171.4L1202.8 173.9L1197.8 171.4L1194.0 165.2L1189.0 160.2L1185.3 156.4L1180.3 153.9L1176.5 150.6L1177.7 146.4L1175.2 141.4L1176.5 135.1L1172.7 130.1L1167.7 127.6L1160.2 125.6L1151.4 122.6L1148.9 117.6L1144.7 111.3L1145.2 102.5Z M1153.9 178.2L1159.0 177.2L1162.7 180.2L1165.2 185.2L1165.7 189.0L1162.7 191.5L1159.0 189.0L1156.5 183.9Z M1167.0 192.7L1172.7 190.2L1177.7 191.5L1175.2 196.5L1179.0 200.2L1174.7 204.7L1170.2 201.5L1167.7 197.7Z M1177.7 199.0L1182.8 195.2L1190.3 197.2L1191.5 202.7L1190.3 209.0L1186.5 212.8L1180.3 212.8L1177.2 207.7L1174.7 204.7Z M1187.3 174.7L1191.5 173.9L1195.3 178.9L1196.0 183.2L1191.5 184.7L1187.3 181.4Z M1189.0 187.2L1192.3 187.2L1191.5 190.2L1188.5 189.7Z M1146.4 197.7L1150.2 198.2L1148.9 200.2Z M1187.8 212.8L1192.3 211.5L1190.3 214.8Z M1320.5 241.5L1320.5 379.3L1305.5 380.5L1299.2 378.0L1293.0 380.5L1288.0 385.5L1281.7 388.0L1275.4 385.5L1270.4 380.5L1264.2 369.3L1259.2 361.7L1252.9 356.7L1246.6 349.2L1244.1 339.2L1240.4 330.4L1235.4 324.2L1230.4 319.2L1222.8 316.6L1217.8 312.9L1215.3 306.6L1220.3 297.9L1221.6 292.8L1219.1 286.6L1221.6 280.3L1227.8 275.3L1234.1 272.8L1239.1 272.1L1245.4 272.8L1247.9 269.1L1252.9 267.8L1255.4 262.8L1252.9 257.8L1249.1 251.5L1246.6 241.5Z M1288.0 404.3L1286.7 394.3L1291.7 388.0L1299.2 384.3L1305.5 386.8L1313.0 384.3L1320.5 384.3L1320.5 404.3Z M1195.3 317.9L1202.8 309.6L1207.8 309.6L1211.6 315.4L1214.8 322.9L1209.1 321.7L1202.8 320.4Z M1181.5 331.7L1190.3 326.7L1201.5 324.2L1205.3 329.2L1202.8 335.4L1199.0 340.4L1194.0 342.9L1191.5 346.7L1189.0 342.9L1185.3 344.2L1179.0 342.9L1174.0 339.2L1177.7 334.7Z M1246.6 267.8L1250.4 267.0L1251.6 271.6L1247.9 272.8Z M1084.6 483.2L1088.8 480.7L1092.6 482.7L1096.3 476.9L1099.6 478.2L1101.3 483.2L1105.1 484.4L1108.9 489.4L1111.4 494.4L1108.9 499.4L1109.6 505.7L1108.9 513.2L1108.1 518.2L1103.8 513.2L1098.8 508.2L1095.1 503.2L1090.1 499.4L1086.3 493.2L1084.6 488.2Z M1098.1 471.9L1101.3 468.6L1106.4 468.6L1111.4 465.6L1116.4 466.1L1118.9 471.9L1117.6 476.9L1113.9 479.4L1108.9 478.2L1105.1 479.4L1101.3 476.9Z M1113.9 491.9L1118.9 490.7L1122.1 494.4L1124.6 499.4L1122.6 503.2L1118.9 501.9L1115.1 498.2Z M1112.1 489.7L1115.1 490.2L1114.6 492.7L1112.1 492.2Z M1159.6 410.5L1159.3 411.8L1157.9 412.0L1156.6 411.3L1156.6 409.7L1157.9 409.3L1159.0 409.5Z M1163.1 407.5L1162.2 408.5L1161.2 408.7L1159.8 408.3L1160.2 406.9L1161.1 405.9L1162.3 406.4Z M1167.0 409.3L1166.1 410.3L1164.8 411.0L1163.4 410.1L1163.7 408.5L1164.8 407.4L1166.4 407.8Z M1169.3 406.0L1169.2 407.3L1167.9 407.5L1167.1 406.6L1167.3 405.5L1167.8 404.3L1169.1 404.9Z M1165.8 414.3L1165.2 415.8L1163.6 416.1L1162.1 415.2L1162.6 413.6L1163.5 412.4L1165.0 413.0Z M1161.5 416.0L1160.8 417.4L1159.5 417.1L1158.7 416.5L1158.6 415.5L1159.3 414.3L1160.6 414.9Z M1168.7 416.8L1168.0 417.8L1166.9 418.2L1166.0 417.4L1166.0 416.2L1166.9 415.3L1168.2 415.6Z M1170.4 412.5L1169.8 413.5L1168.7 413.9L1167.7 413.1L1167.6 411.9L1168.7 411.3L1169.6 411.8Z M1157.9 413.0L1157.4 414.2L1156.1 414.4L1155.3 413.6L1155.3 412.4L1156.2 412.0L1157.3 411.9Z M1163.5 420.0L1162.9 420.9L1162.0 420.9L1160.9 420.6L1160.9 419.4L1162.0 419.1L1163.1 419.0Z M1167.4 421.0L1167.0 421.6L1166.3 421.9L1165.5 421.5L1165.4 420.5L1166.3 420.3L1167.1 420.2Z M1171.0 416.0L1170.9 416.9L1170.0 416.9L1169.2 416.5L1169.2 415.5L1170.0 415.1L1171.0 415.1Z M1152.7 428.1L1152.1 428.9L1151.1 429.5L1150.5 428.5L1150.4 427.5L1151.1 426.7L1152.4 426.9Z M1155.7 426.0L1155.3 426.8L1154.4 427.4L1153.7 426.5L1153.4 425.4L1154.4 424.6L1155.4 425.2Z M1150.6 432.6L1150.0 433.9L1148.5 434.3L1147.4 433.3L1147.4 431.8L1148.5 430.8L1150.2 431.0Z M1154.4 432.6L1153.9 433.5L1152.9 433.9L1152.3 433.0L1152.2 432.1L1152.9 431.1L1153.9 431.6Z M1158.4 430.1L1157.8 430.7L1157.0 431.2L1156.1 430.6L1156.4 429.7L1156.9 428.8L1158.0 429.1Z M1148.4 435.6L1148.3 436.4L1147.5 436.5L1146.7 436.0L1146.9 435.2L1147.5 434.5L1148.4 434.7Z M1160.9 426.8L1160.7 427.4L1160.0 427.8L1159.1 427.3L1159.5 426.4L1160.0 425.9L1160.8 426.0Z M1167.8 404.3L1167.3 405.3L1166.2 405.5L1165.3 404.8L1165.1 403.6L1166.2 403.0L1167.3 403.2Z M1156.3 407.5L1155.6 408.1L1155.0 408.5L1154.2 408.0L1154.4 407.1L1155.0 406.7L1155.9 406.6Z M1217.3 414.3L1221.6 411.8L1225.3 414.3L1227.8 421.8L1229.1 430.6L1230.4 440.6L1233.4 450.6L1236.6 459.4L1240.4 468.1L1245.4 475.6L1251.6 481.9L1257.9 485.7L1265.4 485.2L1270.9 484.4L1270.4 489.4L1266.7 493.2L1261.7 496.9L1255.4 497.7L1247.9 498.7L1242.9 495.7L1240.4 489.4L1236.6 484.4L1231.6 475.6L1227.8 468.1L1223.3 459.4L1220.3 450.6L1217.8 440.6L1216.6 430.6L1216.1 421.8Z M1262.9 420.8L1266.2 418.6L1270.6 419.7L1275.0 417.5L1281.6 417.5L1288.2 423.0L1294.9 424.1L1301.5 423.0L1308.1 425.2L1305.9 435.2L1300.4 444.0L1297.1 448.4L1290.4 449.5L1286.0 446.2L1282.7 440.7L1278.3 434.0L1273.9 428.5L1268.4 425.2L1264.0 424.1Z M1321.3 378.9L1319.1 406.5L1310.3 420.8L1304.8 416.4L1298.2 412.0L1291.6 409.3L1284.9 408.0L1277.7 409.1L1273.2 407.4L1277.2 404.7L1282.1 401.0L1285.2 395.9L1286.5 389.3L1281.6 385.5L1276.1 384.4L1270.6 378.9Z M1276.7 481.2L1282.5 478.9L1284.2 482.7L1279.2 484.4Z M1137.6 598.2L1141.3 593.4L1152.7 583.0L1160.3 576.4L1165.0 571.7L1172.5 567.9L1181.0 567.0L1188.6 567.9L1190.1 570.8L1186.7 578.3Z M895.2 400.5L970.4 400.5L975.4 404.3L980.4 408.0L987.9 410.5L992.9 414.3L1000.4 416.8L1007.9 420.5L1012.9 424.3L1017.9 428.1L1019.2 434.3L1015.4 438.1L1007.9 435.6L999.2 434.3L997.9 438.1L1002.9 439.3L1007.9 440.6L1015.4 443.1L1020.5 446.8L1019.2 451.8L1024.2 454.4L1030.5 453.1L1033.0 455.6L1029.2 459.4L1020.5 463.1L1012.9 469.4L1007.9 475.6L1009.2 481.9L1007.9 488.2L1005.4 494.4L1001.7 500.7L999.2 507.0L995.4 513.2L992.9 520.7L989.1 527.0L986.6 533.3L982.9 538.3L980.4 543.3L975.4 547.0L970.4 549.5L965.3 545.8L960.3 543.3L957.8 548.3L955.3 553.3L950.3 555.8L945.3 565.8L907.7 573.3L870.2 543.3L845.1 513.2L851.4 503.2L848.9 498.2L852.6 496.2L856.4 495.7L860.1 490.7L858.9 485.7L862.6 480.7L867.6 476.9L872.7 471.9L877.7 468.1L881.4 461.9L886.4 456.9L891.4 453.1L893.9 446.8L896.5 440.6L898.2 434.3L895.2 428.1L890.2 423.0L891.4 416.8L888.9 410.5Z M926.2 486.2L1002.8 489.1L999.9 495.7L996.1 501.3L993.3 507.0L990.5 512.7L988.6 520.2L986.7 527.8L983.9 535.4L980.1 541.0L976.3 546.7L972.5 550.5L970.6 555.2L968.7 559.9L966.8 565.6L965.9 573.1L965.0 580.7L962.5 585.4L952.7 588.3L926.2 578.8Z M797.5 400.5L836.3 403.0L832.6 409.3L827.6 410.5L824.6 415.5L822.6 421.8L820.1 428.1L821.3 435.6L820.1 444.3L817.0 450.6L805.0 440.6L795.0 418.0Z M851.4 215.5L858.0 214.7L866.7 212.3L870.6 217.0L875.3 221.8L880.0 227.3L888.7 232.0L887.1 238.3L884.0 243.8L876.9 247.8L874.5 252.5L869.0 254.1L863.0 256.4L861.9 250.1L859.6 242.2L856.4 234.4L853.3 228.9L850.1 223.3Z M823.3 231.2L832.8 232.8L838.3 231.5L839.9 235.9L840.7 242.2L842.2 235.9L845.4 233.6L850.1 234.4L854.1 240.7L857.2 248.5L859.3 258.0L855.6 259.6L852.5 256.4L850.9 261.1L847.0 264.3L843.8 262.7L845.4 267.4L849.3 270.6L847.0 273.7L842.2 273.7L835.9 274.5L830.4 275.3L835.9 278.5L842.2 280.0L848.5 280.8L853.0 283.2L851.7 287.9L845.4 289.5L840.7 287.1L834.4 286.3L826.5 287.9L818.6 288.7L812.3 291.1L807.6 295.8L798.1 295.8L804.4 273.7L813.9 251.7Z M870.6 268.2L875.3 266.7L879.3 269.0L880.8 262.7L884.8 260.4L887.9 264.3L891.1 258.0L895.0 257.2L897.4 254.8L902.1 249.3L905.2 250.9L906.8 256.4L909.2 261.1L911.5 269.0L910.7 273.7L908.4 276.9L905.2 273.7L902.1 272.2L898.9 267.4L895.8 269.0L897.4 273.7L895.8 276.9L891.1 280.0L886.3 280.8L883.2 283.2L885.6 287.9L889.5 288.7L892.6 292.6L889.5 295.8L869.0 295.8L871.4 289.5L872.2 283.2L870.6 276.9L869.3 272.2Z M903.7 286.3L908.4 285.6L911.5 287.9L910.7 293.4L905.2 292.6Z M913.9 288.7L917.0 289.5L917.0 294.2L914.7 294.2Z M817.0 312.0L822.6 308.9L829.6 305.0L833.6 301.0L838.3 300.2L840.7 303.4L837.5 307.3L843.8 308.9L849.3 308.1L850.9 313.6L850.1 319.9L845.4 323.1L839.1 321.5L834.4 323.9L828.1 322.3L822.6 319.9L818.6 316.8Z M796.6 320.7L806.0 320.7L812.3 322.3L818.6 325.4L822.6 329.4L829.6 328.6L837.5 327.8L845.4 329.4L850.1 332.5L849.3 338.8L847.8 345.1L843.8 347.5L839.1 344.3L834.4 340.4L832.8 335.7L828.9 333.3L823.3 331.7L818.6 332.5L813.9 334.9L807.6 337.2L801.3 340.4L795.8 342.8Z M863.5 316.0L869.0 314.4L873.0 308.1L876.9 305.7L883.2 305.0L887.1 306.5L883.2 310.5L885.6 314.4L884.0 319.1L883.2 323.1L876.9 324.6L870.6 323.9L865.9 322.3L863.0 319.9Z M857.2 332.5L861.1 327.8L865.1 327.8L869.0 331.7L868.2 335.7L862.7 337.2L858.0 336.5Z M879.3 331.7L884.0 329.4L887.9 330.2L886.3 334.9L883.2 338.8L879.3 338.0L877.7 334.9Z M893.4 332.5L897.4 332.5L897.4 337.2L895.8 340.4L893.4 338.0Z M899.7 321.5L902.1 318.3L905.2 315.2L908.4 310.5L913.1 311.3L917.8 310.5L921.8 312.0L921.0 316.0L916.3 317.6L912.3 320.7L907.6 323.1L903.7 324.6L900.5 323.9Z M898.9 330.2L903.7 329.4L908.4 327.8L911.5 328.6L909.2 331.7L906.0 334.1L902.1 335.7L899.7 333.3Z M855.6 344.3L861.1 342.8L869.0 342.0L876.9 341.2L881.6 340.4L880.8 345.1L876.9 346.7L873.0 349.1L869.8 353.0L868.2 357.7L869.0 364.0L872.2 370.3L873.7 375.8L872.2 380.6L869.0 382.9L864.3 384.5L859.6 382.9L857.2 377.4L855.6 370.3L854.8 362.4L855.6 353.0Z M880.0 352.2L884.0 350.6L887.9 353.8L892.6 356.1L897.4 355.4L898.1 358.5L894.2 361.7L892.6 364.8L895.8 368.7L892.6 371.9L893.4 378.2L891.1 383.7L886.3 385.3L881.6 382.9L879.3 379.0L882.4 373.5L880.8 367.2L879.3 360.9L878.5 356.1Z M902.1 344.3L908.4 340.4L914.7 337.2L921.0 335.7L928.9 334.9L935.2 336.5L941.5 338.8L943.8 342.8L941.5 346.7L946.2 347.5L952.5 349.8L955.6 351.4L955.6 390.8L903.7 390.8L898.9 384.5L894.2 378.2L893.4 371.9L897.4 369.5L894.2 365.6L895.8 361.7L902.1 359.3L905.2 356.1L908.4 353.0L903.7 350.6L901.3 347.5Z M801.3 357.7L806.0 353.8L812.3 350.6L820.2 349.5L828.1 349.8L835.9 352.2L841.5 356.1L845.4 360.9L846.7 366.4L843.8 368.0L840.7 364.8L834.4 364.0L826.5 364.8L821.0 367.2L817.0 371.9L813.9 371.9L811.5 367.2L810.0 360.9L806.8 364.0L804.4 368.7L802.1 367.2Z M795.8 368.7L804.4 367.2L810.7 370.3L815.5 372.7L820.2 368.0L826.5 365.6L834.4 365.3L840.7 367.2L844.6 371.9L846.2 378.2L843.8 382.9L839.1 386.1L832.8 387.6L826.5 390.8L795.0 390.8Z M869.0 289.2L892.6 289.2L889.5 293.1L883.2 294.7L880.8 298.7L875.3 298.7L870.6 295.5Z M903.7 289.2L912.3 289.2L911.5 295.5L908.4 296.3L905.2 293.1Z M913.9 291.6L918.6 290.0L919.4 296.3L916.3 298.7L913.1 297.1Z M842.2 289.2L852.5 289.2L850.9 294.7L847.0 293.9Z M867.4 300.2L870.6 299.4L872.2 302.6L869.0 303.4Z M924.1 327.0L928.9 326.2L929.6 328.6L925.7 329.4Z M795.0 384.2L825.7 384.2L828.9 389.7L833.6 394.4L836.3 400.0L838.3 395.2L835.9 389.7L840.7 384.2L847.8 384.2L848.5 389.7L845.4 394.4L841.5 400.0L837.5 403.9L832.8 410.2L828.9 416.5L825.7 422.8L823.3 429.1L821.0 435.4L819.4 441.7L818.6 448.0L810.7 444.8L801.3 408.6Z M913.1 395.2L917.8 395.2L922.6 397.6L925.7 400.7L928.1 405.5L932.0 407.0L936.7 405.5L939.9 400.0L946.2 398.4L955.6 399.2L955.6 485.8L860.4 485.8L865.9 480.3L870.6 476.3L875.3 471.6L880.0 466.9L884.8 462.2L889.5 455.9L893.4 449.6L895.8 443.3L898.1 437.0L897.4 430.7L892.6 425.9L888.7 421.2L889.5 414.9L893.4 408.6L897.4 403.9L900.5 408.6L903.7 414.9L908.4 413.3L907.6 405.5L905.2 400.7L908.4 396.0Z M903.7 384.2L955.6 384.2L955.6 394.4L950.9 392.1L944.6 391.3L939.9 393.7L935.2 392.9L930.4 389.7L925.7 390.5L921.0 388.9L914.7 389.7L908.4 392.1L905.2 389.7Z M903.4 342.6L911.3 338.7L919.2 335.5L927.0 334.7L934.9 337.9L942.8 340.2L944.4 345.0L949.1 348.9L955.4 353.6L961.7 359.9L968.0 366.2L971.1 372.5L972.7 380.4L971.1 389.8L969.6 397.7L964.8 396.9L958.5 393.0L952.2 390.6L947.5 392.2L941.2 396.1L935.7 397.7L930.2 393.0L923.9 390.6L917.6 389.8L911.3 388.3L903.4 389.8Z M903.4 397.7L911.3 396.1L919.2 398.5L925.5 404.0L930.2 407.2L936.5 405.6L938.9 399.3L945.9 398.5L953.8 400.1L960.1 401.7L968.0 402.4L974.3 407.2L980.6 410.3L988.5 411.9L996.3 414.3L1004.2 416.6L1010.5 420.6L1015.2 424.5L1017.6 430.8L903.4 430.8Z" fill="#676767"/></g>
<path d="M1302.4 326.4L1303.3 326.8 M1277.5 310.4L1278.0 310.5 M1296.6 337.5L1297.3 337.1 M1292.3 336.9L1292.8 336.5 M1239.8 326.0L1240.8 326.1 M1261.3 304.7L1261.6 304.4 M1237.3 294.4L1238.0 294.2 M1254.3 374.2L1254.6 374.2 M1258.8 282.7L1259.2 282.3 M1263.5 359.3L1263.8 359.5 M1253.7 289.7L1253.9 290.2 M1267.7 338.5L1268.9 338.3 M1245.3 321.5L1246.3 321.9" fill="none" stroke="#fff" stroke-width="0.7" stroke-linecap="round" stroke-linejoin="round"/>
<path d="M952.2 382.0L957.0 384.3L960.1 387.5 M832.2 261.5L832.5 261.5 M840.6 276.5L841.4 276.3 M829.9 258.6L830.7 258.3 M837.3 266.5L838.4 266.8 M826.0 264.9L826.4 264.8 M835.6 267.2L836.2 267.1 M818.6 277.0L819.7 277.1 M823.3 266.7L824.3 266.8 M832.7 258.3L833.3 258.4" fill="none" stroke="#fff" stroke-width="0.8" stroke-linecap="round" stroke-linejoin="round"/>
<path d="M880.0 262.7L881.3 269.0 M884.8 261.3L886.0 267.6 M889.5 259.9L890.7 266.2 M894.2 258.5L895.5 264.8 M898.9 257.0L900.2 263.3 M903.7 255.6L904.9 261.9 M908.4 254.2L909.6 260.5 M913.1 252.8L914.4 259.1 M1242.3 339.9L1243.1 340.1 M1268.9 305.2L1269.8 305.1 M1251.4 366.6L1251.9 366.1 M1274.7 367.2L1275.4 367.0 M1302.7 283.5L1303.6 283.5 M1298.0 349.9L1299.0 350.2 M1256.8 345.1L1257.9 345.5 M1301.3 284.4L1302.1 283.9 M1305.0 363.1L1306.0 363.0 M1258.0 294.8L1258.9 294.9 M1279.9 322.5L1281.1 322.4 M1259.2 335.6L1259.8 335.3" fill="none" stroke="#fff" stroke-width="0.9" stroke-linecap="round" stroke-linejoin="round"/>
<path d="M913.1 362.4L911.5 357.7L908.4 354.6 M936.7 368.7L935.2 375.0L932.0 381.3 M946.2 353.0L950.1 357.7L952.5 364.0 M905.2 378.2L910.0 382.9L916.3 384.5L921.0 387.6 M931.0 363.9L932.6 359.1L936.5 355.2L940.4 353.6 M960.1 402.4L962.5 407.2L963.3 410.3 M968.0 403.2L971.1 408.7L972.7 413.5 M975.9 408.0L979.0 415.0L979.8 419.8 M983.7 411.1L986.9 418.2L987.7 422.9 M991.6 413.5L993.2 419.8L995.6 424.5 M999.5 415.8L1002.6 422.9 M970.4 406.8L974.1 410.5L979.1 414.3L985.4 416.8 M1002.9 439.3L999.2 444.3L995.4 446.8 M1010.4 443.1L1007.9 449.3L1004.2 453.1 M895.2 428.1L900.2 429.3L905.2 428.1 M896.5 440.6L901.5 440.6 M891.4 453.1L896.5 451.8L900.2 453.1 M877.7 468.1L882.7 466.9 M867.6 476.9L872.7 475.6L876.4 476.9 M858.9 485.7L865.1 484.4L868.9 486.9 M856.4 495.7L861.4 493.2L865.1 494.4L867.6 499.4 M860.1 490.7L865.1 490.7 M958.3 544.8L954.6 546.7L951.7 550.5 M976.3 546.7L972.5 544.8L969.7 541.0 M983.9 535.4L980.1 534.4L977.2 531.6 M989.1 527.0L985.4 525.7L981.6 527.0 M995.4 513.2L991.6 512.0L987.9 513.2 M1001.7 500.7L997.9 499.4L994.1 500.7 M1007.9 488.2L1004.2 486.9L1000.4 488.2 M1009.2 478.2L1005.4 478.2L1001.7 475.6 M819.4 277.4L820.2 277.6 M828.3 276.6L829.1 276.7 M827.4 259.6L828.2 259.9 M821.6 273.6L821.9 273.5 M1260.4 310.4L1265.4 311.6" fill="none" stroke="#fff" stroke-width="1.0" stroke-linecap="round" stroke-linejoin="round"/>
<path d="M933.6 350.6L938.3 354.6L941.5 359.3L944.6 365.6 M921.0 357.7L919.4 353.0L916.3 349.8L914.7 345.1 M914.4 360.7L912.9 355.2L914.4 348.9L916.8 344.2 M832.8 410.2L828.9 408.6L825.7 405.5 M828.9 416.5L824.9 415.7L821.8 412.6 M825.7 422.8L821.8 422.0L818.6 418.9 M823.3 429.1L819.4 428.3L816.3 425.2 M821.0 435.4L817.8 434.6L814.7 432.2 M837.5 403.9L833.6 402.3L830.4 399.2" fill="none" stroke="#fff" stroke-width="1.1" stroke-linecap="round" stroke-linejoin="round"/>
<path d="M1007.9 440.6L1012.9 444.3L1019.2 451.8L1024.2 454.4 M868.2 353.0L870.6 359.3L873.7 368.7L876.1 376.6 M1255.4 307.9L1254.1 312.9L1257.9 315.4 M1272.8 413.1L1283.8 413.1L1292.7 416.4L1301.5 419.7L1309.2 422.4" fill="none" stroke="#fff" stroke-width="1.2" stroke-linecap="round" stroke-linejoin="round"/>
<path d="M928.9 359.3L932.0 364.0L936.7 368.7L941.5 373.5L946.2 375.8 M895.8 364.0L898.9 367.2L905.2 368.7L910.7 368.7 M949.1 390.6L953.8 394.6L957.0 399.3L959.3 402.4 M950.8 571.3L947.0 574.1L941.3 573.1L937.6 571.3 M821.8 367.2L828.1 364.0L835.9 364.0L842.2 366.4 M810.0 360.9L812.3 365.6L814.7 370.3 M828.6 270.3L829.6 270.3 M837.5 262.2L838.4 262.2 M836.1 260.1L836.7 259.7 M832.6 271.1L833.2 271.1 M818.7 259.9L819.6 259.8 M823.3 278.4L823.7 278.3 M822.5 270.3L823.2 270.0 M819.6 261.2L820.2 260.8 M825.9 264.5L826.2 264.1" fill="none" stroke="#fff" stroke-width="1.3" stroke-linecap="round" stroke-linejoin="round"/>
<path d="M912.9 380.1L917.6 381.2L922.3 383.5L924.7 389.1 M962.1 548.6L960.2 554.2L958.3 559.9L955.5 563.7 M1249.1 297.9L1252.9 302.9L1255.4 307.9L1260.4 310.4L1264.2 306.6" fill="none" stroke="#fff" stroke-width="1.4" stroke-linecap="round" stroke-linejoin="round"/>
<path d="M909.7 369.4L912.1 363.9L914.4 360.7L920.7 358.3L927.0 356.0L931.8 352.0L936.5 348.1L942.0 345.0 M922.3 372.5L926.3 368.6L931.0 363.9L934.1 362.3L938.1 367.0L942.8 372.5L945.9 374.9 M902.7 404.3L906.5 409.3 M965.9 573.1L962.1 569.4L958.3 565.6L952.7 564.6L947.0 565.6 M1300.4 393.2L1297.1 393.7L1293.8 395.9" fill="none" stroke="#fff" stroke-width="1.5" stroke-linecap="round" stroke-linejoin="round"/>
<path d="M910.7 368.7L913.1 362.4L916.3 359.3L921.0 357.7L925.7 355.4L930.4 353.0L933.6 350.6L935.2 348.3 M998.4 434.3L1007.9 435.1L1015.9 437.6 M826.4 239.3L823.3 247.1L820.2 254.2" fill="none" stroke="#fff" stroke-width="1.6" stroke-linecap="round" stroke-linejoin="round"/>
<path d="M970.6 555.2L965.9 552.4L962.1 548.6L958.3 544.8L956.5 541.0 M826.5 386.6L830.4 391.3L834.4 396.8L836.7 400.7" fill="none" stroke="#fff" stroke-width="1.8" stroke-linecap="round" stroke-linejoin="round"/>
<path d="M893.9 403.0L900.2 408.0L905.2 414.3" fill="none" stroke="#fff" stroke-width="2.0" stroke-linecap="round" stroke-linejoin="round"/>
<path d="M996.7 438.1L1002.9 438.8L1009.2 440.6L1015.4 443.1L1021.0 447.1 M1287.8 392.1L1290.9 398.8L1294.9 402.1L1299.3 401.6L1303.7 397.6" fill="none" stroke="#fff" stroke-width="2.2" stroke-linecap="round" stroke-linejoin="round"/>
</g>
<circle cx="1057.0" cy="349.2" r="260.0" fill="none" stroke="#2a2a2a" stroke-width="1.25"/>
</g></defs>
<use href="#mapbase" x="0.0" y="0"/>
<text x="900.7" y="83.5" font-size="22.4" font-weight="bold" fill="#111" textLength="317.5" lengthAdjust="spacingAndGlyphs">Surface layer (10 - 35<tspan dx="2.5">m</tspan> depth)</text>
<rect x="1184.8" y="100.5" width="122" height="51" fill="#fff" stroke="#333" stroke-width="1"/>
<circle cx="1211.6" cy="115.1" r="4.8" fill="#fff" stroke="#222" stroke-width="0.9"/>
<path d="M1211.6 132.4l4.3 6l-4.3 6l-4.3 -6z" fill="#fff" stroke="#222" stroke-width="0.9"/>
<text x="1236.6" y="122.1" font-size="18" fill="#111">2011/12</text>
<text x="1236.6" y="145.1" font-size="18" fill="#111">2015/16</text>
<text x="792.9" y="55.4" font-size="46.5" fill="#000">(b)</text>
<use href="#mapbase" x="648.9" y="0"/>
<text x="1549.6" y="83.5" font-size="22.4" font-weight="bold" fill="#111" textLength="317.5" lengthAdjust="spacingAndGlyphs">Surface layer (10 - 35<tspan dx="2.5">m</tspan> depth)</text>
<rect x="1833.7" y="100.5" width="122" height="51" fill="#fff" stroke="#333" stroke-width="1"/>
<circle cx="1860.5" cy="115.1" r="4.8" fill="#fff" stroke="#222" stroke-width="0.9"/>
<path d="M1860.5 132.4l4.3 6l-4.3 6l-4.3 -6z" fill="#fff" stroke="#222" stroke-width="0.9"/>
<text x="1885.5" y="122.1" font-size="18" fill="#111">2011/12</text>
<text x="1885.5" y="145.1" font-size="18" fill="#111">2015/16</text>
<text x="1443.4" y="55.4" font-size="46.5" fill="#000">(c)</text>
<path d="M960.6 171.9l5.4 7.3l-5.4 7.3l-5.4 -7.3z" fill="#f4e72c" stroke="#222" stroke-width="0.8"/>
<circle cx="1036.7" cy="274.0" r="5.6" fill="#6dc86d" stroke="#222" stroke-width="0.8"/>
<circle cx="1074.4" cy="282.3" r="5.6" fill="#79ca62" stroke="#222" stroke-width="0.8"/>
<circle cx="1093.2" cy="288.5" r="5.6" fill="#79ca62" stroke="#222" stroke-width="0.8"/>
<path d="M1100.6 293.0l5.4 7.3l-5.4 7.3l-5.4 -7.3z" fill="#3a99dc" stroke="#222" stroke-width="0.8"/>
<circle cx="1106.3" cy="292.5" r="5.6" fill="#79ca62" stroke="#222" stroke-width="0.8"/>
<path d="M1082.8 278.4l5.4 7.3l-5.4 7.3l-5.4 -7.3z" fill="#1fc0bf" stroke="#222" stroke-width="0.8"/>
<path d="M1058.1 309.0l5.4 7.3l-5.4 7.3l-5.4 -7.3z" fill="#33349a" stroke="#222" stroke-width="0.8"/>
<circle cx="1168.0" cy="249.2" r="5.6" fill="#17b3d9" stroke="#222" stroke-width="0.8"/>
<circle cx="1176.6" cy="269.1" r="5.6" fill="#17b3d9" stroke="#222" stroke-width="0.8"/>
<circle cx="1181.3" cy="260.1" r="5.6" fill="#3a99dc" stroke="#222" stroke-width="0.8"/>
<circle cx="1163.7" cy="284.9" r="5.6" fill="#6dc86d" stroke="#222" stroke-width="0.8"/>
<circle cx="1152.1" cy="295.0" r="5.6" fill="#15b4d6" stroke="#222" stroke-width="0.8"/>
<circle cx="1138.2" cy="306.6" r="5.6" fill="#46c28c" stroke="#222" stroke-width="0.8"/>
<circle cx="1130.3" cy="298.6" r="5.6" fill="#4a76c8" stroke="#222" stroke-width="0.8"/>
<path d="M1123.4 310.7l5.4 7.3l-5.4 7.3l-5.4 -7.3z" fill="#3a99dc" stroke="#222" stroke-width="0.8"/>
<circle cx="1080.8" cy="362.7" r="5.6" fill="#6dc763" stroke="#222" stroke-width="0.8"/>
<path d="M1069.5 348.4l5.4 7.3l-5.4 7.3l-5.4 -7.3z" fill="#18b2dd" stroke="#222" stroke-width="0.8"/>
<circle cx="1090.2" cy="375.2" r="5.6" fill="#7bcb5f" stroke="#222" stroke-width="0.8"/>
<path d="M1091.4 361.6l5.4 7.3l-5.4 7.3l-5.4 -7.3z" fill="#c9922c" stroke="#222" stroke-width="0.8"/>
<circle cx="1100.5" cy="374.4" r="5.6" fill="#3a9bdf" stroke="#222" stroke-width="0.8"/>
<path d="M1092.7 363.0l5.4 7.3l-5.4 7.3l-5.4 -7.3z" fill="#1cb2de" stroke="#222" stroke-width="0.8"/>
<circle cx="1108.2" cy="379.7" r="5.6" fill="#3a9bdf" stroke="#222" stroke-width="0.8"/>
<path d="M1111.5 373.2l5.4 7.3l-5.4 7.3l-5.4 -7.3z" fill="#3a9bdf" stroke="#222" stroke-width="0.8"/>
<circle cx="1099.6" cy="417.4" r="5.6" fill="#1fbdb9" stroke="#222" stroke-width="0.8"/>
<path d="M1095.0 405.5l5.4 7.3l-5.4 7.3l-5.4 -7.3z" fill="#4455b7" stroke="#222" stroke-width="0.8"/>
<path d="M1107.6 424.5l5.4 7.3l-5.4 7.3l-5.4 -7.3z" fill="#35349a" stroke="#222" stroke-width="0.8"/>
<path d="M1016.4 479.0l5.4 7.3l-5.4 7.3l-5.4 -7.3z" fill="#a6cd36" stroke="#222" stroke-width="0.8"/>
<path d="M1011.8 471.4l5.4 7.3l-5.4 7.3l-5.4 -7.3z" fill="#f0bb2c" stroke="#222" stroke-width="0.8"/>
<path d="M1029.0 465.0l5.4 7.3l-5.4 7.3l-5.4 -7.3z" fill="#f0bb2c" stroke="#222" stroke-width="0.8"/>
<path d="M1049.5 468.9l5.4 7.3l-5.4 7.3l-5.4 -7.3z" fill="#17b4cc" stroke="#222" stroke-width="0.8"/>
<path d="M1039.4 470.1l5.4 7.3l-5.4 7.3l-5.4 -7.3z" fill="#3abf9c" stroke="#222" stroke-width="0.8"/>
<path d="M1058.7 464.3l5.4 7.3l-5.4 7.3l-5.4 -7.3z" fill="#fcc337" stroke="#222" stroke-width="0.8"/>
<path d="M1046.4 478.6l5.4 7.3l-5.4 7.3l-5.4 -7.3z" fill="#3abf9c" stroke="#222" stroke-width="0.8"/>
<path d="M1027.3 485.9l5.4 7.3l-5.4 7.3l-5.4 -7.3z" fill="#f0bb2c" stroke="#222" stroke-width="0.8"/>
<path d="M1037.2 489.9l5.4 7.3l-5.4 7.3l-5.4 -7.3z" fill="#3abf9c" stroke="#222" stroke-width="0.8"/>
<path d="M1045.7 489.3l5.4 7.3l-5.4 7.3l-5.4 -7.3z" fill="#3abf9c" stroke="#222" stroke-width="0.8"/>
<path d="M1017.3 496.9l5.4 7.3l-5.4 7.3l-5.4 -7.3z" fill="#6cc66a" stroke="#222" stroke-width="0.8"/>
<path d="M1031.9 514.1l5.4 7.3l-5.4 7.3l-5.4 -7.3z" fill="#a9cd35" stroke="#222" stroke-width="0.8"/>
<path d="M1609.6 171.9l5.4 7.3l-5.4 7.3l-5.4 -7.3z" fill="#f4ea25" stroke="#222" stroke-width="0.8"/>
<circle cx="1685.7" cy="274.0" r="5.6" fill="#4470c4" stroke="#222" stroke-width="0.8"/>
<circle cx="1723.4" cy="282.3" r="5.6" fill="#3b3a9c" stroke="#222" stroke-width="0.8"/>
<circle cx="1742.2" cy="288.5" r="5.6" fill="#3b3a9c" stroke="#222" stroke-width="0.8"/>
<path d="M1749.6 293.0l5.4 7.3l-5.4 7.3l-5.4 -7.3z" fill="#3b3a9c" stroke="#222" stroke-width="0.8"/>
<circle cx="1755.3" cy="292.5" r="5.6" fill="#3b3a9c" stroke="#222" stroke-width="0.8"/>
<path d="M1731.8 278.4l5.4 7.3l-5.4 7.3l-5.4 -7.3z" fill="#f5ee2f" stroke="#222" stroke-width="0.8"/>
<path d="M1707.1 309.0l5.4 7.3l-5.4 7.3l-5.4 -7.3z" fill="#fdc52f" stroke="#222" stroke-width="0.8"/>
<circle cx="1817.0" cy="249.2" r="5.6" fill="#3b3a9c" stroke="#222" stroke-width="0.8"/>
<circle cx="1825.6" cy="269.1" r="5.6" fill="#4566bd" stroke="#222" stroke-width="0.8"/>
<circle cx="1830.3" cy="260.1" r="5.6" fill="#3b3a9c" stroke="#222" stroke-width="0.8"/>
<circle cx="1812.7" cy="284.9" r="5.6" fill="#3b3a9c" stroke="#222" stroke-width="0.8"/>
<circle cx="1801.1" cy="295.0" r="5.6" fill="#4478c8" stroke="#222" stroke-width="0.8"/>
<circle cx="1787.2" cy="306.6" r="5.6" fill="#3b3a9c" stroke="#222" stroke-width="0.8"/>
<circle cx="1779.3" cy="298.6" r="5.6" fill="#4470c4" stroke="#222" stroke-width="0.8"/>
<path d="M1772.4 310.7l5.4 7.3l-5.4 7.3l-5.4 -7.3z" fill="#3b3a9c" stroke="#222" stroke-width="0.8"/>
<circle cx="1729.8" cy="362.7" r="5.6" fill="#3b3a9c" stroke="#222" stroke-width="0.8"/>
<path d="M1718.5 348.4l5.4 7.3l-5.4 7.3l-5.4 -7.3z" fill="#3f3f9f" stroke="#222" stroke-width="0.8"/>
<circle cx="1739.2" cy="375.2" r="5.6" fill="#3a3796" stroke="#222" stroke-width="0.8"/>
<path d="M1740.4 361.6l5.4 7.3l-5.4 7.3l-5.4 -7.3z" fill="#3a3796" stroke="#222" stroke-width="0.8"/>
<circle cx="1749.5" cy="374.4" r="5.6" fill="#4470c4" stroke="#222" stroke-width="0.8"/>
<path d="M1741.7 363.0l5.4 7.3l-5.4 7.3l-5.4 -7.3z" fill="#3b3a9c" stroke="#222" stroke-width="0.8"/>
<circle cx="1757.2" cy="379.7" r="5.6" fill="#1fb5d6" stroke="#222" stroke-width="0.8"/>
<path d="M1760.5 373.2l5.4 7.3l-5.4 7.3l-5.4 -7.3z" fill="#3f8fd6" stroke="#222" stroke-width="0.8"/>
<circle cx="1748.6" cy="417.4" r="5.6" fill="#1bb8d4" stroke="#222" stroke-width="0.8"/>
<path d="M1744.0 405.5l5.4 7.3l-5.4 7.3l-5.4 -7.3z" fill="#4468c0" stroke="#222" stroke-width="0.8"/>
<path d="M1756.6 424.5l5.4 7.3l-5.4 7.3l-5.4 -7.3z" fill="#4462bc" stroke="#222" stroke-width="0.8"/>
<path d="M1665.4 479.0l5.4 7.3l-5.4 7.3l-5.4 -7.3z" fill="#4470c4" stroke="#222" stroke-width="0.8"/>
<path d="M1660.8 471.4l5.4 7.3l-5.4 7.3l-5.4 -7.3z" fill="#3e97dc" stroke="#222" stroke-width="0.8"/>
<path d="M1678.0 465.0l5.4 7.3l-5.4 7.3l-5.4 -7.3z" fill="#4470c4" stroke="#222" stroke-width="0.8"/>
<path d="M1698.5 468.9l5.4 7.3l-5.4 7.3l-5.4 -7.3z" fill="#3b3a9c" stroke="#222" stroke-width="0.8"/>
<path d="M1688.4 470.1l5.4 7.3l-5.4 7.3l-5.4 -7.3z" fill="#3b3a9c" stroke="#222" stroke-width="0.8"/>
<path d="M1707.7 464.3l5.4 7.3l-5.4 7.3l-5.4 -7.3z" fill="#4470c4" stroke="#222" stroke-width="0.8"/>
<path d="M1695.4 478.6l5.4 7.3l-5.4 7.3l-5.4 -7.3z" fill="#3b3a9c" stroke="#222" stroke-width="0.8"/>
<path d="M1676.3 485.9l5.4 7.3l-5.4 7.3l-5.4 -7.3z" fill="#4470c4" stroke="#222" stroke-width="0.8"/>
<path d="M1686.2 489.9l5.4 7.3l-5.4 7.3l-5.4 -7.3z" fill="#3b3a9c" stroke="#222" stroke-width="0.8"/>
<path d="M1694.7 489.3l5.4 7.3l-5.4 7.3l-5.4 -7.3z" fill="#3b3a9c" stroke="#222" stroke-width="0.8"/>
<path d="M1666.3 496.9l5.4 7.3l-5.4 7.3l-5.4 -7.3z" fill="#4468c0" stroke="#222" stroke-width="0.8"/>
<path d="M1680.9 514.1l5.4 7.3l-5.4 7.3l-5.4 -7.3z" fill="#4563bb" stroke="#222" stroke-width="0.8"/>
<rect x="1329.4" y="573.99" width="23.0" height="35.01" fill="#3e3d98"/>
<rect x="1329.4" y="539.39" width="23.0" height="35.01" fill="#4656ae"/>
<rect x="1329.4" y="504.78" width="23.0" height="35.01" fill="#4558b0"/>
<rect x="1329.4" y="470.17" width="23.0" height="35.01" fill="#4566b8"/>
<rect x="1329.4" y="435.57" width="23.0" height="35.01" fill="#4279c4"/>
<rect x="1329.4" y="400.96" width="23.0" height="35.01" fill="#2f97d8"/>
<rect x="1329.4" y="366.35" width="23.0" height="35.01" fill="#14b1d6"/>
<rect x="1329.4" y="331.75" width="23.0" height="35.01" fill="#1fb9b5"/>
<rect x="1329.4" y="297.14" width="23.0" height="35.01" fill="#3dbc92"/>
<rect x="1329.4" y="262.53" width="23.0" height="35.01" fill="#72c466"/>
<rect x="1329.4" y="227.93" width="23.0" height="35.01" fill="#a9c534"/>
<rect x="1329.4" y="193.32" width="23.0" height="35.01" fill="#e9b629"/>
<rect x="1329.4" y="158.71" width="23.0" height="35.01" fill="#fcc23a"/>
<rect x="1329.4" y="124.11" width="23.0" height="35.01" fill="#f0e62f"/>
<rect x="1329.4" y="89.50" width="23.0" height="35.01" fill="#f2e62e"/>
<rect x="1329.4" y="89.5" width="23.0" height="519.1" fill="none" stroke="#667" stroke-width="0.7"/>
<path d="M1352.4 608.6h-3.5" stroke="#333" stroke-width="0.9"/>
<text x="1359.3" y="615.9" font-size="17.3" fill="#111">5</text>
<path d="M1352.4 435.6h-3.5" stroke="#333" stroke-width="0.9"/>
<text x="1359.3" y="442.9" font-size="17.3" fill="#111">10</text>
<path d="M1352.4 262.5h-3.5" stroke="#333" stroke-width="0.9"/>
<text x="1359.3" y="269.8" font-size="17.3" fill="#111">15</text>
<path d="M1352.4 89.5h-3.5" stroke="#333" stroke-width="0.9"/>
<text x="1359.3" y="96.8" font-size="17.3" fill="#111">20</text>
<text x="1341.3" y="78.4" font-size="18" fill="#111" text-anchor="middle">Tracer Age (yrs)</text>
<rect x="1978.6" y="556.69" width="23.2" height="52.31" fill="#3d3c99"/>
<rect x="1978.6" y="504.78" width="23.2" height="52.31" fill="#4656ae"/>
<rect x="1978.6" y="452.87" width="23.2" height="52.31" fill="#4566b8"/>
<rect x="1978.6" y="400.96" width="23.2" height="52.31" fill="#3b94d5"/>
<rect x="1978.6" y="349.05" width="23.2" height="52.31" fill="#14b2d1"/>
<rect x="1978.6" y="297.14" width="23.2" height="52.31" fill="#35bb98"/>
<rect x="1978.6" y="245.23" width="23.2" height="52.31" fill="#82c65c"/>
<rect x="1978.6" y="193.32" width="23.2" height="52.31" fill="#ddb92a"/>
<rect x="1978.6" y="141.41" width="23.2" height="52.31" fill="#fdc43a"/>
<rect x="1978.6" y="89.50" width="23.2" height="52.31" fill="#f1e72d"/>
<rect x="1978.6" y="89.5" width="23.2" height="519.1" fill="none" stroke="#667" stroke-width="0.7"/>
<path d="M2001.8 608.6h-3.5" stroke="#333" stroke-width="0.9"/>
<text x="2008.7" y="615.9" font-size="17.3" fill="#111">2</text>
<path d="M2001.8 556.7h-3.5" stroke="#333" stroke-width="0.9"/>
<text x="2008.7" y="564.0" font-size="17.3" fill="#111">3</text>
<path d="M2001.8 504.8h-3.5" stroke="#333" stroke-width="0.9"/>
<text x="2008.7" y="512.1" font-size="17.3" fill="#111">4</text>
<path d="M2001.8 452.9h-3.5" stroke="#333" stroke-width="0.9"/>
<text x="2008.7" y="460.2" font-size="17.3" fill="#111">5</text>
<path d="M2001.8 401.0h-3.5" stroke="#333" stroke-width="0.9"/>
<text x="2008.7" y="408.3" font-size="17.3" fill="#111">6</text>
<path d="M2001.8 349.1h-3.5" stroke="#333" stroke-width="0.9"/>
<text x="2008.7" y="356.4" font-size="17.3" fill="#111">7</text>
<path d="M2001.8 297.1h-3.5" stroke="#333" stroke-width="0.9"/>
<text x="2008.7" y="304.4" font-size="17.3" fill="#111">8</text>
<path d="M2001.8 245.2h-3.5" stroke="#333" stroke-width="0.9"/>
<text x="2008.7" y="252.5" font-size="17.3" fill="#111">9</text>
<path d="M2001.8 193.3h-3.5" stroke="#333" stroke-width="0.9"/>
<text x="2008.7" y="200.6" font-size="17.3" fill="#111">10</text>
<path d="M2001.8 141.4h-3.5" stroke="#333" stroke-width="0.9"/>
<text x="2008.7" y="148.7" font-size="17.3" fill="#111">20</text>
<path d="M2001.8 89.5h-3.5" stroke="#333" stroke-width="0.9"/>
<text x="2008.7" y="96.8" font-size="17.3" fill="#111">30</text>
<text x="1990.3" y="78.4" font-size="18" fill="#111" text-anchor="middle">Dilution Factor</text>
<g id="pa">
<rect x="137.8" y="46.6" width="608.2" height="505.4" fill="none" stroke="#404040" stroke-width="1.3"/>
<path d="M211.7 552.0v-3.3M211.7 46.6v3.3M254.9 552.0v-3.3M254.9 46.6v3.3M285.6 552.0v-3.3M285.6 46.6v3.3M309.4 552.0v-3.3M309.4 46.6v3.3M328.8 552.0v-3.3M328.8 46.6v3.3M345.2 552.0v-3.3M345.2 46.6v3.3M359.5 552.0v-3.3M359.5 46.6v3.3M372.0 552.0v-3.3M372.0 46.6v3.3M383.2 552.0v-6.5M383.2 46.6v6.5M457.1 552.0v-3.3M457.1 46.6v3.3M500.4 552.0v-3.3M500.4 46.6v3.3M531.0 552.0v-3.3M531.0 46.6v3.3M554.8 552.0v-3.3M554.8 46.6v3.3M574.2 552.0v-3.3M574.2 46.6v3.3M590.7 552.0v-3.3M590.7 46.6v3.3M604.9 552.0v-3.3M604.9 46.6v3.3M617.5 552.0v-3.3M617.5 46.6v3.3M628.7 552.0v-6.5M628.7 46.6v6.5M702.6 552.0v-3.3M702.6 46.6v3.3M745.8 552.0v-3.3M745.8 46.6v3.3M137.8 514.9h3.3M746.0 514.9h-3.3M137.8 483.5h3.3M746.0 483.5h-3.3M137.8 456.4h3.3M746.0 456.4h-3.3M137.8 432.4h3.3M746.0 432.4h-3.3M137.8 411.0h6.5M746.0 411.0h-6.5M137.8 391.6h3.3M746.0 391.6h-3.3M137.8 373.9h3.3M746.0 373.9h-3.3M137.8 357.6h3.3M746.0 357.6h-3.3M137.8 342.5h3.3M746.0 342.5h-3.3M137.8 328.5h6.5M746.0 328.5h-6.5M137.8 315.3h3.3M746.0 315.3h-3.3M137.8 303.0h3.3M746.0 303.0h-3.3M137.8 291.4h3.3M746.0 291.4h-3.3M137.8 280.4h3.3M746.0 280.4h-3.3M137.8 269.9h6.5M746.0 269.9h-6.5M137.8 260.0h3.3M746.0 260.0h-3.3M137.8 250.5h3.3M746.0 250.5h-3.3M137.8 241.5h3.3M746.0 241.5h-3.3M137.8 232.8h3.3M746.0 232.8h-3.3M137.8 224.5h6.5M746.0 224.5h-6.5M137.8 187.4h3.3M746.0 187.4h-3.3M137.8 156.1h3.3M746.0 156.1h-3.3M137.8 128.9h3.3M746.0 128.9h-3.3M137.8 104.9h3.3M746.0 104.9h-3.3M137.8 83.5h6.5M746.0 83.5h-6.5M137.8 64.1h3.3M746.0 64.1h-3.3" stroke="#404040" stroke-width="1.2" fill="none"/>
<text x="124.4" y="423.0" text-anchor="end" font-size="30.5" fill="#404040">20</text>
<text x="124.4" y="340.5" text-anchor="end" font-size="30.5" fill="#404040">30</text>
<text x="124.4" y="281.9" text-anchor="end" font-size="30.5" fill="#404040">40</text>
<text x="124.4" y="236.5" text-anchor="end" font-size="30.5" fill="#404040">50</text>
<text x="124.4" y="95.5" text-anchor="end" font-size="30.5" fill="#404040">100</text>
<text x="124.4" y="564.0" text-anchor="end" font-size="30.5" fill="#404040">10</text>
<text x="136.6" y="604.5" font-size="29.5" fill="#404040" text-anchor="middle"><tspan>10</tspan><tspan dy="-15.4" font-size="24.5">2</tspan></text>
<text x="382.1" y="604.5" font-size="29.5" fill="#404040" text-anchor="middle"><tspan>10</tspan><tspan dy="-15.4" font-size="24.5">3</tspan></text>
<text x="627.5" y="604.5" font-size="29.5" fill="#404040" text-anchor="middle"><tspan>10</tspan><tspan dy="-15.4" font-size="24.5">4</tspan></text>
<text transform="translate(57,300.5) rotate(-90)" text-anchor="middle" font-size="36.8" fill="#404040"><tspan dy="-19" font-size="27">236</tspan><tspan dy="19">U (10</tspan><tspan dy="-19" font-size="27">6</tspan><tspan dy="19"> at l</tspan><tspan dy="-19" font-size="27">-1</tspan><tspan dy="19">)</tspan></text>
<text x="433.5" y="37" text-anchor="middle" font-size="27.5" fill="#000">Averages 2015/16</text>
<text x="13.9" y="55.4" font-size="46.5" fill="#000">(a)</text>
<text x="508.0" y="87.0" font-size="22.4" font-weight="bold" fill="#0b7a43">25 y</text>
<text x="583.0" y="248.0" font-size="22.4" font-weight="bold" fill="#0b7a43">20 yr</text>
<text x="706.5" y="179.5" font-size="22.4" font-weight="bold" fill="#0b7a43">15 yr</text>
<text x="684.0" y="308.0" font-size="22.4" font-weight="bold" fill="#0b7a43">10 yr</text>
<text x="677.5" y="331.5" font-size="22.4" font-weight="bold" fill="#0b7a43">5 yr</text>
<text x="684.6" y="374.4" font-size="22.4" font-weight="bold" fill="#0b7a43">0 yr</text>
<circle cx="506.7" cy="91.7" r="4.9" fill="#0b7a43"/>
<circle cx="512.3" cy="89.7" r="4.9" fill="#0b7a43"/>
<circle cx="512.8" cy="172.8" r="4.9" fill="#0b7a43"/>
<circle cx="541.0" cy="175.8" r="4.9" fill="#0b7a43"/>
<circle cx="560.1" cy="250.4" r="4.9" fill="#0b7a43"/>
<circle cx="583.3" cy="253.4" r="4.9" fill="#0b7a43"/>
<circle cx="618.6" cy="222.3" r="4.9" fill="#0b7a43"/>
<circle cx="658.9" cy="217.2" r="4.9" fill="#0b7a43"/>
<circle cx="687.6" cy="193.6" r="4.9" fill="#0b7a43"/>
<circle cx="706.2" cy="185.0" r="4.9" fill="#0b7a43"/>
<circle cx="710.5" cy="195.8" r="4.9" fill="#0b7a43"/>
<circle cx="700.2" cy="204.3" r="4.9" fill="#0b7a43"/>
<circle cx="707.0" cy="217.4" r="4.9" fill="#0b7a43"/>
<circle cx="694.6" cy="252.5" r="4.9" fill="#0b7a43"/>
<circle cx="681.6" cy="291.5" r="4.9" fill="#0b7a43"/>
<circle cx="688.3" cy="307.5" r="4.9" fill="#0b7a43"/>
<circle cx="686.7" cy="310.9" r="4.9" fill="#0b7a43"/>
<circle cx="685.4" cy="314.0" r="4.9" fill="#0b7a43"/>
<circle cx="684.6" cy="317.5" r="4.9" fill="#0b7a43"/>
<circle cx="683.6" cy="320.2" r="4.9" fill="#0b7a43"/>
<circle cx="678.5" cy="313.6" r="4.9" fill="#0b7a43"/>
<circle cx="675.8" cy="339.0" r="4.9" fill="#0b7a43"/>
<circle cx="666.0" cy="358.8" r="4.9" fill="#0b7a43"/>
<circle cx="664.6" cy="370.3" r="4.9" fill="#0b7a43"/>
<circle cx="669.7" cy="373.4" r="4.9" fill="#0b7a43"/>
<circle cx="673.8" cy="376.0" r="4.9" fill="#0b7a43"/>
<circle cx="677.9" cy="378.5" r="4.9" fill="#0b7a43"/>
<circle cx="682.0" cy="380.5" r="4.9" fill="#0b7a43"/>
<circle cx="684.6" cy="382.2" r="4.9" fill="#0b7a43"/>
<polyline fill="none" stroke="#b2b2b2" stroke-width="1.65" points="137.8,503.7 142.4,501.8 147.1,499.8 151.7,497.8 156.3,495.7 160.9,493.5 165.6,491.3 170.2,489.0 174.8,486.6 179.4,484.1 184.1,481.6 188.7,478.9 193.3,476.2 198.0,473.4 202.6,470.6 207.2,467.6 211.8,464.6 216.5,461.4 221.1,458.2 225.7,454.9 230.4,451.5 235.0,448.0 239.6,444.5 244.2,440.8 248.9,437.0 253.5,433.2 258.1,429.2 262.7,425.1 267.4,421.0 272.0,416.8 276.6,412.4 281.3,408.0 285.9,403.5 290.5,398.8 295.1,394.1 299.8,389.3 304.4,384.4 309.0,379.4 313.6,374.3 318.3,369.1 322.9,363.8 327.5,358.4 332.2,353.0 336.8,347.4 341.4,341.8 346.0,336.0 350.7,330.2 355.3,324.3 359.9,318.3 364.5,312.3 369.2,306.1 373.8,299.9 378.4,293.5 383.1,287.2 387.7,280.7 392.3,274.1 396.9,267.5 401.6,260.8 406.2,254.1 410.8,247.3 415.4,240.4 420.1,233.4 424.7,226.4 429.3,219.3 434.0,212.2 438.6,205.0 443.2,197.7 447.8,190.4 452.5,183.0 457.1,175.6 461.7,168.2 466.4,160.6 471.0,153.1 475.6,145.5 480.2,137.8 484.9,130.1 489.5,122.4 494.1,114.6 498.7,106.8 503.4,98.9 508.0,91.0"/>
<polyline fill="none" stroke="#b2b2b2" stroke-width="1.65" points="137.8,541.9 143.4,541.3 148.9,540.8 154.5,540.2 160.1,539.6 165.6,538.9 171.2,538.3 176.8,537.6 182.3,536.8 187.9,536.0 193.5,535.2 199.1,534.3 204.6,533.4 210.2,532.5 215.8,531.5 221.3,530.4 226.9,529.3 232.5,528.2 238.0,527.0 243.6,525.7 249.2,524.4 254.7,523.0 260.3,521.6 265.9,520.1 271.5,518.5 277.0,516.9 282.6,515.1 288.2,513.4 293.7,511.5 299.3,509.5 304.9,507.5 310.4,505.3 316.0,503.1 321.6,500.8 327.1,498.4 332.7,495.9 338.3,493.2 343.8,490.5 349.4,487.7 355.0,484.8 360.6,481.7 366.1,478.6 371.7,475.3 377.3,471.9 382.8,468.4 388.4,464.7 394.0,460.9 399.5,457.0 405.1,453.0 410.7,448.9 416.2,444.6 421.8,440.1 427.4,435.6 432.9,430.9 438.5,426.0 444.1,421.1 449.6,415.9 455.2,410.7 460.8,405.3 466.4,399.8 471.9,394.1 477.5,388.3 483.1,382.3 488.6,376.3 494.2,370.1 499.8,363.7 505.3,357.2 510.9,350.6 516.5,343.9 522.0,337.0 527.6,330.0 533.2,322.9 538.8,315.6 544.3,308.3 549.9,300.8 555.5,293.2 561.0,285.5 566.6,277.7 572.2,269.8 577.7,261.7 583.3,253.6"/>
<polyline fill="none" stroke="#b2b2b2" stroke-width="1.65" points="137.8,547.1 144.9,546.7 152.0,546.4 159.1,546.0 166.2,545.6 173.3,545.1 180.4,544.7 187.5,544.2 194.6,543.7 201.7,543.1 208.8,542.5 216.0,541.9 223.1,541.2 230.2,540.5 237.3,539.7 244.4,538.9 251.5,538.0 258.6,537.1 265.7,536.1 272.8,535.0 279.9,533.9 287.0,532.7 294.1,531.4 301.2,530.1 308.3,528.7 315.4,527.1 322.5,525.5 329.6,523.8 336.7,522.0 343.8,520.1 351.0,518.1 358.1,516.0 365.2,513.7 372.3,511.3 379.4,508.8 386.5,506.1 393.6,503.3 400.7,500.3 407.8,497.2 414.9,493.9 422.0,490.5 429.1,486.9 436.2,483.0 443.3,479.1 450.4,474.9 457.5,470.5 464.6,465.9 471.7,461.1 478.8,456.1 485.9,450.9 493.0,445.5 500.2,439.9 507.3,434.0 514.4,428.0 521.5,421.7 528.6,415.1 535.7,408.4 542.8,401.4 549.9,394.2 557.0,386.8 564.1,379.1 571.2,371.2 578.3,363.1 585.4,354.8 592.5,346.3 599.6,337.6 606.7,328.6 613.8,319.5 620.9,310.2 628.0,300.7 635.2,290.9 642.3,281.0 649.4,271.0 656.5,260.7 663.6,250.3 670.7,239.8 677.8,229.1 684.9,218.2 692.0,207.2 699.1,196.1 706.2,184.8"/>
<polyline fill="none" stroke="#b2b2b2" stroke-width="1.65" points="137.8,549.2 144.6,549.0 151.3,548.8 158.1,548.6 164.8,548.4 171.6,548.1 178.4,547.9 185.1,547.6 191.9,547.3 198.6,547.0 205.4,546.7 212.1,546.4 218.9,546.0 225.7,545.6 232.4,545.2 239.2,544.8 245.9,544.3 252.7,543.8 259.5,543.3 266.2,542.7 273.0,542.1 279.7,541.5 286.5,540.9 293.3,540.1 300.0,539.4 306.8,538.6 313.5,537.7 320.3,536.8 327.0,535.9 333.8,534.9 340.6,533.8 347.3,532.7 354.1,531.5 360.8,530.2 367.6,528.8 374.4,527.4 381.1,525.9 387.9,524.3 394.6,522.6 401.4,520.8 408.2,519.0 414.9,517.0 421.7,514.9 428.4,512.7 435.2,510.3 441.9,507.9 448.7,505.3 455.5,502.6 462.2,499.7 469.0,496.7 475.7,493.6 482.5,490.3 489.3,486.9 496.0,483.2 502.8,479.5 509.5,475.5 516.3,471.4 523.0,467.1 529.8,462.6 536.6,457.9 543.3,453.0 550.1,447.9 556.8,442.7 563.6,437.2 570.4,431.5 577.1,425.7 583.9,419.6 590.6,413.3 597.4,406.9 604.2,400.2 610.9,393.3 617.7,386.2 624.4,378.9 631.2,371.4 637.9,363.7 644.7,355.8 651.5,347.8 658.2,339.5 665.0,331.1 671.7,322.4 678.5,313.6"/>
<polyline fill="none" stroke="#b2b2b2" stroke-width="1.65" points="137.8,549.6 144.5,549.4 151.3,549.3 158.0,549.1 164.7,548.9 171.4,548.7 178.2,548.5 184.9,548.3 191.6,548.0 198.3,547.8 205.0,547.5 211.8,547.2 218.5,546.9 225.2,546.6 232.0,546.2 238.7,545.9 245.4,545.5 252.1,545.1 258.9,544.6 265.6,544.1 272.3,543.6 279.0,543.1 285.8,542.5 292.5,541.9 299.2,541.3 305.9,540.6 312.6,539.9 319.4,539.1 326.1,538.3 332.8,537.5 339.6,536.6 346.3,535.6 353.0,534.6 359.7,533.5 366.5,532.3 373.2,531.1 379.9,529.8 386.6,528.5 393.4,527.0 400.1,525.5 406.8,523.9 413.5,522.2 420.3,520.4 427.0,518.5 433.7,516.5 440.4,514.4 447.1,512.1 453.9,509.8 460.6,507.3 467.3,504.7 474.1,502.0 480.8,499.1 487.5,496.1 494.2,493.0 501.0,489.7 507.7,486.2 514.4,482.6 521.1,478.8 527.9,474.8 534.6,470.7 541.3,466.3 548.0,461.8 554.8,457.2 561.5,452.3 568.2,447.2 574.9,441.9 581.7,436.5 588.4,430.8 595.1,425.0 601.8,418.9 608.5,412.6 615.3,406.2 622.0,399.5 628.7,392.6 635.5,385.6 642.2,378.3 648.9,370.8 655.6,363.1 662.4,355.3 669.1,347.2 675.8,339.0"/>
<polyline fill="none" stroke="#b2b2b2" stroke-width="1.65" points="137.8,550.4 144.6,550.3 151.5,550.2 158.3,550.1 165.1,550.0 172.0,549.8 178.8,549.7 185.6,549.6 192.5,549.4 199.3,549.2 206.1,549.0 213.0,548.8 219.8,548.6 226.7,548.4 233.5,548.2 240.3,547.9 247.2,547.7 254.0,547.4 260.8,547.1 267.7,546.8 274.5,546.4 281.3,546.1 288.2,545.7 295.0,545.3 301.8,544.8 308.7,544.3 315.5,543.8 322.3,543.3 329.2,542.8 336.0,542.2 342.8,541.5 349.7,540.9 356.5,540.1 363.4,539.4 370.2,538.6 377.0,537.7 383.9,536.8 390.7,535.8 397.5,534.8 404.4,533.7 411.2,532.6 418.0,531.3 424.9,530.0 431.7,528.7 438.5,527.2 445.4,525.7 452.2,524.0 459.0,522.3 465.9,520.5 472.7,518.6 479.5,516.5 486.4,514.4 493.2,512.1 500.1,509.7 506.9,507.2 513.7,504.6 520.6,501.8 527.4,498.9 534.2,495.8 541.1,492.6 547.9,489.2 554.7,485.6 561.6,481.9 568.4,478.0 575.2,474.0 582.1,469.7 588.9,465.3 595.7,460.7 602.6,455.9 609.4,450.9 616.2,445.6 623.1,440.2 629.9,434.6 636.8,428.8 643.6,422.8 650.4,416.5 657.3,410.1 664.1,403.4 670.9,396.6 677.8,389.5 684.6,382.2"/>
<path d="M344.2 446L395.6 507.1M482.3 331L563 401" stroke="#000" stroke-width="2.1" fill="none"/>
<path d="M170.6 514.5V534.5M164.1 514.5h13.0M164.1 534.5h13.0" stroke="#3c7dd0" stroke-width="1.3" fill="none"/>
<path d="M367.8 522.6H432.8M367.8 516.1v13.0M432.8 516.1v13.0" stroke="#86cc55" stroke-width="1.3" fill="none"/>
<path d="M589.4 399.3H610.4M589.4 392.8v13.0M610.4 392.8v13.0M599.4 386.8V411.8M592.9 386.8h13.0M592.9 411.8h13.0" stroke="#f3e83a" stroke-width="1.3" fill="none"/>
<path d="M502.6 479.6H525.6M502.6 473.1v13.0M525.6 473.1v13.0M514.6 468.1V491.1M508.1 468.1h13.0M508.1 491.1h13.0" stroke="#f59331" stroke-width="1.3" fill="none"/>
<circle cx="170.6" cy="524.5" r="7.3" fill="#3875c8" stroke="#111" stroke-width="1.5"/>
<circle cx="405.0" cy="522.6" r="7.3" fill="#a0d468" stroke="#111" stroke-width="1.5"/>
<circle cx="577.6" cy="404.3" r="7.3" fill="#2f4ea2" stroke="#111" stroke-width="1.5"/>
<circle cx="599.4" cy="399.3" r="7.3" fill="#f4ee2f" stroke="#111" stroke-width="1.5"/>
<circle cx="514.6" cy="479.6" r="7.3" fill="#f58a1e" stroke="#111" stroke-width="1.5"/>
<text x="77.0" y="507.0" font-size="27.3" fill="#000">Canada Basin</text>
<text x="157.0" y="436.0" font-size="27.3" fill="#000">Makarov Basin</text>
<text x="254.0" y="325.0" font-size="27.3" fill="#000">Fram Strait outflow</text>
<text x="603.4" y="428.7" font-size="27.3" fill="#000">Amundsen Basin</text>
<text x="531.3" y="507.0" font-size="27.3" fill="#000">Nansen Basin</text>
</g>
</svg></body></html>
